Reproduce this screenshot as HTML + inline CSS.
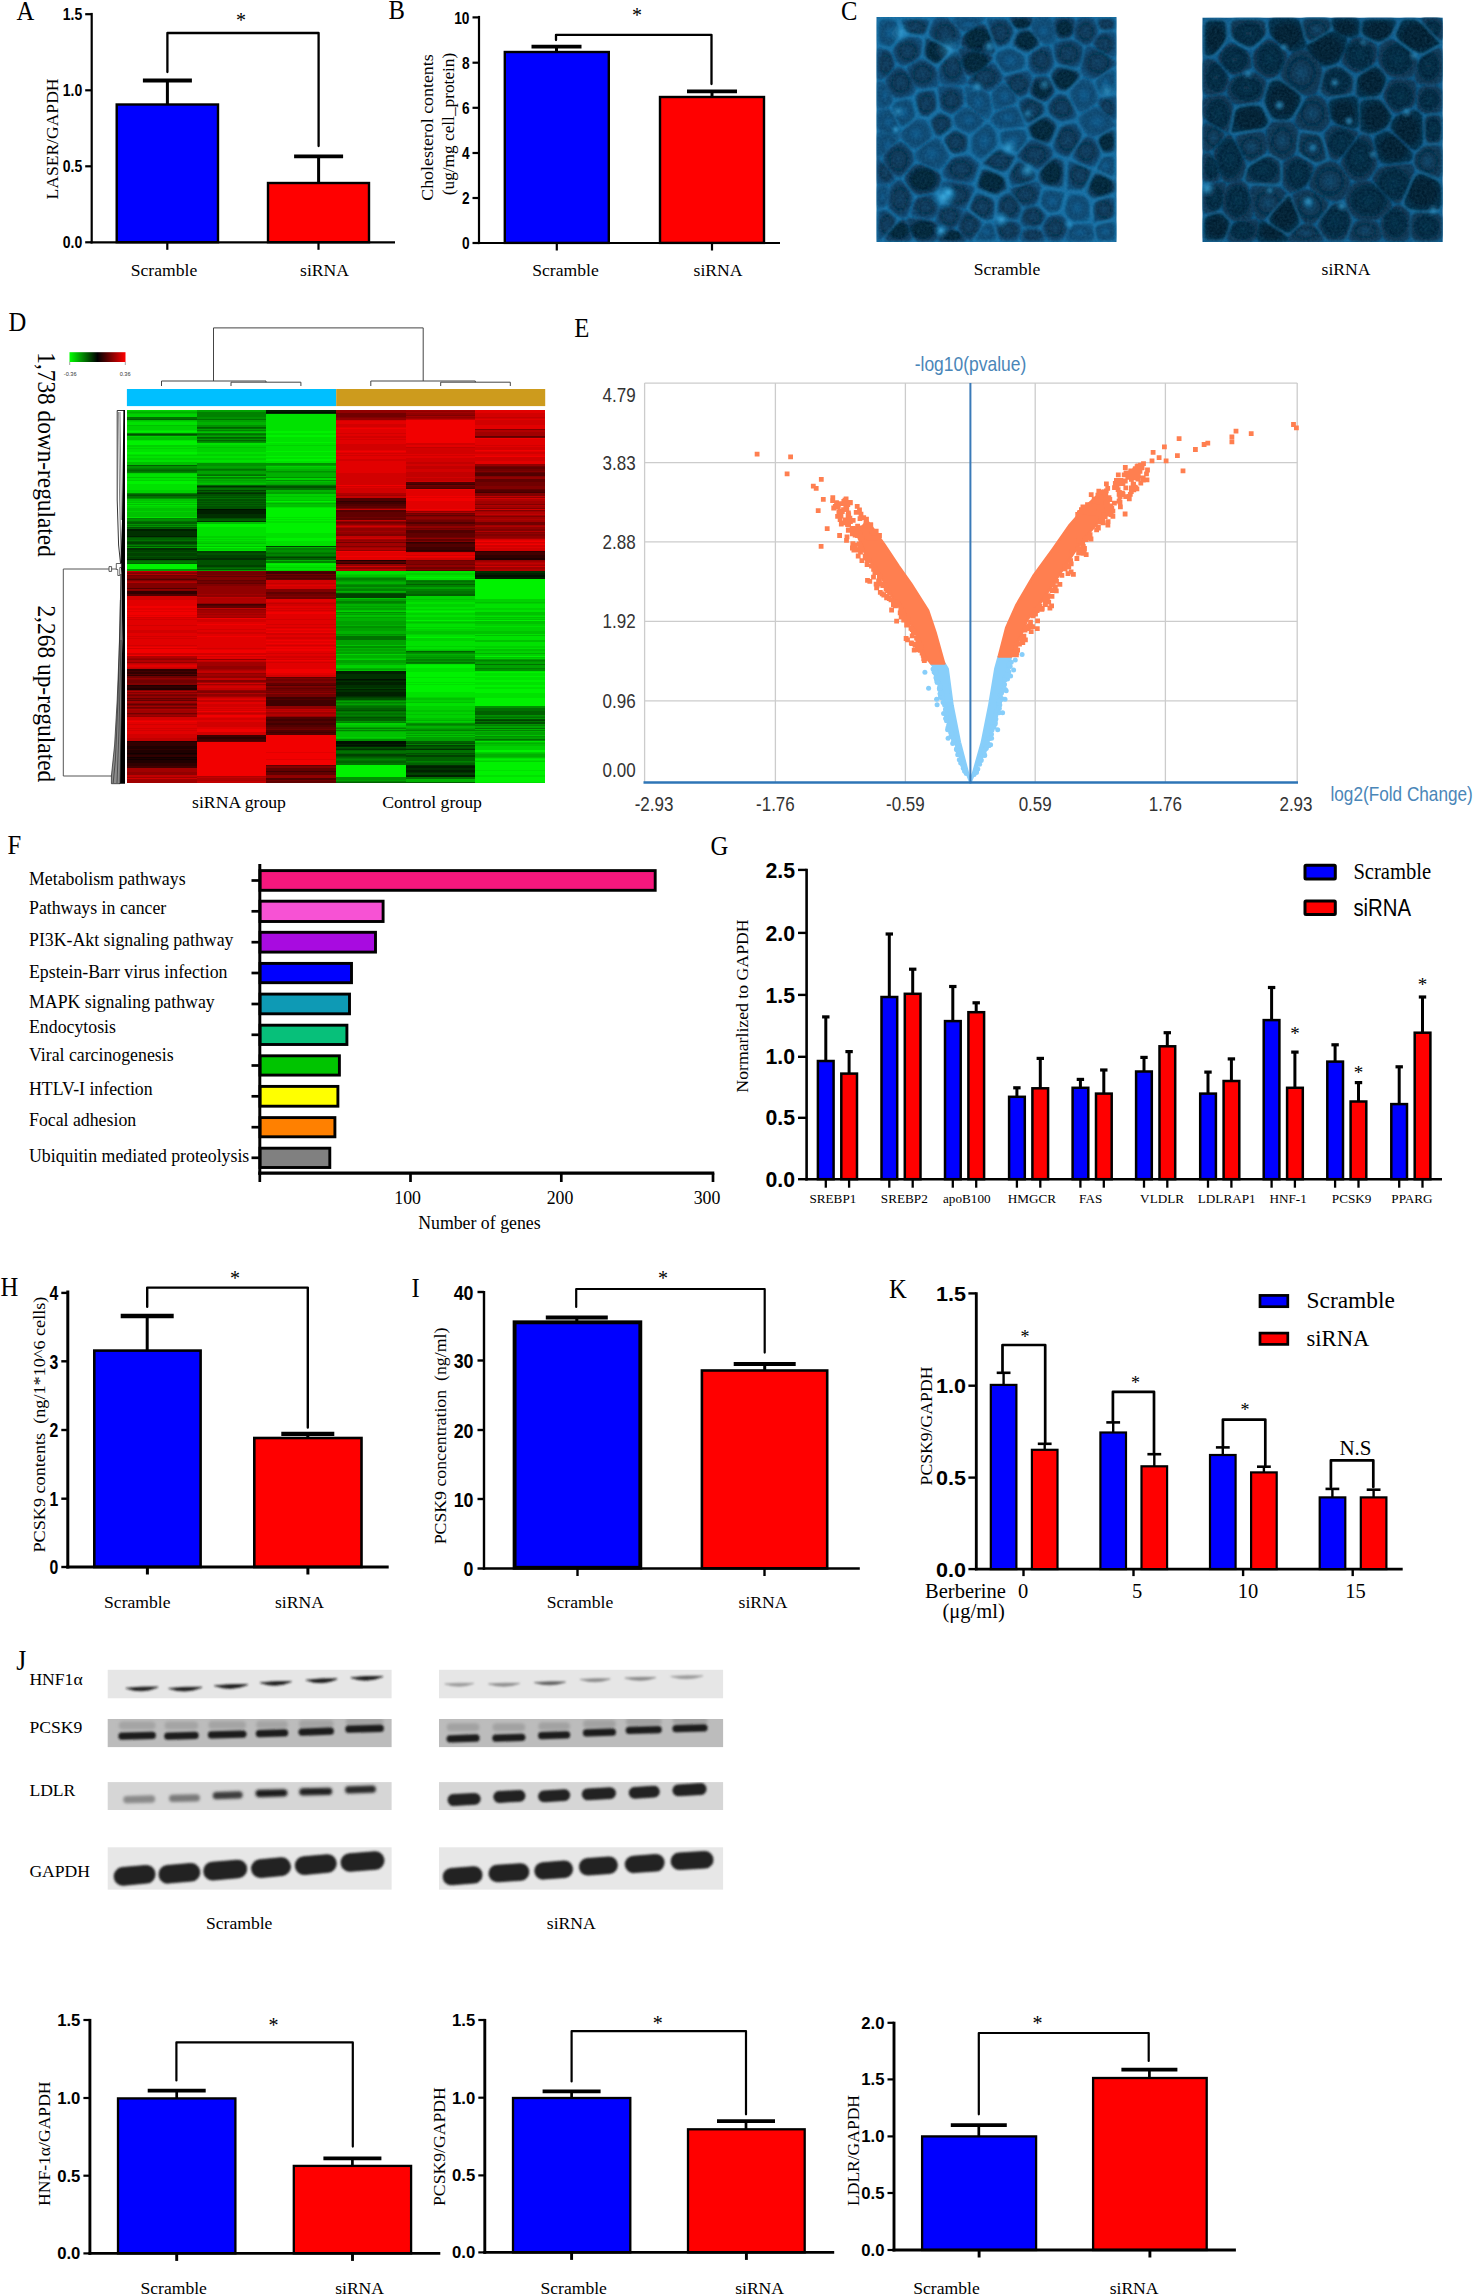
<!DOCTYPE html>
<html><head><meta charset="utf-8"><title>Figure</title>
<style>
html,body{margin:0;padding:0;background:#fff}
svg{display:block}
text{font-family:"Liberation Serif",serif}
text.a{font-family:"Liberation Sans",sans-serif}
</style></head><body>
<svg width="1474" height="2294" viewBox="0 0 1474 2294">
<rect width="1474" height="2294" fill="#fff"/>

<text x="16.6" y="19.7" font-size="28" textLength="17.8" lengthAdjust="spacingAndGlyphs">A</text>
<text x="388.5" y="19.3" font-size="28" textLength="16.4" lengthAdjust="spacingAndGlyphs">B</text>
<text x="841" y="20" font-size="28" textLength="16.4" lengthAdjust="spacingAndGlyphs">C</text>
<text x="8.5" y="331" font-size="28" textLength="17.8" lengthAdjust="spacingAndGlyphs">D</text>
<text x="574.2" y="337" font-size="28" textLength="15.1" lengthAdjust="spacingAndGlyphs">E</text>
<text x="7.5" y="854" font-size="28" textLength="13.7" lengthAdjust="spacingAndGlyphs">F</text>
<text x="710.5" y="855.2" font-size="28" textLength="17.8" lengthAdjust="spacingAndGlyphs">G</text>
<text x="0.6" y="1296.3" font-size="28" textLength="17.8" lengthAdjust="spacingAndGlyphs">H</text>
<text x="411.4" y="1297.2" font-size="28" textLength="8.2" lengthAdjust="spacingAndGlyphs">I</text>
<text x="888.9" y="1298" font-size="28" textLength="17.8" lengthAdjust="spacingAndGlyphs">K</text>
<text x="16.3" y="1670" font-size="29.3" textLength="10" lengthAdjust="spacingAndGlyphs">J</text>
<rect x="116.7" y="104.5" width="101.3" height="137.7" fill="#0000ff" stroke="#000" stroke-width="2.4"/>
<rect x="268" y="183" width="101" height="59.2" fill="#ff0000" stroke="#000" stroke-width="2.4"/>
<line x1="167.4" y1="104.5" x2="167.4" y2="80.5" stroke="#000" stroke-width="3.0"/>
<line x1="142.9" y1="80.5" x2="191.9" y2="80.5" stroke="#000" stroke-width="3.8"/>
<line x1="318.6" y1="183" x2="318.6" y2="156.3" stroke="#000" stroke-width="3.0"/>
<line x1="294.1" y1="156.3" x2="343.1" y2="156.3" stroke="#000" stroke-width="3.8"/>
<line x1="91.7" y1="12.9" x2="91.7" y2="243.4" stroke="#000" stroke-width="2.2"/>
<line x1="90.6" y1="242.3" x2="395" y2="242.3" stroke="#000" stroke-width="2.2"/>
<line x1="85.2" y1="14.2" x2="91.7" y2="14.2" stroke="#000" stroke-width="2.2"/>
<text x="82.2" y="20.2" font-size="16.7" class="a" font-weight="bold" text-anchor="end" textLength="19.5" lengthAdjust="spacingAndGlyphs">1.5</text>
<line x1="85.2" y1="90.3" x2="91.7" y2="90.3" stroke="#000" stroke-width="2.2"/>
<text x="82.2" y="96.3" font-size="16.7" class="a" font-weight="bold" text-anchor="end" textLength="19.5" lengthAdjust="spacingAndGlyphs">1.0</text>
<line x1="85.2" y1="166.3" x2="91.7" y2="166.3" stroke="#000" stroke-width="2.2"/>
<text x="82.2" y="172.3" font-size="16.7" class="a" font-weight="bold" text-anchor="end" textLength="19.5" lengthAdjust="spacingAndGlyphs">0.5</text>
<line x1="85.2" y1="242.3" x2="91.7" y2="242.3" stroke="#000" stroke-width="2.2"/>
<text x="82.2" y="248.3" font-size="16.7" class="a" font-weight="bold" text-anchor="end" textLength="19.5" lengthAdjust="spacingAndGlyphs">0.0</text>
<line x1="167.3" y1="242.3" x2="167.3" y2="249.8" stroke="#000" stroke-width="2.2"/>
<line x1="318.5" y1="242.3" x2="318.5" y2="249.8" stroke="#000" stroke-width="2.2"/>
<path d="M167.4 72V33H318.6V146" fill="none" stroke="#000" stroke-width="2.3" stroke-linejoin="round" stroke-linecap="round"/>
<text x="241" y="26.9" font-size="20" text-anchor="middle">*</text>
<text x="164" y="276.3" font-size="17.6" text-anchor="middle">Scramble</text>
<text x="324.5" y="276.3" font-size="17.6" text-anchor="middle">siRNA</text>
<text x="51.5" y="139" font-size="17.6" text-anchor="middle" transform="rotate(-90 51.5 139)" textLength="121" lengthAdjust="spacingAndGlyphs" dominant-baseline="central">LASER/GAPDH</text>
<rect x="504.8" y="52" width="104" height="190.9" fill="#0000ff" stroke="#000" stroke-width="2.4"/>
<rect x="660" y="97" width="104" height="145.9" fill="#ff0000" stroke="#000" stroke-width="2.4"/>
<line x1="556.5" y1="52" x2="556.5" y2="46.6" stroke="#000" stroke-width="3.0"/>
<line x1="531.5" y1="46.6" x2="581.5" y2="46.6" stroke="#000" stroke-width="3.8"/>
<line x1="712" y1="97" x2="712" y2="91.3" stroke="#000" stroke-width="3.0"/>
<line x1="687" y1="91.3" x2="737" y2="91.3" stroke="#000" stroke-width="3.8"/>
<line x1="479" y1="15.9" x2="479" y2="244.1" stroke="#000" stroke-width="2.2"/>
<line x1="477.9" y1="243" x2="780" y2="243" stroke="#000" stroke-width="2.2"/>
<line x1="472.5" y1="17.4" x2="479" y2="17.4" stroke="#000" stroke-width="2.2"/>
<text x="469.5" y="23.6" font-size="17.4" class="a" font-weight="bold" text-anchor="end" textLength="15.3" lengthAdjust="spacingAndGlyphs">10</text>
<line x1="472.5" y1="62.7" x2="479" y2="62.7" stroke="#000" stroke-width="2.2"/>
<text x="469.5" y="68.9" font-size="17.4" class="a" font-weight="bold" text-anchor="end" textLength="7.6" lengthAdjust="spacingAndGlyphs">8</text>
<line x1="472.5" y1="107.8" x2="479" y2="107.8" stroke="#000" stroke-width="2.2"/>
<text x="469.5" y="114" font-size="17.4" class="a" font-weight="bold" text-anchor="end" textLength="7.6" lengthAdjust="spacingAndGlyphs">6</text>
<line x1="472.5" y1="153" x2="479" y2="153" stroke="#000" stroke-width="2.2"/>
<text x="469.5" y="159.2" font-size="17.4" class="a" font-weight="bold" text-anchor="end" textLength="7.6" lengthAdjust="spacingAndGlyphs">4</text>
<line x1="472.5" y1="198" x2="479" y2="198" stroke="#000" stroke-width="2.2"/>
<text x="469.5" y="204.2" font-size="17.4" class="a" font-weight="bold" text-anchor="end" textLength="7.6" lengthAdjust="spacingAndGlyphs">2</text>
<line x1="472.5" y1="243" x2="479" y2="243" stroke="#000" stroke-width="2.2"/>
<text x="469.5" y="249.2" font-size="17.4" class="a" font-weight="bold" text-anchor="end" textLength="7.6" lengthAdjust="spacingAndGlyphs">0</text>
<line x1="556.8" y1="243" x2="556.8" y2="250.5" stroke="#000" stroke-width="2.2"/>
<line x1="712" y1="243" x2="712" y2="250.5" stroke="#000" stroke-width="2.2"/>
<path d="M556 40V34.8H711.5V84" fill="none" stroke="#000" stroke-width="2.3" stroke-linejoin="round" stroke-linecap="round"/>
<text x="637" y="22.4" font-size="20" text-anchor="middle">*</text>
<text x="565.5" y="276.3" font-size="17.6" text-anchor="middle">Scramble</text>
<text x="718" y="276.3" font-size="17.6" text-anchor="middle">siRNA</text>
<text x="426.5" y="127.5" font-size="17.6" text-anchor="middle" transform="rotate(-90 426.5 127.5)" textLength="146.5" lengthAdjust="spacingAndGlyphs" dominant-baseline="central">Cholesterol contents</text>
<text x="447.5" y="124" font-size="17.6" text-anchor="middle" transform="rotate(-90 447.5 124)" textLength="142.5" lengthAdjust="spacingAndGlyphs" dominant-baseline="central">(ug/mg cell_protein)</text>
<defs><radialGradient id="cg1a"><stop offset="0" stop-color="#0a3c60"/><stop offset="0.6" stop-color="#062e4a"/><stop offset="1" stop-color="#0b4772"/></radialGradient><radialGradient id="cg1b"><stop offset="0" stop-color="#10598c"/><stop offset="0.6" stop-color="#0a436b"/><stop offset="1" stop-color="#0d4f7c"/></radialGradient><radialGradient id="cg1c"><stop offset="0" stop-color="#052438"/><stop offset="0.6" stop-color="#041f32"/><stop offset="1" stop-color="#093b5e"/></radialGradient><radialGradient id="cg2a"><stop offset="0" stop-color="#072c45"/><stop offset="0.6" stop-color="#052338"/><stop offset="1" stop-color="#083553"/></radialGradient><radialGradient id="cg2b"><stop offset="0" stop-color="#0c4469"/><stop offset="0.6" stop-color="#062b44"/><stop offset="1" stop-color="#083654"/></radialGradient><radialGradient id="cg2c"><stop offset="0" stop-color="#041c2e"/><stop offset="0.6" stop-color="#041d2f"/><stop offset="1" stop-color="#062b44"/></radialGradient><radialGradient id="sg"><stop offset="0" stop-color="#46bdf2" stop-opacity="0.95"/><stop offset="0.5" stop-color="#2a9bd6" stop-opacity="0.5"/><stop offset="1" stop-color="#1b7fb9" stop-opacity="0"/></radialGradient>
<filter id="bl1" x="-5%" y="-5%" width="110%" height="110%"><feGaussianBlur stdDeviation="1.1"/></filter>
<filter id="bl2" x="-5%" y="-5%" width="110%" height="110%"><feGaussianBlur stdDeviation="0.9"/></filter>
<filter id="grain" x="0" y="0" width="100%" height="100%"><feTurbulence type="fractalNoise" baseFrequency="0.4" numOctaves="2" seed="4"/><feColorMatrix type="matrix" values="0 0 0 0 0.1  0 0 0 0 0.5  0 0 0 0 0.8  0.9 0.9 0 0 -0.55"/></filter>
</defs>
<clipPath id="cp1"><rect x="876.5" y="17" width="240" height="225"/></clipPath>
<g clip-path="url(#cp1)">
<rect x="874.5" y="15" width="244" height="229" fill="#176ca1"/>
<g filter="url(#bl1)" stroke-linejoin="round">
<path d="M983.3 126.2Q987.8 122.6 987.8 122.6L987.9 122.6Q988 122.5 990.3 124.9L993.9 128.6Q996.2 130.9 996.7 134.9L997.6 141.3Q998.1 145.3 993.3 149.6L985.6 156.4Q980.8 160.6 977.9 158.2L973.4 154.4Q970.6 151.9 970.9 147.3L971.5 140Q971.9 135.4 976.4 131.8Z" fill="url(#cg1b)" stroke="url(#cg1b)" stroke-width="1.2"/>
<path d="M983.3 126.2Q987.8 122.6 987.8 122.6L987.9 122.6Q988 122.5 990.3 124.9L993.9 128.6Q996.2 130.9 996.7 134.9L997.6 141.3Q998.1 145.3 993.3 149.6L985.6 156.4Q980.8 160.6 977.9 158.2L973.4 154.4Q970.6 151.9 970.9 147.3L971.5 140Q971.9 135.4 976.4 131.8Z" fill="none" stroke="#2a96d2" stroke-width="1.1" opacity="0.4"/>
<path d="M1102.1 110.7Q1097 105.5 1092.3 108.5L1084.8 113.1Q1080.1 116.1 1079.6 117.2L1079 118.9Q1078.5 120 1080.7 123.9L1084.1 130.1Q1086.3 134 1088.6 134.7L1092.3 135.9Q1094.6 136.7 1100.3 133.6L1109.3 128.8Q1115 125.7 1115 125.2L1115 124.5Q1115 124.1 1110 118.9Z" fill="url(#cg1b)" stroke="url(#cg1b)" stroke-width="1.2"/>
<path d="M930.9 132.4Q932.8 136.8 927.5 140.5L919.2 146.3Q913.8 150 910.3 146.4L904.7 140.8Q901.1 137.1 901.1 136.9L901 136.4Q900.9 136.1 901.3 134.8L901.9 132.7Q902.3 131.4 906.6 128L913.3 122.6Q917.6 119.2 920 119.7L923.7 120.6Q926.1 121.1 928 125.5Z" fill="url(#cg1b)" stroke="url(#cg1b)" stroke-width="1.2"/>
<path d="M1010.4 189.1Q1010.5 188.8 1017.8 186.7L1029.2 183.3Q1036.5 181.2 1037.8 182.8L1039.8 185.4Q1041.1 187.1 1039.9 191.7L1038 199.1Q1036.8 203.7 1033.2 204.7L1027.5 206.3Q1023.8 207.3 1020 202.4L1013.9 194.7Q1010.1 189.8 1010.2 189.6Z" fill="url(#cg1a)" stroke="url(#cg1a)" stroke-width="1.2"/>
<path d="M899 67.2Q897 66.6 893.4 70.5L887.7 76.6Q884 80.5 887 85.6L891.8 93.6Q894.8 98.8 899.5 97.8L906.9 96.3Q911.7 95.3 912.9 93.6L914.9 90.9Q916.2 89.1 912.8 83.5L907.4 74.5Q904 68.9 902.1 68.2Z" fill="url(#cg1a)" stroke="url(#cg1a)" stroke-width="1.2"/>
<path d="M910 192.3Q913.4 196.9 911.7 202.2L908.9 210.5Q907.2 215.8 906.7 216.2L905.9 216.8Q905.4 217.2 904.2 217.3L902.2 217.4Q900.9 217.5 897 214.5L891 209.9Q887.1 206.9 888.1 201.1L889.7 192Q890.7 186.2 892.5 184.7L895.3 182.3Q897.1 180.9 898.3 180.7L900.2 180.5Q901.4 180.4 904.7 185Z" fill="url(#cg1a)" stroke="url(#cg1a)" stroke-width="1.2"/>
<path d="M1031.7 24.9Q1030.5 27.6 1034.1 32.1L1039.9 39.2Q1043.5 43.6 1045.7 43.8L1049.1 44Q1051.3 44.1 1052.7 42.9L1054.9 40.9Q1056.4 39.7 1055.1 33.5L1053.1 23.9Q1051.8 17.7 1047 17.7L1039.5 17.7Q1034.7 17.7 1033.6 20.5Z" fill="url(#cg1b)" stroke="url(#cg1b)" stroke-width="1.2"/>
<path d="M1094.4 229.5Q1093.6 224.7 1099.9 223.4L1109.8 221.2Q1116 219.8 1116 225.9L1116 235.5Q1116 241.6 1110.5 241.6L1101.9 241.6Q1096.5 241.6 1095.7 236.9Z" fill="url(#cg1b)" stroke="url(#cg1b)" stroke-width="1.2"/>
<path d="M1094.4 229.5Q1093.6 224.7 1099.9 223.4L1109.8 221.2Q1116 219.8 1116 225.9L1116 235.5Q1116 241.6 1110.5 241.6L1101.9 241.6Q1096.5 241.6 1095.7 236.9Z" fill="none" stroke="#2a96d2" stroke-width="1.1" opacity="0.7"/>
<path d="M1031.9 167Q1037.4 170.8 1041.9 166.2L1049.1 159.1Q1053.6 154.5 1052.6 152.4L1051 149.2Q1050 147.1 1044.5 144.9L1035.8 141.4Q1030.3 139.2 1026.7 143.8L1021 150.9Q1017.4 155.4 1017.5 155.9L1017.6 156.8Q1017.7 157.3 1023.2 161.1Z" fill="url(#cg1a)" stroke="url(#cg1a)" stroke-width="1.2"/>
<path d="M903.3 29.2Q904.9 33.5 910.1 34.2L918.2 35.3Q923.4 36 924 35.6L924.9 35Q925.5 34.7 927.3 30.1L930.1 22.9Q931.9 18.3 922.8 18.3L908.5 18.3Q899.4 18.3 900.9 22.6Z" fill="url(#cg1a)" stroke="url(#cg1a)" stroke-width="1.2"/>
<path d="M903.3 29.2Q904.9 33.5 910.1 34.2L918.2 35.3Q923.4 36 924 35.6L924.9 35Q925.5 34.7 927.3 30.1L930.1 22.9Q931.9 18.3 922.8 18.3L908.5 18.3Q899.4 18.3 900.9 22.6Z" fill="none" stroke="#2a96d2" stroke-width="1.1" opacity="0.7"/>
<path d="M1012.9 26.8Q1015.3 30.1 1013.6 34L1010.9 40.3Q1009.3 44.2 1005.7 45.4L1000.2 47.3Q996.7 48.5 993.8 40.9L989.2 29Q986.2 21.4 986.5 20.5L986.9 19.2Q987.2 18.3 992.7 18.3L1001.3 18.3Q1006.7 18.3 1009.1 21.6Z" fill="url(#cg1a)" stroke="url(#cg1a)" stroke-width="1.2"/>
<path d="M1012.9 26.8Q1015.3 30.1 1013.6 34L1010.9 40.3Q1009.3 44.2 1005.7 45.4L1000.2 47.3Q996.7 48.5 993.8 40.9L989.2 29Q986.2 21.4 986.5 20.5L986.9 19.2Q987.2 18.3 992.7 18.3L1001.3 18.3Q1006.7 18.3 1009.1 21.6Z" fill="none" stroke="#2a96d2" stroke-width="1.1" opacity="0.5"/>
<path d="M937.5 85.3Q937.9 84.9 937.5 80.3L936.8 73.1Q936.4 68.5 932.5 65.7L926.3 61.3Q922.4 58.5 917.6 61.2L910.1 65.4Q905.4 68.1 908.8 74L914.3 83.1Q917.8 88.9 923 88.2L931.3 87Q936.5 86.2 936.9 85.9Z" fill="url(#cg1a)" stroke="url(#cg1a)" stroke-width="1.2"/>
<path d="M899.1 134.2Q898.7 135.5 892.7 134.1L883.3 131.9Q877.4 130.4 877.4 125L877.4 116.5Q877.4 111.1 880.9 110.4L886.3 109.4Q889.8 108.7 892.7 114.8L897.2 124.5Q900.1 130.7 899.7 132Z" fill="url(#cg1b)" stroke="url(#cg1b)" stroke-width="1.2"/>
<path d="M990.2 220.5Q992.3 220.2 993 219.6L993.9 218.6Q994.6 218 995 212.7L995.6 204.4Q996.1 199.1 990.5 196.9L981.6 193.4Q976 191.2 973.6 196.2L969.7 204.2Q967.2 209.3 972.1 212.7L979.8 218Q984.7 221.3 986.9 221Z" fill="url(#cg1a)" stroke="url(#cg1a)" stroke-width="1.2"/>
<path d="M990.2 220.5Q992.3 220.2 993 219.6L993.9 218.6Q994.6 218 995 212.7L995.6 204.4Q996.1 199.1 990.5 196.9L981.6 193.4Q976 191.2 973.6 196.2L969.7 204.2Q967.2 209.3 972.1 212.7L979.8 218Q984.7 221.3 986.9 221Z" fill="none" stroke="#2a96d2" stroke-width="1.1" opacity="0.7"/>
<path d="M988.4 166.9Q981.6 164 981.6 163.7L981.5 163.4Q981.4 163.1 986.5 158.6L994.6 151.5Q999.7 146.9 1004.3 149.4L1011.3 153.3Q1015.8 155.7 1015.9 156.3L1016.1 157.1Q1016.2 157.6 1013.3 162.3L1008.7 169.8Q1005.8 174.5 999.1 171.6Z" fill="url(#cg1a)" stroke="url(#cg1a)" stroke-width="1.2"/>
<path d="M988.4 166.9Q981.6 164 981.6 163.7L981.5 163.4Q981.4 163.1 986.5 158.6L994.6 151.5Q999.7 146.9 1004.3 149.4L1011.3 153.3Q1015.8 155.7 1015.9 156.3L1016.1 157.1Q1016.2 157.6 1013.3 162.3L1008.7 169.8Q1005.8 174.5 999.1 171.6Z" fill="none" stroke="#2a96d2" stroke-width="1.1" opacity="0.6"/>
<path d="M1002.5 77.3Q1002.6 76.4 999.9 72.1L995.7 65.4Q993 61.2 986.1 66.5L975.3 74.9Q968.4 80.2 968 81.2L967.5 82.8Q967.2 83.8 973.6 86L983.6 89.5Q990 91.7 993.4 88.3L998.8 83.1Q1002.2 79.8 1002.3 78.8Z" fill="url(#cg1a)" stroke="url(#cg1a)" stroke-width="1.2"/>
<path d="M1067.4 189.8Q1067.8 190.2 1072.3 190.3L1079.3 190.5Q1083.8 190.6 1086.3 184.9L1090.4 176Q1092.9 170.3 1092.9 170.2L1092.9 170.1Q1092.8 170.1 1086.4 167.3L1076.4 163Q1070 160.3 1069.3 160.5L1068.2 160.8Q1067.5 161 1067.2 168.7L1066.8 180.9Q1066.5 188.7 1066.9 189.1Z" fill="url(#cg1a)" stroke="url(#cg1a)" stroke-width="1.2"/>
<path d="M1067.4 189.8Q1067.8 190.2 1072.3 190.3L1079.3 190.5Q1083.8 190.6 1086.3 184.9L1090.4 176Q1092.9 170.3 1092.9 170.2L1092.9 170.1Q1092.8 170.1 1086.4 167.3L1076.4 163Q1070 160.3 1069.3 160.5L1068.2 160.8Q1067.5 161 1067.2 168.7L1066.8 180.9Q1066.5 188.7 1066.9 189.1Z" fill="none" stroke="#2a96d2" stroke-width="1.1" opacity="0.6"/>
<path d="M946.4 84.4Q940 84.2 939.6 79.8L938.9 72.8Q938.5 68.4 942.8 63.7L949.7 56.4Q954 51.8 954.9 51.6L956.2 51.4Q957.1 51.2 959.6 59.2L963.6 71.6Q966.2 79.5 965.9 80.5L965.4 82Q965.1 83 964.5 83.5L963.6 84.3Q963 84.8 956.5 84.6Z" fill="url(#cg1a)" stroke="url(#cg1a)" stroke-width="1.2"/>
<path d="M935.1 39.3Q927.9 35.5 929.8 30.7L932.8 23Q934.7 18.1 938.4 18.1L944.2 18.1Q947.9 18.1 951.7 22.7L957.7 29.9Q961.5 34.6 960.6 38L959.4 43.4Q958.5 46.9 958 47.3L957.3 48Q956.8 48.5 955.9 48.7L954.5 48.9Q953.6 49.1 946.4 45.3Z" fill="url(#cg1a)" stroke="url(#cg1a)" stroke-width="1.2"/>
<path d="M1076.9 116Q1077.3 114.9 1074.2 109.2L1069.3 100.1Q1066.1 94.4 1063.6 94.1L1059.8 93.7Q1057.3 93.5 1054.4 96.6L1049.9 101.4Q1047.1 104.5 1047.3 106.9L1047.6 110.7Q1047.8 113.1 1051.3 115.7L1056.7 119.8Q1060.2 122.4 1064.6 121.4L1071.4 119.8Q1075.8 118.7 1076.2 117.7Z" fill="url(#cg1a)" stroke="url(#cg1a)" stroke-width="1.2"/>
<path d="M1076.9 116Q1077.3 114.9 1074.2 109.2L1069.3 100.1Q1066.1 94.4 1063.6 94.1L1059.8 93.7Q1057.3 93.5 1054.4 96.6L1049.9 101.4Q1047.1 104.5 1047.3 106.9L1047.6 110.7Q1047.8 113.1 1051.3 115.7L1056.7 119.8Q1060.2 122.4 1064.6 121.4L1071.4 119.8Q1075.8 118.7 1076.2 117.7Z" fill="none" stroke="#2a96d2" stroke-width="1.1" opacity="0.4"/>
<path d="M1093.1 222.9Q1092.9 222.7 1092.8 216.6L1092.7 207.1Q1092.6 201.1 1099 199.4L1109 196.7Q1115.4 195 1115.4 201.6L1115.4 212.1Q1115.4 218.7 1109.3 220.1L1099.8 222.1Q1093.8 223.5 1093.5 223.3Z" fill="url(#cg1a)" stroke="url(#cg1a)" stroke-width="1.2"/>
<path d="M1093.1 222.9Q1092.9 222.7 1092.8 216.6L1092.7 207.1Q1092.6 201.1 1099 199.4L1109 196.7Q1115.4 195 1115.4 201.6L1115.4 212.1Q1115.4 218.7 1109.3 220.1L1099.8 222.1Q1093.8 223.5 1093.5 223.3Z" fill="none" stroke="#2a96d2" stroke-width="1.1" opacity="0.7"/>
<path d="M886.3 50.4Q889.9 51.3 891.5 55.2L894 61.3Q895.6 65.2 892 69L886.4 75Q882.9 78.8 881.3 78.9L878.8 79.1Q877.3 79.2 877.3 70.4L877.3 56.6Q877.3 47.8 880.8 48.8Z" fill="url(#cg1a)" stroke="url(#cg1a)" stroke-width="1.2"/>
<path d="M910.4 165.6Q914 161.3 913.6 158.9L913 155.2Q912.6 152.8 909.1 149.2L903.4 143.5Q899.8 139.9 894.5 145.1L886 153.3Q880.6 158.6 885.2 163.8L892.5 171.9Q897.1 177.1 898.3 177L900.2 176.8Q901.4 176.7 904.9 172.4Z" fill="url(#cg1a)" stroke="url(#cg1a)" stroke-width="1.2"/>
<path d="M1060 91.1Q1057.4 90.9 1055.2 86.6L1051.6 80Q1049.3 75.7 1051.4 72.9L1054.5 68.4Q1056.5 65.5 1062.7 67L1072.5 69.3Q1078.8 70.7 1079.5 72.3L1080.5 74.7Q1081.2 76.3 1077.1 80.6L1070.6 87.4Q1066.5 91.8 1063.9 91.5Z" fill="url(#cg1c)" stroke="url(#cg1c)" stroke-width="1.2"/>
<path d="M1060 91.1Q1057.4 90.9 1055.2 86.6L1051.6 80Q1049.3 75.7 1051.4 72.9L1054.5 68.4Q1056.5 65.5 1062.7 67L1072.5 69.3Q1078.8 70.7 1079.5 72.3L1080.5 74.7Q1081.2 76.3 1077.1 80.6L1070.6 87.4Q1066.5 91.8 1063.9 91.5Z" fill="none" stroke="#2a96d2" stroke-width="1.1" opacity="0.6"/>
<path d="M991.8 118.5Q990.7 120.6 993 122.9L996.5 126.5Q998.8 128.8 1005.9 128.1L1017 126.9Q1024.1 126.1 1024.1 126L1024.1 126Q1024.1 125.9 1021.9 120.1L1018.3 111.1Q1016 105.3 1010.1 107.5L1000.7 111Q994.8 113.2 993.6 115.3Z" fill="url(#cg1b)" stroke="url(#cg1b)" stroke-width="1.2"/>
<path d="M939.6 174.8Q939.1 172.8 932.7 170.1L922.6 165.8Q916.2 163 912.7 167.4L907.2 174.2Q903.6 178.5 907 183.2L912.3 190.4Q915.7 195.1 921.6 194.2L930.8 192.7Q936.7 191.8 937.9 188.5L939.8 183.2Q941 179.9 940.5 177.9Z" fill="url(#cg1c)" stroke="url(#cg1c)" stroke-width="1.2"/>
<path d="M907 98.5Q911.6 97.6 913.1 103L915.3 111.5Q916.7 116.9 912.4 120.4L905.5 125.8Q901.2 129.3 898.4 123.3L893.9 113.9Q891.1 107.8 892.2 105.9L894 102.9Q895.1 101 899.7 100Z" fill="url(#cg1b)" stroke="url(#cg1b)" stroke-width="1.2"/>
<path d="M907 98.5Q911.6 97.6 913.1 103L915.3 111.5Q916.7 116.9 912.4 120.4L905.5 125.8Q901.2 129.3 898.4 123.3L893.9 113.9Q891.1 107.8 892.2 105.9L894 102.9Q895.1 101 899.7 100Z" fill="none" stroke="#2a96d2" stroke-width="1.1" opacity="0.5"/>
<path d="M939.4 227.4Q940.9 229.9 944.8 229.4L951.1 228.5Q955.1 228 957.7 222.8L961.9 214.8Q964.5 209.6 958.2 207.5L948.2 204.1Q941.9 202 940.1 207.2L937.4 215.5Q935.6 220.7 937.1 223.3Z" fill="url(#cg1a)" stroke="url(#cg1a)" stroke-width="1.2"/>
<path d="M930.4 115.5Q927.3 117.9 924.9 117.4L921.3 116.5Q918.9 116 917.5 110.7L915.3 102.4Q913.9 97.1 915.2 95.4L917.1 92.8Q918.3 91.2 923.2 90.5L930.9 89.3Q935.8 88.6 936.5 94.4L937.6 103.5Q938.3 109.3 935.2 111.7Z" fill="url(#cg1a)" stroke="url(#cg1a)" stroke-width="1.2"/>
<path d="M930.4 115.5Q927.3 117.9 924.9 117.4L921.3 116.5Q918.9 116 917.5 110.7L915.3 102.4Q913.9 97.1 915.2 95.4L917.1 92.8Q918.3 91.2 923.2 90.5L930.9 89.3Q935.8 88.6 936.5 94.4L937.6 103.5Q938.3 109.3 935.2 111.7Z" fill="none" stroke="#2a96d2" stroke-width="1.1" opacity="0.7"/>
<path d="M902.2 220.2Q900.9 220.3 895.7 226.1L887.5 235.2Q882.3 241 891 241L904.7 241Q913.5 241 911.2 235.1L907.7 225.9Q905.5 220 904.2 220.1Z" fill="url(#cg1c)" stroke="url(#cg1c)" stroke-width="1.2"/>
<path d="M933.3 167.7Q939.8 170.4 942.5 166.6L946.8 160.6Q949.6 156.8 946.7 152L942.2 144.4Q939.3 139.5 938 139.3L936 138.8Q934.8 138.6 929.4 142.3L920.9 148.3Q915.5 152 915.8 154.4L916.4 158.2Q916.8 160.6 923.2 163.4Z" fill="url(#cg1b)" stroke="url(#cg1b)" stroke-width="1.2"/>
<path d="M954.3 119.3Q953.8 116.6 957.1 113.7L962.3 109.1Q965.6 106.2 971.3 110.2L980.3 116.6Q986 120.7 981.5 124.3L974.5 130Q970 133.6 965.9 131.5L959.6 128.2Q955.6 126.1 955.1 123.5Z" fill="url(#cg1b)" stroke="url(#cg1b)" stroke-width="1.2"/>
<path d="M1067.3 228.9Q1069.4 224.4 1067 221.6L1063.2 217.4Q1060.8 214.6 1057.4 215.2L1052 216Q1048.5 216.5 1046.6 219.7L1043.7 224.8Q1041.8 228 1043.7 231.6L1046.6 237.2Q1048.5 240.7 1052.2 240.7L1058.1 240.7Q1061.8 240.7 1063.9 236.1Z" fill="url(#cg1a)" stroke="url(#cg1a)" stroke-width="1.2"/>
<path d="M938.1 227.8Q939.6 230.3 938.4 233.4L936.6 238.2Q935.5 241.2 929.8 241.2L920.9 241.2Q915.2 241.2 912.9 235.2L909.3 225.6Q907 219.6 907.5 219.2L908.3 218.5Q908.8 218.1 916 219L927.3 220.4Q934.4 221.3 935.9 223.8Z" fill="url(#cg1c)" stroke="url(#cg1c)" stroke-width="1.2"/>
<path d="M1088.2 136.9Q1085.9 136.2 1081.7 142.3L1075.1 151.8Q1070.9 157.9 1077.4 160.6L1087.6 165Q1094.1 167.8 1096 164.1L1099 158.3Q1100.9 154.5 1099 150.1L1096 143.2Q1094.1 138.9 1091.8 138.1Z" fill="url(#cg1a)" stroke="url(#cg1a)" stroke-width="1.2"/>
<path d="M969.3 31.3Q963.5 35 962.6 38.4L961.4 43.7Q960.6 47.1 969.5 49.2L983.5 52.3Q992.4 54.4 993.2 53.1L994.4 51.1Q995.1 49.8 992.1 42L987.3 29.8Q984.3 22 978.5 25.6Z" fill="url(#cg1c)" stroke="url(#cg1c)" stroke-width="1.2"/>
<path d="M1004.6 77.7Q1004.7 76.8 1010.9 75.1L1020.6 72.5Q1026.8 70.8 1028.4 72.4L1030.9 74.8Q1032.4 76.4 1030.9 81.4L1028.6 89.2Q1027.1 94.2 1024.8 95.2L1021.2 96.8Q1018.9 97.9 1014.9 92.9L1008.5 85.1Q1004.4 80.1 1004.5 79.2Z" fill="url(#cg1a)" stroke="url(#cg1a)" stroke-width="1.2"/>
<path d="M1006.2 193Q1009.4 190.9 1013.1 195.6L1019 203.1Q1022.8 207.8 1021.5 211.4L1019.6 217.2Q1018.4 220.8 1012.2 220L1002.6 218.9Q996.5 218.1 996.9 212.6L997.6 204Q998 198.5 1001.2 196.4Z" fill="url(#cg1a)" stroke="url(#cg1a)" stroke-width="1.2"/>
<path d="M1006.2 193Q1009.4 190.9 1013.1 195.6L1019 203.1Q1022.8 207.8 1021.5 211.4L1019.6 217.2Q1018.4 220.8 1012.2 220L1002.6 218.9Q996.5 218.1 996.9 212.6L997.6 204Q998 198.5 1001.2 196.4Z" fill="none" stroke="#2a96d2" stroke-width="1.1" opacity="0.4"/>
<path d="M1090.2 78.5Q1092.8 79.7 1099.1 75.6L1109 69.1Q1115.3 64.9 1115.3 64L1115.3 62.4Q1115.3 61.5 1108.3 57.2L1097.2 50.4Q1090.2 46.1 1089.1 46.4L1087.4 46.9Q1086.3 47.2 1084.8 53.5L1082.3 63.4Q1080.8 69.7 1081.5 71.3L1082.6 73.8Q1083.3 75.4 1086 76.6Z" fill="url(#cg1a)" stroke="url(#cg1a)" stroke-width="1.2"/>
<path d="M1109.9 176.6Q1115.4 179.4 1115.4 172.5L1115.4 161.6Q1115.4 154.7 1111.7 155L1106 155.5Q1102.3 155.9 1100.4 159.6L1097.5 165.4Q1095.6 169.1 1095.6 169.1L1095.6 169.2Q1095.6 169.3 1101.2 172.1Z" fill="url(#cg1b)" stroke="url(#cg1b)" stroke-width="1.2"/>
<path d="M1109.9 176.6Q1115.4 179.4 1115.4 172.5L1115.4 161.6Q1115.4 154.7 1111.7 155L1106 155.5Q1102.3 155.9 1100.4 159.6L1097.5 165.4Q1095.6 169.1 1095.6 169.1L1095.6 169.2Q1095.6 169.3 1101.2 172.1Z" fill="none" stroke="#2a96d2" stroke-width="1.1" opacity="0.7"/>
<path d="M889.4 212.3Q885.6 209.3 883.3 209.7L879.6 210.2Q877.3 210.6 877.3 218.8L877.3 231.8Q877.3 240.1 878.3 240.1L879.9 240.1Q880.9 240.1 886 234.4L894 225.5Q899.1 219.8 895.3 216.9Z" fill="url(#cg1a)" stroke="url(#cg1a)" stroke-width="1.2"/>
<path d="M889.4 212.3Q885.6 209.3 883.3 209.7L879.6 210.2Q877.3 210.6 877.3 218.8L877.3 231.8Q877.3 240.1 878.3 240.1L879.9 240.1Q880.9 240.1 886 234.4L894 225.5Q899.1 219.8 895.3 216.9Z" fill="none" stroke="#2a96d2" stroke-width="1.1" opacity="0.4"/>
<path d="M976.9 187.6Q977.2 188.5 982.7 190.7L991.3 194.1Q996.8 196.3 999.8 194.3L1004.5 191.1Q1007.5 189.1 1007.6 188.8L1007.7 188.4Q1007.8 188.1 1006.9 184.8L1005.5 179.7Q1004.6 176.4 998.3 173.7L988.4 169.4Q982 166.6 980.3 171.8L977.7 180Q976 185.2 976.3 186.1Z" fill="url(#cg1c)" stroke="url(#cg1c)" stroke-width="1.2"/>
<path d="M976.9 187.6Q977.2 188.5 982.7 190.7L991.3 194.1Q996.8 196.3 999.8 194.3L1004.5 191.1Q1007.5 189.1 1007.6 188.8L1007.7 188.4Q1007.8 188.1 1006.9 184.8L1005.5 179.7Q1004.6 176.4 998.3 173.7L988.4 169.4Q982 166.6 980.3 171.8L977.7 180Q976 185.2 976.3 186.1Z" fill="none" stroke="#2a96d2" stroke-width="1.1" opacity="0.7"/>
<path d="M959.2 241.6Q967.7 241.6 964.2 238L958.6 232.4Q955 228.9 951.2 229.4L945.1 230.3Q941.2 230.8 940.1 233.8L938.3 238.6Q937.1 241.6 945.7 241.6Z" fill="url(#cg1c)" stroke="url(#cg1c)" stroke-width="1.2"/>
<path d="M1039.7 181.4Q1038.6 179.9 1038.7 177.6L1038.9 174Q1039.1 171.7 1043.2 167.5L1049.7 161Q1053.8 156.9 1056.8 158L1061.4 159.9Q1064.4 161 1064.1 168.6L1063.7 180.6Q1063.4 188.1 1057.6 187.3L1048.5 186.1Q1042.7 185.2 1041.6 183.7Z" fill="url(#cg1c)" stroke="url(#cg1c)" stroke-width="1.2"/>
<path d="M1039.7 181.4Q1038.6 179.9 1038.7 177.6L1038.9 174Q1039.1 171.7 1043.2 167.5L1049.7 161Q1053.8 156.9 1056.8 158L1061.4 159.9Q1064.4 161 1064.1 168.6L1063.7 180.6Q1063.4 188.1 1057.6 187.3L1048.5 186.1Q1042.7 185.2 1041.6 183.7Z" fill="none" stroke="#2a96d2" stroke-width="1.1" opacity="0.4"/>
<path d="M974.1 178.1Q972.4 183.4 964.7 182L952.5 179.9Q944.7 178.5 944.2 176.6L943.4 173.5Q942.8 171.6 945.5 167.9L949.7 162.1Q952.4 158.3 956.8 157.4L963.8 156Q968.2 155.1 971 157.5L975.5 161.4Q978.4 163.8 978.4 164L978.5 164.4Q978.6 164.6 976.8 169.8Z" fill="url(#cg1a)" stroke="url(#cg1a)" stroke-width="1.2"/>
<path d="M1027.5 127Q1027.5 126.9 1032.6 123.6L1040.7 118.3Q1045.8 115 1049.3 117.6L1054.8 121.7Q1058.3 124.3 1055.8 130.2L1052 139.5Q1049.6 145.4 1044.4 143.3L1036.2 140Q1031 137.9 1030 134.9L1028.4 130.2Q1027.4 127.1 1027.4 127.1Z" fill="url(#cg1c)" stroke="url(#cg1c)" stroke-width="1.2"/>
<path d="M1027.5 127Q1027.5 126.9 1032.6 123.6L1040.7 118.3Q1045.8 115 1049.3 117.6L1054.8 121.7Q1058.3 124.3 1055.8 130.2L1052 139.5Q1049.6 145.4 1044.4 143.3L1036.2 140Q1031 137.9 1030 134.9L1028.4 130.2Q1027.4 127.1 1027.4 127.1Z" fill="none" stroke="#2a96d2" stroke-width="1.1" opacity="0.5"/>
<path d="M1085.2 221.9Q1090.5 221.7 1090.4 215.9L1090.3 206.8Q1090.3 201 1088.4 199L1085.6 196Q1083.8 194 1079.4 193.9L1072.4 193.7Q1068 193.6 1066.7 199L1064.6 207.4Q1063.3 212.7 1065.6 215.4L1069.2 219.5Q1071.6 222.2 1076.9 222.1Z" fill="url(#cg1b)" stroke="url(#cg1b)" stroke-width="1.2"/>
<path d="M1085.2 221.9Q1090.5 221.7 1090.4 215.9L1090.3 206.8Q1090.3 201 1088.4 199L1085.6 196Q1083.8 194 1079.4 193.9L1072.4 193.7Q1068 193.6 1066.7 199L1064.6 207.4Q1063.3 212.7 1065.6 215.4L1069.2 219.5Q1071.6 222.2 1076.9 222.1Z" fill="none" stroke="#2a96d2" stroke-width="1.1" opacity="0.6"/>
<path d="M1076.8 39.9Q1073.3 37.9 1074.4 32.3L1076.1 23.6Q1077.3 18 1081.9 18L1089.2 18Q1093.9 18 1095.2 21.9L1097.2 28.1Q1098.5 32 1096 35.5L1092.2 40.8Q1089.7 44.2 1088.6 44.5L1086.9 45Q1085.9 45.3 1082.3 43.2Z" fill="url(#cg1a)" stroke="url(#cg1a)" stroke-width="1.2"/>
<path d="M1051.4 51.5Q1050.4 46.6 1048.3 46.5L1045.2 46.3Q1043.1 46.2 1039.2 48.9L1032.9 53.1Q1028.9 55.8 1028.9 59.4L1029 65.1Q1029.1 68.8 1030.6 70.3L1033 72.6Q1034.5 74.2 1038 74.1L1043.7 74Q1047.2 73.9 1049.2 71.1L1052.2 66.8Q1054.1 64.1 1053.1 59.2Z" fill="url(#cg1a)" stroke="url(#cg1a)" stroke-width="1.2"/>
<path d="M1042 192.7Q1043.1 188.4 1048.9 189.3L1058 190.5Q1063.8 191.4 1064.2 191.8L1064.8 192.4Q1065.1 192.9 1063.8 198.2L1061.8 206.5Q1060.4 211.8 1057.1 212.4L1051.9 213.2Q1048.5 213.7 1045.9 210.9L1041.8 206.5Q1039.1 203.7 1040.2 199.4Z" fill="url(#cg1b)" stroke="url(#cg1b)" stroke-width="1.2"/>
<path d="M1042 192.7Q1043.1 188.4 1048.9 189.3L1058 190.5Q1063.8 191.4 1064.2 191.8L1064.8 192.4Q1065.1 192.9 1063.8 198.2L1061.8 206.5Q1060.4 211.8 1057.1 212.4L1051.9 213.2Q1048.5 213.7 1045.9 210.9L1041.8 206.5Q1039.1 203.7 1040.2 199.4Z" fill="none" stroke="#2a96d2" stroke-width="1.1" opacity="0.6"/>
<path d="M1096.6 101.5Q1096 103.2 1091.4 106L1084.3 110.5Q1079.7 113.3 1076.6 107.6L1071.8 98.7Q1068.7 93 1072.7 88.8L1079 82.3Q1083 78.1 1085.5 79.2L1089.5 81Q1092 82.2 1093.7 86.4L1096.3 93Q1097.9 97.2 1097.4 98.8Z" fill="url(#cg1b)" stroke="url(#cg1b)" stroke-width="1.2"/>
<path d="M1053.8 43.8Q1052.3 45 1053.5 50.3L1055.2 58.5Q1056.4 63.8 1062.8 65.3L1072.9 67.6Q1079.3 69.2 1080.9 62.8L1083.3 52.8Q1084.9 46.4 1081.3 44.3L1075.7 41Q1072.1 38.8 1068 39.3L1061.5 40.1Q1057.4 40.6 1056 41.8Z" fill="url(#cg1a)" stroke="url(#cg1a)" stroke-width="1.2"/>
<path d="M1053.8 43.8Q1052.3 45 1053.5 50.3L1055.2 58.5Q1056.4 63.8 1062.8 65.3L1072.9 67.6Q1079.3 69.2 1080.9 62.8L1083.3 52.8Q1084.9 46.4 1081.3 44.3L1075.7 41Q1072.1 38.8 1068 39.3L1061.5 40.1Q1057.4 40.6 1056 41.8Z" fill="none" stroke="#2a96d2" stroke-width="1.1" opacity="0.4"/>
<path d="M973.7 188.4Q974 189.5 971.5 194.8L967.4 203.2Q964.8 208.5 964.8 208.5L964.8 208.5Q964.8 208.5 958.6 206.4L948.8 203.1Q942.5 200.9 941.5 198.7L939.9 195.3Q938.9 193.1 940.1 189.6L942.1 184.2Q943.4 180.7 951.6 182.2L964.5 184.4Q972.7 185.8 973.1 186.9Z" fill="url(#cg1a)" stroke="url(#cg1a)" stroke-width="1.2"/>
<path d="M895.6 46.4Q892.5 50.2 894 54L896.4 59.9Q898 63.7 899.8 64.3L902.7 65.2Q904.6 65.8 909 63.3L915.9 59.3Q920.3 56.8 920.8 51.8L921.6 43.9Q922.1 38.9 916.9 38.2L908.9 37.1Q903.7 36.4 900.6 40.3Z" fill="url(#cg1a)" stroke="url(#cg1a)" stroke-width="1.2"/>
<path d="M955.5 111.6Q952.2 114.6 949 113L944 110.5Q940.8 108.9 940.1 103L938.9 93.7Q938.2 87.8 938.6 87.5L939.2 86.9Q939.6 86.6 946 86.7L956 87Q962.4 87.1 962.9 91.9L963.6 99.3Q964.1 104 960.7 107Z" fill="url(#cg1a)" stroke="url(#cg1a)" stroke-width="1.2"/>
<path d="M930.9 195.3Q936.6 194.4 937.5 196.5L939 199.7Q940 201.8 938.4 206.6L935.8 214.3Q934.2 219.1 927.5 218.3L916.9 216.9Q910.2 216.1 911.9 210.9L914.5 202.8Q916.2 197.6 921.9 196.8Z" fill="url(#cg1a)" stroke="url(#cg1a)" stroke-width="1.2"/>
<path d="M1001.2 70.7Q1003.8 74.8 1010 73.1L1019.7 70.5Q1025.8 68.8 1025.8 65.1L1025.7 59.2Q1025.6 55.4 1021.3 53L1014.4 49.3Q1010 46.9 1006.4 48.1L1000.8 50Q997.3 51.2 996.5 52.4L995.3 54.4Q994.6 55.6 994.6 56.9L994.6 58.8Q994.5 60 997.1 64.1Z" fill="url(#cg1b)" stroke="url(#cg1b)" stroke-width="1.2"/>
<path d="M1001.2 70.7Q1003.8 74.8 1010 73.1L1019.7 70.5Q1025.8 68.8 1025.8 65.1L1025.7 59.2Q1025.6 55.4 1021.3 53L1014.4 49.3Q1010 46.9 1006.4 48.1L1000.8 50Q997.3 51.2 996.5 52.4L995.3 54.4Q994.6 55.6 994.6 56.9L994.6 58.8Q994.5 60 997.1 64.1Z" fill="none" stroke="#2a96d2" stroke-width="1.1" opacity="0.6"/>
<path d="M951.9 119.7Q951.4 117.1 948.2 115.5L943.2 113Q940 111.4 936.9 113.9L932 117.8Q928.9 120.3 930.8 124.7L933.8 131.6Q935.6 136 936.9 136.3L938.8 136.7Q940 137 943.7 134L949.5 129.5Q953.2 126.5 952.7 123.9Z" fill="url(#cg1a)" stroke="url(#cg1a)" stroke-width="1.2"/>
<path d="M951.9 119.7Q951.4 117.1 948.2 115.5L943.2 113Q940 111.4 936.9 113.9L932 117.8Q928.9 120.3 930.8 124.7L933.8 131.6Q935.6 136 936.9 136.3L938.8 136.7Q940 137 943.7 134L949.5 129.5Q953.2 126.5 952.7 123.9Z" fill="none" stroke="#2a96d2" stroke-width="1.1" opacity="0.5"/>
<path d="M1048.1 99.4Q1045.2 102.4 1040.8 100.2L1033.8 96.7Q1029.4 94.5 1030.8 89.7L1033.1 82Q1034.5 77.1 1038.1 77L1043.8 76.9Q1047.5 76.8 1049.7 81L1053.1 87.4Q1055.3 91.5 1052.5 94.6Z" fill="url(#cg1c)" stroke="url(#cg1c)" stroke-width="1.2"/>
<path d="M1104.3 32.8Q1100.1 33.2 1097.7 36.4L1094 41.5Q1091.7 44.7 1098.3 48.8L1108.7 55.1Q1115.3 59.2 1115.3 51.5L1115.3 39.4Q1115.3 31.7 1111 32.1Z" fill="url(#cg1a)" stroke="url(#cg1a)" stroke-width="1.2"/>
<path d="M1091.5 224.5Q1091.3 224.2 1085.8 224.4L1077.3 224.6Q1071.9 224.7 1069.7 229.3L1066.4 236.5Q1064.3 241 1072.8 241L1086.3 241Q1094.8 241 1094.1 236.5L1092.9 229.5Q1092.2 225 1091.9 224.8Z" fill="url(#cg1b)" stroke="url(#cg1b)" stroke-width="1.2"/>
<path d="M885.7 86.7Q882.8 81.7 881.2 81.8L878.8 82Q877.2 82.1 877.2 89.6L877.2 101.3Q877.2 108.8 880.6 108.1L885.9 107.1Q889.3 106.4 890.4 104.5L892.2 101.5Q893.3 99.6 890.3 94.6Z" fill="url(#cg1b)" stroke="url(#cg1b)" stroke-width="1.2"/>
<path d="M881.4 45.4Q878 44.5 878 37.3L878 26.1Q878 19 883.1 19L891 19Q896 19 897.5 23.2L900 29.8Q901.5 34 898.3 37.9L893.4 44Q890.2 47.9 886.8 46.9Z" fill="url(#cg1b)" stroke="url(#cg1b)" stroke-width="1.2"/>
<path d="M881.4 45.4Q878 44.5 878 37.3L878 26.1Q878 19 883.1 19L891 19Q896 19 897.5 23.2L900 29.8Q901.5 34 898.3 37.9L893.4 44Q890.2 47.9 886.8 46.9Z" fill="none" stroke="#2a96d2" stroke-width="1.1" opacity="0.5"/>
<path d="M1021.1 30.6Q1017.8 31.2 1016.2 35.1L1013.6 41.3Q1011.9 45.2 1016.2 47.5L1022.9 51.2Q1027.1 53.5 1031.1 50.8L1037.4 46.5Q1041.4 43.8 1038.1 39.6L1032.7 33.1Q1029.3 28.9 1026.1 29.5Z" fill="url(#cg1c)" stroke="url(#cg1c)" stroke-width="1.2"/>
<path d="M1021.1 30.6Q1017.8 31.2 1016.2 35.1L1013.6 41.3Q1011.9 45.2 1016.2 47.5L1022.9 51.2Q1027.1 53.5 1031.1 50.8L1037.4 46.5Q1041.4 43.8 1038.1 39.6L1032.7 33.1Q1029.3 28.9 1026.1 29.5Z" fill="none" stroke="#2a96d2" stroke-width="1.1" opacity="0.4"/>
<path d="M1044.4 237.8Q1046.3 241.3 1039 241.3L1027.6 241.3Q1020.4 241.3 1021.3 237.8L1022.9 232.2Q1023.9 228.7 1028.3 228.8L1035.2 228.8Q1039.6 228.8 1041.5 232.3Z" fill="url(#cg1a)" stroke="url(#cg1a)" stroke-width="1.2"/>
<path d="M958.7 130.4Q954.7 128.3 951 131.2L945.2 135.8Q941.6 138.7 944.4 143.4L948.9 150.9Q951.8 155.7 956.2 154.7L963.2 153.3Q967.7 152.4 968.1 147.7L968.7 140.4Q969 135.7 965 133.6Z" fill="url(#cg1a)" stroke="url(#cg1a)" stroke-width="1.2"/>
<path d="M958.7 130.4Q954.7 128.3 951 131.2L945.2 135.8Q941.6 138.7 944.4 143.4L948.9 150.9Q951.8 155.7 956.2 154.7L963.2 153.3Q967.7 152.4 968.1 147.7L968.7 140.4Q969 135.7 965 133.6Z" fill="none" stroke="#2a96d2" stroke-width="1.1" opacity="0.7"/>
<path d="M981.5 114.8Q987.2 118.8 987.2 118.8L987.4 118.8Q987.4 118.8 988.6 116.7L990.4 113.4Q991.6 111.4 990.8 106.4L989.7 98.5Q989 93.5 983 91.4L973.5 88.1Q967.4 86 966.9 86.5L966 87.3Q965.4 87.8 965.8 92.5L966.5 99.8Q967 104.5 972.6 108.5Z" fill="url(#cg1b)" stroke="url(#cg1b)" stroke-width="1.2"/>
<path d="M1078.4 125.6Q1076.3 121.8 1071.9 122.8L1065 124.5Q1060.6 125.5 1058.2 131.4L1054.4 140.6Q1051.9 146.5 1052.9 148.4L1054.4 151.5Q1055.3 153.4 1058.4 154.6L1063.3 156.5Q1066.4 157.7 1067.1 157.6L1068.2 157.3Q1068.9 157.1 1073.1 151L1079.7 141.5Q1083.8 135.5 1081.7 131.7Z" fill="url(#cg1a)" stroke="url(#cg1a)" stroke-width="1.2"/>
<path d="M1078.4 125.6Q1076.3 121.8 1071.9 122.8L1065 124.5Q1060.6 125.5 1058.2 131.4L1054.4 140.6Q1051.9 146.5 1052.9 148.4L1054.4 151.5Q1055.3 153.4 1058.4 154.6L1063.3 156.5Q1066.4 157.7 1067.1 157.6L1068.2 157.3Q1068.9 157.1 1073.1 151L1079.7 141.5Q1083.8 135.5 1081.7 131.7Z" fill="none" stroke="#2a96d2" stroke-width="1.1" opacity="0.5"/>
<path d="M1012.9 240.7Q1017.8 240.7 1018.8 237.2L1020.4 231.6Q1021.4 228.1 1020.4 226.5L1018.9 224Q1017.9 222.5 1012 221.7L1002.8 220.6Q996.9 219.9 996.2 220.5L995.3 221.5Q994.6 222.1 996.2 227.3L998.7 235.5Q1000.2 240.7 1005.2 240.7Z" fill="url(#cg1a)" stroke="url(#cg1a)" stroke-width="1.2"/>
<path d="M970.4 240.6Q971 240.6 974.4 235.6L979.9 227.8Q983.3 222.8 978.3 219.4L970.5 214.1Q965.5 210.6 965.5 210.6L965.5 210.6Q965.5 210.6 963 215.6L959 223.3Q956.5 228.2 960 231.7L965.4 237.1Q968.9 240.6 969.5 240.6Z" fill="url(#cg1a)" stroke="url(#cg1a)" stroke-width="1.2"/>
<path d="M1006.3 130Q999 130.8 999.5 134.9L1000.4 141.4Q1000.9 145.6 1005.3 148L1012.2 151.7Q1016.6 154.1 1020 149.8L1025.4 143.1Q1028.8 138.8 1027.8 135.8L1026.2 131Q1025.2 128 1017.8 128.8Z" fill="url(#cg1b)" stroke="url(#cg1b)" stroke-width="1.2"/>
<path d="M1006.3 130Q999 130.8 999.5 134.9L1000.4 141.4Q1000.9 145.6 1005.3 148L1012.2 151.7Q1016.6 154.1 1020 149.8L1025.4 143.1Q1028.8 138.8 1027.8 135.8L1026.2 131Q1025.2 128 1017.8 128.8Z" fill="none" stroke="#2a96d2" stroke-width="1.1" opacity="0.6"/>
<path d="M1104.4 95.3Q1100 96.1 1098.4 91.9L1095.8 85.3Q1094.1 81.1 1100.1 77.1L1109.5 70.9Q1115.4 67 1115.4 74.4L1115.4 85.9Q1115.4 93.3 1111.1 94.1Z" fill="url(#cg1b)" stroke="url(#cg1b)" stroke-width="1.2"/>
<path d="M1104.4 95.3Q1100 96.1 1098.4 91.9L1095.8 85.3Q1094.1 81.1 1100.1 77.1L1109.5 70.9Q1115.4 67 1115.4 74.4L1115.4 85.9Q1115.4 93.3 1111.1 94.1Z" fill="none" stroke="#2a96d2" stroke-width="1.1" opacity="0.4"/>
<path d="M1110 17.6Q1115.6 17.6 1115.6 21.1L1115.6 26.4Q1115.6 29.9 1111.3 30.3L1104.4 30.9Q1100 31.3 1098.7 27.5L1096.8 21.5Q1095.5 17.6 1101.1 17.6Z" fill="url(#cg1a)" stroke="url(#cg1a)" stroke-width="1.2"/>
<path d="M1110 17.6Q1115.6 17.6 1115.6 21.1L1115.6 26.4Q1115.6 29.9 1111.3 30.3L1104.4 30.9Q1100 31.3 1098.7 27.5L1096.8 21.5Q1095.5 17.6 1101.1 17.6Z" fill="none" stroke="#2a96d2" stroke-width="1.1" opacity="0.5"/>
<path d="M1009.8 184.2Q1010.7 187.6 1017.7 185.6L1028.8 182.3Q1035.8 180.3 1035.9 177.9L1036.2 174.1Q1036.3 171.6 1031 168L1022.7 162.3Q1017.4 158.7 1014.6 163.4L1010.2 170.7Q1007.3 175.3 1008.3 178.8Z" fill="url(#cg1a)" stroke="url(#cg1a)" stroke-width="1.2"/>
<path d="M1009.8 184.2Q1010.7 187.6 1017.7 185.6L1028.8 182.3Q1035.8 180.3 1035.9 177.9L1036.2 174.1Q1036.3 171.6 1031 168L1022.7 162.3Q1017.4 158.7 1014.6 163.4L1010.2 170.7Q1007.3 175.3 1008.3 178.8Z" fill="none" stroke="#2a96d2" stroke-width="1.1" opacity="0.6"/>
<path d="M1110.8 117.6Q1115.9 122.8 1115.9 115L1115.9 102.8Q1115.9 95 1111.4 95.9L1104.4 97.2Q1099.9 98 1099.3 99.8L1098.5 102.5Q1097.9 104.2 1102.9 109.4Z" fill="url(#cg1a)" stroke="url(#cg1a)" stroke-width="1.2"/>
<path d="M1033.4 205.6Q1037 204.6 1039.9 207.7L1044.4 212.5Q1047.3 215.5 1045.3 218.9L1042.2 224.3Q1040.2 227.7 1035.4 227.7L1027.9 227.6Q1023.2 227.6 1022.2 225.9L1020.5 223.3Q1019.5 221.6 1020.8 217.8L1022.8 211.9Q1024 208.2 1027.7 207.2Z" fill="url(#cg1a)" stroke="url(#cg1a)" stroke-width="1.2"/>
<path d="M1033.4 205.6Q1037 204.6 1039.9 207.7L1044.4 212.5Q1047.3 215.5 1045.3 218.9L1042.2 224.3Q1040.2 227.7 1035.4 227.7L1027.9 227.6Q1023.2 227.6 1022.2 225.9L1020.5 223.3Q1019.5 221.6 1020.8 217.8L1022.8 211.9Q1024 208.2 1027.7 207.2Z" fill="none" stroke="#2a96d2" stroke-width="1.1" opacity="0.4"/>
<path d="M1109.7 178.4Q1115.3 181.3 1115.3 184.6L1115.3 189.8Q1115.3 193.1 1108.9 194.8L1098.9 197.5Q1092.5 199.2 1090.6 197.1L1087.7 193.9Q1085.8 191.9 1088.4 186L1092.5 176.8Q1095.1 171 1100.8 173.9Z" fill="url(#cg1c)" stroke="url(#cg1c)" stroke-width="1.2"/>
<path d="M1109.7 178.4Q1115.3 181.3 1115.3 184.6L1115.3 189.8Q1115.3 193.1 1108.9 194.8L1098.9 197.5Q1092.5 199.2 1090.6 197.1L1087.7 193.9Q1085.8 191.9 1088.4 186L1092.5 176.8Q1095.1 171 1100.8 173.9Z" fill="none" stroke="#2a96d2" stroke-width="1.1" opacity="0.5"/>
<path d="M1000.3 108.5Q994.3 110.7 993.5 105.7L992.4 97.9Q991.7 93 995 89.8L1000 84.9Q1003.3 81.8 1007.2 86.6L1013.4 94.2Q1017.3 99 1016.9 100.1L1016.1 101.7Q1015.7 102.7 1009.7 105Z" fill="url(#cg1b)" stroke="url(#cg1b)" stroke-width="1.2"/>
<path d="M1111.9 152.8Q1115.5 152.5 1115.5 145.5L1115.5 134.6Q1115.5 127.7 1110 130.6L1101.4 135.3Q1095.9 138.3 1097.8 142.6L1100.7 149.3Q1102.6 153.6 1106.2 153.3Z" fill="url(#cg1c)" stroke="url(#cg1c)" stroke-width="1.2"/>
<path d="M1111.9 152.8Q1115.5 152.5 1115.5 145.5L1115.5 134.6Q1115.5 127.7 1110 130.6L1101.4 135.3Q1095.9 138.3 1097.8 142.6L1100.7 149.3Q1102.6 153.6 1106.2 153.3Z" fill="none" stroke="#2a96d2" stroke-width="1.1" opacity="0.6"/>
<path d="M953.8 21.9Q950.2 17.6 959.7 17.6L974.6 17.6Q984.1 17.6 983.8 18.4L983.4 19.8Q983.1 20.6 977.5 24.1L968.7 29.6Q963.1 33.2 959.5 28.8Z" fill="url(#cg1b)" stroke="url(#cg1b)" stroke-width="1.2"/>
<path d="M880.4 185.8Q877.1 185.8 877.1 191.9L877.1 201.6Q877.1 207.7 879.4 207.4L883.1 206.8Q885.4 206.5 886.4 200.7L888 191.7Q889 185.9 885.6 185.9Z" fill="url(#cg1b)" stroke="url(#cg1b)" stroke-width="1.2"/>
<path d="M1020 109.8Q1017.6 103.5 1018.1 102.4L1018.9 100.6Q1019.4 99.5 1021.8 98.4L1025.5 96.7Q1028 95.7 1032.7 98L1040.2 101.8Q1045 104.1 1045.2 106.7L1045.5 110.7Q1045.7 113.3 1040.3 116.8L1031.8 122.4Q1026.4 125.9 1023.9 119.6Z" fill="url(#cg1a)" stroke="url(#cg1a)" stroke-width="1.2"/>
<path d="M1020 109.8Q1017.6 103.5 1018.1 102.4L1018.9 100.6Q1019.4 99.5 1021.8 98.4L1025.5 96.7Q1028 95.7 1032.7 98L1040.2 101.8Q1045 104.1 1045.2 106.7L1045.5 110.7Q1045.7 113.3 1040.3 116.8L1031.8 122.4Q1026.4 125.9 1023.9 119.6Z" fill="none" stroke="#2a96d2" stroke-width="1.1" opacity="0.6"/>
<path d="M899.2 137.5Q899.3 137.8 893.5 143.4L884.5 152.2Q878.7 157.9 878.2 157.8L877.4 157.8Q876.8 157.8 876.8 150.4L876.8 138.8Q876.8 131.4 883 132.9L892.8 135.3Q899 136.8 899.1 137.1Z" fill="url(#cg1b)" stroke="url(#cg1b)" stroke-width="1.2"/>
<path d="M1061.6 38.5Q1057.6 39 1056.4 33.1L1054.5 23.9Q1053.3 18 1059.5 18L1069.3 18Q1075.5 18 1074.4 23.4L1072.7 31.9Q1071.6 37.3 1067.7 37.7Z" fill="url(#cg1c)" stroke="url(#cg1c)" stroke-width="1.2"/>
<path d="M994.1 227.6Q992.5 222.4 990.4 222.7L987 223.2Q984.9 223.5 981.5 228.4L976.2 236.1Q972.8 241 979.9 241L991 241Q998.1 241 996.6 235.8Z" fill="url(#cg1b)" stroke="url(#cg1b)" stroke-width="1.2"/>
<path d="M994.1 227.6Q992.5 222.4 990.4 222.7L987 223.2Q984.9 223.5 981.5 228.4L976.2 236.1Q972.8 241 979.9 241L991 241Q998.1 241 996.6 235.8Z" fill="none" stroke="#2a96d2" stroke-width="1.1" opacity="0.4"/>
<path d="M985.3 65.3Q992.1 60 992.1 58.8L992.1 56.8Q992.2 55.5 983.2 53.5L969.1 50.3Q960.1 48.3 959.6 48.7L958.8 49.4Q958.4 49.9 961 58L965.1 70.7Q967.7 78.9 974.5 73.6Z" fill="url(#cg1c)" stroke="url(#cg1c)" stroke-width="1.2"/>
<path d="M883.6 164.6Q878.8 159.2 878.2 159.1L877.4 159.1Q876.9 159.1 876.9 166L876.9 177Q876.9 184 880.4 184L885.9 184Q889.4 184.1 891.2 182.5L894.1 180.1Q896 178.5 891.2 173.1Z" fill="url(#cg1a)" stroke="url(#cg1a)" stroke-width="1.2"/>
<path d="M925.6 37.8Q925 38.2 924.5 43.4L923.7 51.6Q923.2 56.8 926.9 59.5L932.8 63.7Q936.6 66.4 940.9 61.7L947.7 54.5Q952 49.9 945 46.2L934.1 40.5Q927.1 36.8 926.5 37.2Z" fill="url(#cg1c)" stroke="url(#cg1c)" stroke-width="1.2"/>
<path d="M925.6 37.8Q925 38.2 924.5 43.4L923.7 51.6Q923.2 56.8 926.9 59.5L932.8 63.7Q936.6 66.4 940.9 61.7L947.7 54.5Q952 49.9 945 46.2L934.1 40.5Q927.1 36.8 926.5 37.2Z" fill="none" stroke="#2a96d2" stroke-width="1.1" opacity="0.7"/>
<path d="M1010.8 20.8Q1008.3 17.3 1015.3 17.3L1026.5 17.3Q1033.6 17.3 1032.4 20.1L1030.5 24.4Q1029.4 27.2 1026 27.9L1020.6 29Q1017.2 29.7 1014.7 26.2Z" fill="url(#cg1c)" stroke="url(#cg1c)" stroke-width="1.2"/>
<circle cx="943.7" cy="197" r="13" fill="url(#sg)" opacity="1"/>
<circle cx="948.5" cy="192.5" r="8" fill="url(#sg)" opacity="1"/>
<circle cx="1008.5" cy="147.5" r="10" fill="url(#sg)" opacity="0.8"/>
<circle cx="1027.7" cy="170" r="9" fill="url(#sg)" opacity="0.8"/>
<circle cx="977.3" cy="86.8" r="7" fill="url(#sg)" opacity="0.7"/>
<circle cx="1001.3" cy="219.5" r="9" fill="url(#sg)" opacity="0.8"/>
<circle cx="941.3" cy="230.8" r="8" fill="url(#sg)" opacity="0.8"/>
<circle cx="900.5" cy="32.8" r="12" fill="url(#sg)" opacity="0.6"/>
<circle cx="948.5" cy="48.5" r="14" fill="url(#sg)" opacity="0.5"/>
<circle cx="989.3" cy="46.2" r="7" fill="url(#sg)" opacity="0.7"/>
<circle cx="898.1" cy="111.5" r="7" fill="url(#sg)" opacity="0.6"/>
<circle cx="1044.5" cy="84.5" r="7" fill="url(#sg)" opacity="0.6"/>
<circle cx="1106.9" cy="91.2" r="10" fill="url(#sg)" opacity="0.6"/>
<circle cx="1027.7" cy="113.8" r="6" fill="url(#sg)" opacity="0.6"/>
<circle cx="895.7" cy="129.5" r="5" fill="url(#sg)" opacity="0.8"/>
<circle cx="1068.5" cy="224" r="6" fill="url(#sg)" opacity="0.6"/>
</g>
<rect x="876.5" y="17" width="240" height="225" filter="url(#grain)" opacity="0.16"/>
</g>
<clipPath id="cp2"><rect x="1202.5" y="17.7" width="240.2" height="224.3"/></clipPath>
<g clip-path="url(#cp2)">
<rect x="1200.5" y="15.7" width="244.2" height="228.3" fill="#105a8b"/>
<g filter="url(#bl2)" stroke-linejoin="round">
<path d="M1433.5 241.8Q1442.4 241.8 1442.4 233.4L1442.4 220.3Q1442.4 212 1433.5 211.9L1419.4 211.8Q1410.5 211.8 1410.5 220.2L1410.5 233.4Q1410.5 241.8 1419.5 241.8Z" fill="url(#cg2a)" stroke="url(#cg2a)" stroke-width="1.0"/>
<path d="M1433.5 241.8Q1442.4 241.8 1442.4 233.4L1442.4 220.3Q1442.4 212 1433.5 211.9L1419.4 211.8Q1410.5 211.8 1410.5 220.2L1410.5 233.4Q1410.5 241.8 1419.5 241.8Z" fill="none" stroke="#2a96d2" stroke-width="1.1" opacity="0.4"/>
<path d="M1441.4 44Q1441.4 44.1 1435.2 47.6L1425.5 52.9Q1419.3 56.4 1412 51L1400.6 42.6Q1393.3 37.3 1395.5 32.1L1399 24Q1401.2 18.8 1406 18.8L1413.4 18.8Q1418.1 18.8 1424.6 25.7L1434.9 36.6Q1441.4 43.6 1441.4 43.7Z" fill="url(#cg2c)" stroke="url(#cg2c)" stroke-width="1.0"/>
<path d="M1441.4 44Q1441.4 44.1 1435.2 47.6L1425.5 52.9Q1419.3 56.4 1412 51L1400.6 42.6Q1393.3 37.3 1395.5 32.1L1399 24Q1401.2 18.8 1406 18.8L1413.4 18.8Q1418.1 18.8 1424.6 25.7L1434.9 36.6Q1441.4 43.6 1441.4 43.7Z" fill="none" stroke="#2a96d2" stroke-width="1.1" opacity="0.7"/>
<path d="M1357 98.4Q1358 99.3 1358.2 107.9L1358.4 121.3Q1358.6 129.9 1351.3 127.9L1339.7 124.7Q1332.4 122.7 1331.1 116.4L1329.2 106.4Q1327.9 100 1335.3 98.9L1347 97.2Q1354.4 96.1 1355.4 97Z" fill="url(#cg2c)" stroke="url(#cg2c)" stroke-width="1.0"/>
<path d="M1341.4 56.1Q1338.5 62.8 1334.3 64.1L1327.6 66.1Q1323.3 67.3 1318.5 62.1L1310.8 53.8Q1305.9 48.6 1306.3 47.4L1307.1 45.6Q1307.5 44.5 1314.4 40.5L1325.3 34.2Q1332.2 30.2 1336.8 32.6L1344.2 36.4Q1348.8 38.9 1345.9 45.6Z" fill="url(#cg2c)" stroke="url(#cg2c)" stroke-width="1.0"/>
<path d="M1231.4 125.3Q1229.9 132.7 1230.7 133L1231.9 133.6Q1232.6 134 1241.6 132.6L1255.8 130.4Q1264.9 129 1266.4 127L1268.7 123.9Q1270.3 121.9 1267.6 116.7L1263.5 108.6Q1260.9 103.4 1253.7 104.2L1242.3 105.6Q1235 106.5 1233.6 113.8Z" fill="url(#cg2c)" stroke="url(#cg2c)" stroke-width="1.0"/>
<path d="M1231.4 125.3Q1229.9 132.7 1230.7 133L1231.9 133.6Q1232.6 134 1241.6 132.6L1255.8 130.4Q1264.9 129 1266.4 127L1268.7 123.9Q1270.3 121.9 1267.6 116.7L1263.5 108.6Q1260.9 103.4 1253.7 104.2L1242.3 105.6Q1235 106.5 1233.6 113.8Z" fill="none" stroke="#2a96d2" stroke-width="1.1" opacity="0.7"/>
<path d="M1203.8 30.1Q1203.8 19.8 1210.1 19.8L1220.1 19.8Q1226.4 19.8 1226.7 25.3L1227.2 34Q1227.5 39.5 1223.8 44.1L1217.9 51.3Q1214.2 55.9 1211.2 56.2L1206.7 56.5Q1203.8 56.8 1203.8 46.4Z" fill="url(#cg2c)" stroke="url(#cg2c)" stroke-width="1.0"/>
<path d="M1203.8 30.1Q1203.8 19.8 1210.1 19.8L1220.1 19.8Q1226.4 19.8 1226.7 25.3L1227.2 34Q1227.5 39.5 1223.8 44.1L1217.9 51.3Q1214.2 55.9 1211.2 56.2L1206.7 56.5Q1203.8 56.8 1203.8 46.4Z" fill="none" stroke="#2a96d2" stroke-width="1.1" opacity="0.6"/>
<path d="M1365.2 99.3Q1359.2 99.7 1359.4 108.3L1359.7 121.8Q1359.8 130.5 1360.2 131L1360.9 131.8Q1361.3 132.3 1364.1 133.1L1368.6 134.4Q1371.5 135.2 1375.9 133.1L1383 129.8Q1387.4 127.8 1389 124.4L1391.4 119.2Q1393 115.8 1389.5 110.9L1383.9 103.2Q1380.4 98.3 1374.5 98.7Z" fill="url(#cg2c)" stroke="url(#cg2c)" stroke-width="1.0"/>
<path d="M1365.2 99.3Q1359.2 99.7 1359.4 108.3L1359.7 121.8Q1359.8 130.5 1360.2 131L1360.9 131.8Q1361.3 132.3 1364.1 133.1L1368.6 134.4Q1371.5 135.2 1375.9 133.1L1383 129.8Q1387.4 127.8 1389 124.4L1391.4 119.2Q1393 115.8 1389.5 110.9L1383.9 103.2Q1380.4 98.3 1374.5 98.7Z" fill="none" stroke="#2a96d2" stroke-width="1.1" opacity="0.4"/>
<path d="M1310.4 181.2Q1307.8 187.2 1314.5 191.2L1325.1 197.6Q1331.8 201.6 1335 201L1340 200.1Q1343.1 199.5 1345.5 194.7L1349.2 187.3Q1351.5 182.5 1347.6 177.1L1341.5 168.7Q1337.6 163.3 1335.2 162.7L1331.6 161.7Q1329.2 161.1 1325.8 162.4L1320.5 164.5Q1317.1 165.8 1314.5 171.8Z" fill="url(#cg2b)" stroke="url(#cg2b)" stroke-width="1.0"/>
<path d="M1304.3 36.9Q1306.2 44 1305.8 45.1L1305.1 46.9Q1304.6 48 1300.7 49.2L1294.5 51.2Q1290.6 52.4 1284.9 47.6L1275.9 40.2Q1270.1 35.4 1269.6 30.7L1268.9 23.3Q1268.4 18.6 1277.1 18.6L1290.8 18.6Q1299.5 18.6 1301.4 25.7Z" fill="url(#cg2c)" stroke="url(#cg2c)" stroke-width="1.0"/>
<path d="M1384.3 132Q1388.5 130.1 1395.3 136.5L1406 146.6Q1412.8 153 1412.4 155.3L1411.6 158.9Q1411.1 161.2 1402.4 162L1388.6 163.4Q1379.9 164.3 1378.1 156.7L1375.2 144.7Q1373.4 137.1 1377.7 135.1Z" fill="url(#cg2c)" stroke="url(#cg2c)" stroke-width="1.0"/>
<path d="M1363.6 134.9Q1360.8 134.1 1354.7 142L1345.1 154.5Q1338.9 162.4 1342.9 167.8L1349 176.2Q1352.9 181.6 1357.4 180.8L1364.5 179.5Q1369 178.7 1371.4 175L1375.3 169.3Q1377.8 165.6 1375.9 157.6L1372.9 145Q1371 136.9 1368.1 136.1Z" fill="url(#cg2a)" stroke="url(#cg2a)" stroke-width="1.0"/>
<path d="M1436.5 112.7Q1441.4 112.4 1441.4 105.1L1441.4 93.7Q1441.4 86.4 1435.1 86.4L1425.1 86.3Q1418.8 86.3 1418.1 92.1L1417.1 101.4Q1416.4 107.2 1418.5 109L1421.7 111.7Q1423.8 113.5 1428.7 113.2Z" fill="url(#cg2a)" stroke="url(#cg2a)" stroke-width="1.0"/>
<path d="M1376.5 57.8Q1376.1 62.7 1370.6 65.9L1361.9 70.8Q1356.4 74 1351.9 70.8L1344.8 65.7Q1340.4 62.5 1343.1 56.1L1347.4 46.1Q1350.2 39.7 1352.8 38.9L1357 37.7Q1359.6 37 1364.6 39.2L1372.4 42.8Q1377.4 45.1 1377 50Z" fill="url(#cg2a)" stroke="url(#cg2a)" stroke-width="1.0"/>
<path d="M1228.8 96.7Q1226.6 93.5 1228 89.2L1230.1 82.4Q1231.5 78 1237.5 76.2L1247 73.2Q1253 71.4 1257 73.9L1263.2 78Q1267.1 80.6 1265.4 86.4L1262.8 95.7Q1261.2 101.5 1253.7 102.4L1241.9 103.8Q1234.5 104.7 1232.2 101.6Z" fill="url(#cg2a)" stroke="url(#cg2a)" stroke-width="1.0"/>
<path d="M1378.6 58.2Q1378.2 63.3 1381.3 67.1L1386.2 73.2Q1389.3 77.1 1396 77.3L1406.5 77.7Q1413.2 77.9 1414.6 72.2L1416.8 63.3Q1418.2 57.6 1410.9 52.3L1399.3 43.8Q1391.9 38.4 1388.4 40.3L1383 43.2Q1379.5 45.1 1379.1 50.2Z" fill="url(#cg2a)" stroke="url(#cg2a)" stroke-width="1.0"/>
<path d="M1206.3 59.8Q1203.3 60 1203.3 69.9L1203.3 85.5Q1203.3 95.5 1209.4 94.7L1219 93.5Q1225.1 92.7 1226.4 88.4L1228.6 81.8Q1229.9 77.6 1225.5 72.4L1218.5 64.3Q1214.1 59.1 1211.1 59.4Z" fill="url(#cg2a)" stroke="url(#cg2a)" stroke-width="1.0"/>
<path d="M1297.1 91.6Q1304.3 96.8 1300.7 103.5L1295.1 113.9Q1291.6 120.6 1286.2 120.7L1277.7 120.7Q1272.3 120.8 1269.6 115.5L1265.4 107.2Q1262.8 102 1264.4 96.2L1267 87.1Q1268.6 81.3 1271.4 80.4L1275.8 79.1Q1278.6 78.2 1285.8 83.4Z" fill="url(#cg2c)" stroke="url(#cg2c)" stroke-width="1.0"/>
<path d="M1297.1 91.6Q1304.3 96.8 1300.7 103.5L1295.1 113.9Q1291.6 120.6 1286.2 120.7L1277.7 120.7Q1272.3 120.8 1269.6 115.5L1265.4 107.2Q1262.8 102 1264.4 96.2L1267 87.1Q1268.6 81.3 1271.4 80.4L1275.8 79.1Q1278.6 78.2 1285.8 83.4Z" fill="none" stroke="#2a96d2" stroke-width="1.1" opacity="0.6"/>
<path d="M1318.9 229.4Q1315.9 224.9 1320.4 218.9L1327.5 209.6Q1332.1 203.6 1335.2 203L1340.2 202.1Q1343.3 201.5 1346.2 206.5L1350.6 214.4Q1353.5 219.5 1351.3 225.5L1347.9 235Q1345.7 241 1340.3 241L1332 241Q1326.6 241 1323.6 236.5Z" fill="url(#cg2a)" stroke="url(#cg2a)" stroke-width="1.0"/>
<path d="M1318.9 229.4Q1315.9 224.9 1320.4 218.9L1327.5 209.6Q1332.1 203.6 1335.2 203L1340.2 202.1Q1343.3 201.5 1346.2 206.5L1350.6 214.4Q1353.5 219.5 1351.3 225.5L1347.9 235Q1345.7 241 1340.3 241L1332 241Q1326.6 241 1323.6 236.5Z" fill="none" stroke="#2a96d2" stroke-width="1.1" opacity="0.4"/>
<path d="M1238.9 221.4Q1232.9 222.4 1230.9 227.8L1227.8 236.3Q1225.8 241.7 1234.1 241.7L1247.1 241.7Q1255.4 241.7 1256.4 236.1L1257.9 227.3Q1258.9 221.6 1257.7 220.9L1255.7 219.7Q1254.4 218.9 1248.4 219.9Z" fill="url(#cg2a)" stroke="url(#cg2a)" stroke-width="1.0"/>
<path d="M1228.1 132.6Q1228.1 132.6 1221.2 128.8L1210.3 122.8Q1203.3 119 1203.3 113L1203.3 103.6Q1203.3 97.5 1209.5 96.7L1219.3 95.5Q1225.5 94.7 1227.7 97.8L1231.2 102.7Q1233.4 105.8 1231.9 113.3L1229.6 125.1Q1228.1 132.6 1228.1 132.6Z" fill="url(#cg2a)" stroke="url(#cg2a)" stroke-width="1.0"/>
<path d="M1208.6 184.5Q1203.2 185.4 1203.2 193.5L1203.2 206.3Q1203.2 214.4 1208.1 213.1L1216 210.9Q1220.9 209.5 1222.4 202.5L1224.8 191.3Q1226.3 184.2 1225.2 183.7L1223.5 182.8Q1222.5 182.3 1217.1 183.2Z" fill="url(#cg2a)" stroke="url(#cg2a)" stroke-width="1.0"/>
<path d="M1361.6 220.4Q1355.1 220.1 1353 226.1L1349.6 235.4Q1347.5 241.3 1357.2 241.3L1372.5 241.3Q1382.3 241.3 1381.1 235.6L1379.4 226.8Q1378.3 221.1 1371.8 220.9Z" fill="url(#cg2b)" stroke="url(#cg2b)" stroke-width="1.0"/>
<path d="M1396.5 205.5Q1394.7 205.5 1390.6 209.7L1384.1 216.3Q1379.9 220.5 1381 226.2L1382.8 235.3Q1384 241.1 1391.2 241.1L1402.5 241.1Q1409.7 241.1 1409.7 232.9L1409.7 220.1Q1409.6 211.9 1407.2 210L1403.4 207.1Q1401 205.3 1399.2 205.3Z" fill="url(#cg2a)" stroke="url(#cg2a)" stroke-width="1.0"/>
<path d="M1236.2 42.2Q1230.5 39 1230.1 33.4L1229.7 24.5Q1229.3 18.8 1239.6 18.8L1255.6 18.8Q1265.9 18.8 1266.3 23.4L1267.1 30.6Q1267.5 35.1 1262.9 39.4L1255.7 46Q1251.1 50.2 1245.3 47.1Z" fill="url(#cg2a)" stroke="url(#cg2a)" stroke-width="1.0"/>
<path d="M1236.2 42.2Q1230.5 39 1230.1 33.4L1229.7 24.5Q1229.3 18.8 1239.6 18.8L1255.6 18.8Q1265.9 18.8 1266.3 23.4L1267.1 30.6Q1267.5 35.1 1262.9 39.4L1255.7 46Q1251.1 50.2 1245.3 47.1Z" fill="none" stroke="#2a96d2" stroke-width="1.1" opacity="0.7"/>
<path d="M1292 231.9Q1288.1 235.4 1281.7 231.2L1271.5 224.7Q1265.1 220.5 1271.7 213.2L1282.1 201.7Q1288.6 194.4 1289 194.5L1289.5 194.6Q1289.8 194.7 1293.2 202.6L1298.5 215Q1301.9 222.9 1298 226.4Z" fill="url(#cg2c)" stroke="url(#cg2c)" stroke-width="1.0"/>
<path d="M1292 231.9Q1288.1 235.4 1281.7 231.2L1271.5 224.7Q1265.1 220.5 1271.7 213.2L1282.1 201.7Q1288.6 194.4 1289 194.5L1289.5 194.6Q1289.8 194.7 1293.2 202.6L1298.5 215Q1301.9 222.9 1298 226.4Z" fill="none" stroke="#2a96d2" stroke-width="1.1" opacity="0.5"/>
<path d="M1387.3 197.8Q1394.2 204.8 1390 209.1L1383.3 215.9Q1379 220.2 1372.1 219.9L1361.4 219.4Q1354.5 219.1 1351.6 213.9L1346.9 205.6Q1344 200.4 1346.4 195.5L1350.2 187.8Q1352.7 182.9 1357.3 182L1364.6 180.7Q1369.3 179.9 1376.3 186.9Z" fill="url(#cg2a)" stroke="url(#cg2a)" stroke-width="1.0"/>
<path d="M1214.9 160.3Q1211.8 152.3 1216.5 147.3L1223.8 139.5Q1228.5 134.5 1228.5 134.5L1228.6 134.5Q1228.6 134.5 1229.4 134.9L1230.6 135.4Q1231.3 135.8 1235.6 144L1242.4 156.8Q1246.7 165 1245.5 169.1L1243.7 175.5Q1242.5 179.6 1238.2 180.5L1231.3 181.8Q1227 182.7 1225.9 182.1L1224.2 181.2Q1223.1 180.7 1219.9 172.8Z" fill="url(#cg2a)" stroke="url(#cg2a)" stroke-width="1.0"/>
<path d="M1268.1 146.6Q1268.8 153.2 1272.5 155.3L1278.3 158.8Q1282 160.9 1285.9 158.7L1292 155.3Q1295.8 153.1 1296.5 146.7L1297.6 136.6Q1298.3 130.2 1296.6 127.9L1293.9 124.3Q1292.2 121.9 1286.5 122L1277.6 122.1Q1271.9 122.1 1270.3 124.2L1267.8 127.5Q1266.2 129.6 1266.9 136.2Z" fill="url(#cg2b)" stroke="url(#cg2b)" stroke-width="1.0"/>
<path d="M1358.4 133.1Q1358.8 133.6 1353 141.1L1343.9 153Q1338.1 160.5 1335.9 159.9L1332.4 158.9Q1330.2 158.3 1328.4 151.6L1325.5 141.1Q1323.7 134.3 1326.2 131.7L1330 127.6Q1332.5 125 1339.5 126.9L1350.5 129.9Q1357.4 131.8 1357.8 132.3Z" fill="url(#cg2a)" stroke="url(#cg2a)" stroke-width="1.0"/>
<path d="M1314.1 95.8Q1317.1 94.9 1319.5 96.5L1323.4 99.1Q1325.8 100.7 1327.1 106.9L1329 116.5Q1330.2 122.7 1327.7 125.3L1323.8 129.5Q1321.3 132.1 1315.2 131.2L1305.7 129.8Q1299.7 128.9 1298.1 126.7L1295.6 123.3Q1294 121.2 1297.4 114.7L1302.9 104.5Q1306.3 98 1309.3 97.2Z" fill="url(#cg2b)" stroke="url(#cg2b)" stroke-width="1.0"/>
<path d="M1373.8 41.1Q1378.7 43.4 1382.1 41.6L1387.4 38.7Q1390.7 36.8 1392.9 31.8L1396.3 23.8Q1398.5 18.7 1388.1 18.7L1371.8 18.7Q1361.4 18.7 1361.3 23.3L1361.1 30.6Q1361 35.3 1365.9 37.5Z" fill="url(#cg2c)" stroke="url(#cg2c)" stroke-width="1.0"/>
<path d="M1373.8 41.1Q1378.7 43.4 1382.1 41.6L1387.4 38.7Q1390.7 36.8 1392.9 31.8L1396.3 23.8Q1398.5 18.7 1388.1 18.7L1371.8 18.7Q1361.4 18.7 1361.3 23.3L1361.1 30.6Q1361 35.3 1365.9 37.5Z" fill="none" stroke="#2a96d2" stroke-width="1.1" opacity="0.5"/>
<path d="M1420.3 113.8Q1422.4 115.6 1422.6 123.4L1422.9 135.7Q1423.1 143.5 1420.7 145.7L1416.9 149.3Q1414.5 151.5 1407.6 144.9L1396.6 134.6Q1389.6 128.1 1391.1 124.8L1393.5 119.7Q1395 116.5 1400.6 114.5L1409.3 111.3Q1414.9 109.2 1417 111Z" fill="url(#cg2c)" stroke="url(#cg2c)" stroke-width="1.0"/>
<path d="M1417.7 151.1Q1415.1 153.5 1414.6 156L1413.8 159.9Q1413.3 162.3 1414.2 164.4L1415.5 167.6Q1416.4 169.7 1423.7 172.7L1435.1 177.4Q1442.3 180.4 1442.3 170.3L1442.3 154.5Q1442.3 144.5 1437.2 144.6L1429.3 144.9Q1424.2 145 1421.7 147.4Z" fill="url(#cg2b)" stroke="url(#cg2b)" stroke-width="1.0"/>
<path d="M1417.7 151.1Q1415.1 153.5 1414.6 156L1413.8 159.9Q1413.3 162.3 1414.2 164.4L1415.5 167.6Q1416.4 169.7 1423.7 172.7L1435.1 177.4Q1442.3 180.4 1442.3 170.3L1442.3 154.5Q1442.3 144.5 1437.2 144.6L1429.3 144.9Q1424.2 145 1421.7 147.4Z" fill="none" stroke="#2a96d2" stroke-width="1.1" opacity="0.4"/>
<path d="M1229.6 218.4Q1232.6 221.6 1238.7 220.7L1248.2 219.1Q1254.2 218.2 1252.2 208.7L1249 193.8Q1247 184.3 1245.8 183.4L1244 181.9Q1242.9 180.9 1238.5 181.8L1231.5 183.2Q1227.1 184.1 1225.6 191.3L1223.2 202.8Q1221.7 210.1 1224.7 213.3Z" fill="url(#cg2a)" stroke="url(#cg2a)" stroke-width="1.0"/>
<path d="M1290 192.5Q1290.3 192.6 1294.7 191L1301.5 188.5Q1305.9 186.9 1308.5 181L1312.5 171.8Q1315.1 165.9 1309.7 162.8L1301.2 157.9Q1295.9 154.7 1292.2 156.8L1286.4 160.1Q1282.8 162.1 1282.8 168.6L1282.8 178.9Q1282.9 185.4 1284.6 187.3L1287.4 190.4Q1289.1 192.3 1289.4 192.4Z" fill="url(#cg2a)" stroke="url(#cg2a)" stroke-width="1.0"/>
<path d="M1314 93.9Q1317.2 93 1318.9 85.9L1321.5 74.9Q1323.1 67.8 1318.1 62.5L1310.3 54.1Q1305.4 48.8 1301.3 50.1L1294.8 52.1Q1290.8 53.4 1287.4 60L1282.1 70.4Q1278.8 76.9 1286.3 82.4L1298.1 91Q1305.7 96.4 1308.9 95.4Z" fill="url(#cg2b)" stroke="url(#cg2b)" stroke-width="1.0"/>
<path d="M1280.9 69.6Q1277.7 75.8 1275 76.6L1270.7 77.9Q1268 78.8 1264.2 76.3L1258.3 72.4Q1254.5 70 1254 65.1L1253.1 57.4Q1252.6 52.5 1257.2 48.3L1264.5 41.6Q1269.1 37.4 1274.6 42L1283.4 49.2Q1288.9 53.9 1285.8 60Z" fill="url(#cg2a)" stroke="url(#cg2a)" stroke-width="1.0"/>
<path d="M1412.6 165.7Q1411.8 163.7 1402.8 164.6L1388.7 166Q1379.7 166.9 1377.3 170.5L1373.5 176.1Q1371.1 179.7 1377.7 186.3L1388.1 196.6Q1394.7 203.2 1396.4 203.1L1399.1 203Q1400.8 202.9 1404.7 193.9L1410.8 179.7Q1414.8 170.7 1413.9 168.7Z" fill="url(#cg2a)" stroke="url(#cg2a)" stroke-width="1.0"/>
<path d="M1442.4 36.3Q1442.4 43.4 1435.8 36.3L1425.3 25.1Q1418.6 18 1425.3 18L1435.8 18Q1442.4 18 1442.4 25.1Z" fill="url(#cg2a)" stroke="url(#cg2a)" stroke-width="1.0"/>
<path d="M1412.2 180Q1416.3 170.5 1423.6 173.5L1435 178.2Q1442.3 181.2 1442.3 189.7L1442.3 203Q1442.3 211.4 1433.4 211.4L1419.4 211.3Q1410.5 211.2 1408 209.3L1404.1 206.3Q1401.6 204.4 1405.7 194.9Z" fill="url(#cg2c)" stroke="url(#cg2c)" stroke-width="1.0"/>
<path d="M1412.2 180Q1416.3 170.5 1423.6 173.5L1435 178.2Q1442.3 181.2 1442.3 189.7L1442.3 203Q1442.3 211.4 1433.4 211.4L1419.4 211.3Q1410.5 211.2 1408 209.3L1404.1 206.3Q1401.6 204.4 1405.7 194.9Z" fill="none" stroke="#2a96d2" stroke-width="1.1" opacity="0.7"/>
<path d="M1288.6 240.3Q1288.5 241.8 1298.9 241.8L1315.2 241.8Q1325.5 241.8 1322.4 237.2L1317.6 229.9Q1314.5 225.3 1311.2 224.9L1306.1 224.2Q1302.8 223.8 1298.8 227.3L1292.6 232.9Q1288.6 236.5 1288.6 238Z" fill="url(#cg2b)" stroke="url(#cg2b)" stroke-width="1.0"/>
<path d="M1414.9 100.8Q1414.3 106.8 1408.7 108.8L1400 112Q1394.5 114 1391.1 109.3L1385.7 101.8Q1382.3 97.1 1384.5 92L1387.9 84.1Q1390 79.1 1396.5 79.3L1406.7 79.7Q1413.2 79.9 1414.1 81.5L1415.6 83.9Q1416.6 85.5 1416 91.4Z" fill="url(#cg2a)" stroke="url(#cg2a)" stroke-width="1.0"/>
<path d="M1244.7 181.1Q1243.5 180.2 1244.7 176.1L1246.6 169.6Q1247.8 165.5 1253.6 162.2L1262.7 157.1Q1268.5 153.8 1272.1 155.9L1277.8 159.3Q1281.4 161.4 1281.5 168.2L1281.5 178.8Q1281.5 185.6 1272 185L1257.1 184.1Q1247.6 183.5 1246.5 182.6Z" fill="url(#cg2a)" stroke="url(#cg2a)" stroke-width="1.0"/>
<path d="M1244.7 181.1Q1243.5 180.2 1244.7 176.1L1246.6 169.6Q1247.8 165.5 1253.6 162.2L1262.7 157.1Q1268.5 153.8 1272.1 155.9L1277.8 159.3Q1281.4 161.4 1281.5 168.2L1281.5 178.8Q1281.5 185.6 1272 185L1257.1 184.1Q1247.6 183.5 1246.5 182.6Z" fill="none" stroke="#2a96d2" stroke-width="1.1" opacity="0.7"/>
<path d="M1203.5 234Q1203.5 240.9 1209.4 240.9L1218.8 240.9Q1224.7 240.9 1226.6 235.8L1229.5 227.7Q1231.4 222.5 1228.5 219.4L1223.9 214.5Q1220.9 211.5 1216 212.8L1208.4 214.9Q1203.5 216.2 1203.5 223.1Z" fill="url(#cg2c)" stroke="url(#cg2c)" stroke-width="1.0"/>
<path d="M1203.5 234Q1203.5 240.9 1209.4 240.9L1218.8 240.9Q1224.7 240.9 1226.6 235.8L1229.5 227.7Q1231.4 222.5 1228.5 219.4L1223.9 214.5Q1220.9 211.5 1216 212.8L1208.4 214.9Q1203.5 216.2 1203.5 223.1Z" fill="none" stroke="#2a96d2" stroke-width="1.1" opacity="0.5"/>
<path d="M1425.9 54.5Q1419.6 58 1418.2 63.7L1416 72.7Q1414.5 78.5 1415.6 80.1L1417.1 82.7Q1418.2 84.3 1424.9 84.3L1435.4 84.4Q1442.1 84.5 1442.1 73.6L1442.1 56.4Q1442.1 45.5 1435.8 49Z" fill="url(#cg2a)" stroke="url(#cg2a)" stroke-width="1.0"/>
<path d="M1330.6 21.1Q1329.9 17.8 1321.6 17.8L1308.5 17.8Q1300.1 17.8 1302.1 25.2L1305.2 36.8Q1307.1 44.2 1314.2 40.2L1325.2 33.8Q1332.2 29.7 1331.6 26.4Z" fill="url(#cg2b)" stroke="url(#cg2b)" stroke-width="1.0"/>
<path d="M1330.6 21.1Q1329.9 17.8 1321.6 17.8L1308.5 17.8Q1300.1 17.8 1302.1 25.2L1305.2 36.8Q1307.1 44.2 1314.2 40.2L1325.2 33.8Q1332.2 29.7 1331.6 26.4Z" fill="none" stroke="#2a96d2" stroke-width="1.1" opacity="0.6"/>
<path d="M1266.6 146.6Q1267.2 152.6 1261.8 155.6L1253.3 160.4Q1247.9 163.5 1243.9 155.8L1237.5 143.6Q1233.5 135.9 1242.3 134.6L1256.1 132.4Q1264.9 131.1 1265.5 137.1Z" fill="url(#cg2b)" stroke="url(#cg2b)" stroke-width="1.0"/>
<path d="M1220 53.5Q1216.2 58.1 1220.5 63L1227.2 70.8Q1231.4 75.8 1237.1 74.1L1245.9 71.3Q1251.6 69.6 1251.1 64.8L1250.2 57.3Q1249.7 52.5 1244.1 49.5L1235.2 44.6Q1229.6 41.6 1225.8 46.2Z" fill="url(#cg2a)" stroke="url(#cg2a)" stroke-width="1.0"/>
<path d="M1208.9 151Q1211 150.9 1215.5 146.2L1222.4 138.8Q1226.9 134.1 1220.3 130.5L1209.9 124.8Q1203.3 121.2 1203.3 129.5L1203.3 142.7Q1203.3 151 1205.5 151Z" fill="url(#cg2b)" stroke="url(#cg2b)" stroke-width="1.0"/>
<path d="M1351.9 37.2Q1349.2 38 1344.7 35.7L1337.6 32Q1333.1 29.6 1332.5 26.4L1331.5 21.4Q1330.9 18.3 1338.9 18.3L1351.3 18.3Q1359.3 18.3 1359.2 23L1359 30.5Q1358.9 35.2 1356.2 36Z" fill="url(#cg2c)" stroke="url(#cg2c)" stroke-width="1.0"/>
<path d="M1306.3 223Q1303.1 222.6 1299.7 214.7L1294.4 202.2Q1291 194.3 1295.5 192.7L1302.4 190.2Q1306.8 188.5 1313.5 192.5L1324 198.8Q1330.7 202.8 1326.1 208.8L1319 218.1Q1314.5 224 1311.3 223.6Z" fill="url(#cg2b)" stroke="url(#cg2b)" stroke-width="1.0"/>
<path d="M1428.9 114.8Q1423.6 115.1 1423.8 123.3L1424.2 136.1Q1424.4 144.3 1429.5 144.1L1437.4 143.9Q1442.4 143.7 1442.4 135.4L1442.4 122.2Q1442.4 113.9 1437.2 114.2Z" fill="url(#cg2a)" stroke="url(#cg2a)" stroke-width="1.0"/>
<path d="M1428.9 114.8Q1423.6 115.1 1423.8 123.3L1424.2 136.1Q1424.4 144.3 1429.5 144.1L1437.4 143.9Q1442.4 143.7 1442.4 135.4L1442.4 122.2Q1442.4 113.9 1437.2 114.2Z" fill="none" stroke="#2a96d2" stroke-width="1.1" opacity="0.6"/>
<path d="M1349.9 73.1Q1354.3 76.2 1354 81.3L1353.5 89.2Q1353.2 94.2 1346 95.3L1334.9 96.9Q1327.8 98 1325.3 96.4L1321.5 93.8Q1319.1 92.2 1320.6 85.7L1322.9 75.6Q1324.5 69.1 1328.4 67.9L1334.6 66.1Q1338.6 64.9 1343 68.1Z" fill="url(#cg2a)" stroke="url(#cg2a)" stroke-width="1.0"/>
<path d="M1349.9 73.1Q1354.3 76.2 1354 81.3L1353.5 89.2Q1353.2 94.2 1346 95.3L1334.9 96.9Q1327.8 98 1325.3 96.4L1321.5 93.8Q1319.1 92.2 1320.6 85.7L1322.9 75.6Q1324.5 69.1 1328.4 67.9L1334.6 66.1Q1338.6 64.9 1343 68.1Z" fill="none" stroke="#2a96d2" stroke-width="1.1" opacity="0.5"/>
<path d="M1205.3 153.6Q1203.1 153.6 1203.1 161.9L1203.1 175Q1203.1 183.3 1208.3 182.5L1216.5 181.2Q1221.7 180.4 1218.7 172.8L1213.9 161Q1210.9 153.5 1208.7 153.5Z" fill="url(#cg2a)" stroke="url(#cg2a)" stroke-width="1.0"/>
<path d="M1260.9 221.6Q1259.6 221.7 1258.6 227.3L1257 236.2Q1256 241.8 1264.9 241.8L1278.8 241.8Q1287.7 241.8 1287.7 240.3L1287.7 238Q1287.8 236.5 1281.1 232.2L1270.7 225.5Q1264.1 221.2 1262.8 221.3Z" fill="url(#cg2c)" stroke="url(#cg2c)" stroke-width="1.0"/>
<path d="M1371.3 67.7Q1377 64.5 1380.1 68.3L1385 74.4Q1388.1 78.2 1385.9 83.4L1382.4 91.5Q1380.2 96.7 1374.3 97.1L1365 97.7Q1359.1 98.1 1358.1 97.2L1356.6 95.8Q1355.6 94.9 1355.9 89.6L1356.4 81.3Q1356.7 76.1 1362.4 72.8Z" fill="url(#cg2c)" stroke="url(#cg2c)" stroke-width="1.0"/>
<path d="M1371.3 67.7Q1377 64.5 1380.1 68.3L1385 74.4Q1388.1 78.2 1385.9 83.4L1382.4 91.5Q1380.2 96.7 1374.3 97.1L1365 97.7Q1359.1 98.1 1358.1 97.2L1356.6 95.8Q1355.6 94.9 1355.9 89.6L1356.4 81.3Q1356.7 76.1 1362.4 72.8Z" fill="none" stroke="#2a96d2" stroke-width="1.1" opacity="0.4"/>
<path d="M1250.6 194.4Q1248.7 185.5 1257.7 186L1271.8 186.9Q1280.8 187.4 1282.5 189.3L1285.2 192.3Q1286.9 194.2 1280.5 201.3L1270.5 212.4Q1264 219.6 1262.9 219.7L1261 219.9Q1259.8 220.1 1258.6 219.3L1256.8 218.2Q1255.6 217.5 1253.6 208.5Z" fill="url(#cg2b)" stroke="url(#cg2b)" stroke-width="1.0"/>
<path d="M1310.8 161.1Q1316.2 164.3 1319.6 163L1324.9 160.9Q1328.3 159.5 1326.4 152.5L1323.4 141.5Q1321.5 134.5 1315.2 133.5L1305.4 132.1Q1299.2 131.1 1298.5 137.2L1297.5 146.9Q1296.8 153 1302.3 156.2Z" fill="url(#cg2b)" stroke="url(#cg2b)" stroke-width="1.0"/>
<path d="M1310.8 161.1Q1316.2 164.3 1319.6 163L1324.9 160.9Q1328.3 159.5 1326.4 152.5L1323.4 141.5Q1321.5 134.5 1315.2 133.5L1305.4 132.1Q1299.2 131.1 1298.5 137.2L1297.5 146.9Q1296.8 153 1302.3 156.2Z" fill="none" stroke="#2a96d2" stroke-width="1.1" opacity="0.7"/>
<circle cx="1207.3" cy="188.2" r="9" fill="url(#sg)" opacity="0.8"/>
<circle cx="1308.2" cy="201.6" r="7" fill="url(#sg)" opacity="0.8"/>
<circle cx="1341.8" cy="206.1" r="6" fill="url(#sg)" opacity="0.7"/>
<circle cx="1279.4" cy="105.2" r="6" fill="url(#sg)" opacity="0.8"/>
<circle cx="1349" cy="120.9" r="5" fill="url(#sg)" opacity="0.8"/>
<circle cx="1334.6" cy="82.7" r="5" fill="url(#sg)" opacity="0.7"/>
<circle cx="1373" cy="154.5" r="5" fill="url(#sg)" opacity="0.6"/>
<circle cx="1406.7" cy="111.9" r="6" fill="url(#sg)" opacity="0.6"/>
<circle cx="1248.1" cy="73.8" r="6" fill="url(#sg)" opacity="0.6"/>
<circle cx="1284.2" cy="46.9" r="5" fill="url(#sg)" opacity="0.6"/>
<circle cx="1363.4" cy="42.4" r="5" fill="url(#sg)" opacity="0.5"/>
<circle cx="1413.9" cy="55.8" r="6" fill="url(#sg)" opacity="0.5"/>
<circle cx="1433.1" cy="210.6" r="6" fill="url(#sg)" opacity="0.6"/>
<circle cx="1313" cy="147.8" r="5" fill="url(#sg)" opacity="0.6"/>
<circle cx="1269.8" cy="190.4" r="5" fill="url(#sg)" opacity="0.6"/>
</g>
<rect x="1202.5" y="17.7" width="240.2" height="224.3" filter="url(#grain)" opacity="0.16"/>
</g>
<text x="1007" y="275" font-size="17.6" text-anchor="middle">Scramble</text>
<text x="1346" y="275" font-size="17.6" text-anchor="middle">siRNA</text>
<g>
<defs><linearGradient id="lg"><stop offset="0" stop-color="#00ff00"/><stop offset="0.5" stop-color="#000"/><stop offset="1" stop-color="#ff0000"/></linearGradient></defs>
<rect x="69.5" y="352.2" width="56" height="9.8" fill="url(#lg)"/>
<line x1="69.7" y1="362" x2="69.7" y2="365" stroke="#666" stroke-width="0.6"/>
<line x1="125.3" y1="362" x2="125.3" y2="365" stroke="#666" stroke-width="0.6"/>
<text x="70.2" y="376" font-size="5.6" class="a" text-anchor="middle" fill="#333">-0.36</text>
<text x="125.1" y="376" font-size="5.6" class="a" text-anchor="middle" fill="#333">0.36</text>
<path d="M213.5 381V327.9H423.2V381" fill="none" stroke="#444" stroke-width="1"/>
<path d="M161.5 386V381H266V382.2M231 386V382.2H300.9V386" fill="none" stroke="#444" stroke-width="1"/>
<path d="M370.8 386V381H475.3V382.2M440.7 386V382.2H510.3V386" fill="none" stroke="#444" stroke-width="1"/>
<rect x="126.9" y="389" width="209.3" height="17.1" fill="#00bfff"/>
<rect x="336.2" y="389" width="209" height="17.1" fill="#cd9b1d"/>
<g shape-rendering="crispEdges" stroke-width="1" fill="none">
<path stroke="#001000" d="M196.5 509.5h69.5M266 412.5h70M336 679.5h69.5M336 741.5h69.5M336 742.5h69.5M336 743.5h69.5M336 745.5h69.5M475 575.5h70M475 576.5h70"/>
<path stroke="#002000" d="M127 529.5h69.5M127 530.5h69.5M127 536.5h69.5M127 559.5h69.5M196.5 510.5h69.5M196.5 511.5h69.5M196.5 512.5h69.5M196.5 513.5h69.5M266 410.5h70M266 411.5h70M336 671.5h69.5M336 672.5h69.5M336 673.5h69.5M336 680.5h69.5M336 682.5h69.5M336 683.5h69.5M336 684.5h69.5M336 689.5h69.5M336 692.5h69.5M336 693.5h69.5M336 694.5h69.5M336 695.5h69.5M336 744.5h69.5M336 746.5h69.5M405.5 766.5h69.5M405.5 767.5h69.5M405.5 770.5h69.5M405.5 771.5h69.5M405.5 775.5h69.5M405.5 776.5h69.5M475 573.5h70M475 574.5h70M475 577.5h70M475 578.5h70"/>
<path stroke="#003000" d="M127 531.5h69.5M127 532.5h69.5M127 533.5h69.5M127 534.5h69.5M127 535.5h69.5M127 548.5h69.5M127 549.5h69.5M196.5 486.5h69.5M196.5 493.5h69.5M196.5 514.5h69.5M196.5 515.5h69.5M196.5 516.5h69.5M196.5 517.5h69.5M196.5 521.5h69.5M196.5 558.5h69.5M196.5 559.5h69.5M266 413.5h70M336 674.5h69.5M336 675.5h69.5M336 676.5h69.5M336 677.5h69.5M336 678.5h69.5M336 681.5h69.5M336 685.5h69.5M336 686.5h69.5M336 687.5h69.5M336 690.5h69.5M336 691.5h69.5M336 696.5h69.5M336 749.5h69.5M405.5 749.5h69.5M405.5 765.5h69.5M405.5 768.5h69.5M405.5 769.5h69.5M405.5 772.5h69.5M475 571.5h70M475 572.5h70"/>
<path stroke="#004100" d="M127 542.5h69.5M127 543.5h69.5M127 550.5h69.5M127 551.5h69.5M127 553.5h69.5M127 554.5h69.5M127 555.5h69.5M127 557.5h69.5M127 558.5h69.5M196.5 490.5h69.5M196.5 492.5h69.5M196.5 551.5h69.5M196.5 552.5h69.5M196.5 555.5h69.5M196.5 556.5h69.5M196.5 557.5h69.5M196.5 565.5h69.5M196.5 566.5h69.5M266 546.5h70M266 557.5h70M336 594.5h69.5M336 595.5h69.5M336 596.5h69.5M336 597.5h69.5M336 688.5h69.5M336 697.5h69.5M336 748.5h69.5M336 754.5h69.5M336 755.5h69.5M405.5 745.5h69.5M405.5 755.5h69.5M405.5 756.5h69.5M405.5 773.5h69.5M405.5 774.5h69.5M475 720.5h70"/>
<path stroke="#005100" d="M127 434.5h69.5M127 495.5h69.5M127 527.5h69.5M127 537.5h69.5M127 541.5h69.5M127 546.5h69.5M127 552.5h69.5M127 556.5h69.5M196.5 487.5h69.5M196.5 494.5h69.5M196.5 495.5h69.5M196.5 497.5h69.5M196.5 499.5h69.5M196.5 500.5h69.5M196.5 502.5h69.5M196.5 504.5h69.5M196.5 506.5h69.5M196.5 507.5h69.5M196.5 508.5h69.5M196.5 518.5h69.5M196.5 553.5h69.5M196.5 554.5h69.5M196.5 560.5h69.5M196.5 561.5h69.5M196.5 562.5h69.5M196.5 563.5h69.5M196.5 564.5h69.5M196.5 569.5h69.5M266 486.5h70M266 487.5h70M336 593.5h69.5M336 698.5h69.5M336 699.5h69.5M336 710.5h69.5M336 717.5h69.5M336 747.5h69.5M336 756.5h69.5M405.5 743.5h69.5M405.5 746.5h69.5M405.5 748.5h69.5M405.5 753.5h69.5M475 719.5h70M475 722.5h70M475 723.5h70"/>
<path stroke="#006100" d="M127 419.5h69.5M127 465.5h69.5M127 470.5h69.5M127 494.5h69.5M127 522.5h69.5M127 523.5h69.5M127 528.5h69.5M127 538.5h69.5M127 539.5h69.5M127 544.5h69.5M127 560.5h69.5M127 563.5h69.5M196.5 427.5h69.5M196.5 437.5h69.5M196.5 440.5h69.5M196.5 485.5h69.5M196.5 491.5h69.5M196.5 496.5h69.5M196.5 501.5h69.5M196.5 503.5h69.5M196.5 505.5h69.5M196.5 519.5h69.5M196.5 520.5h69.5M196.5 567.5h69.5M266 556.5h70M266 558.5h70M266 559.5h70M336 708.5h69.5M336 709.5h69.5M336 718.5h69.5M336 719.5h69.5M336 720.5h69.5M336 750.5h69.5M336 753.5h69.5M336 757.5h69.5M336 761.5h69.5M336 762.5h69.5M336 782.5h69.5M405.5 584.5h69.5M405.5 594.5h69.5M405.5 595.5h69.5M405.5 651.5h69.5M405.5 741.5h69.5M405.5 742.5h69.5M405.5 747.5h69.5M405.5 754.5h69.5M405.5 757.5h69.5M405.5 758.5h69.5M405.5 759.5h69.5M405.5 760.5h69.5M405.5 763.5h69.5M405.5 764.5h69.5M405.5 782.5h69.5M475 711.5h70M475 712.5h70M475 713.5h70M475 714.5h70"/>
<path stroke="#007100" d="M127 417.5h69.5M127 418.5h69.5M127 435.5h69.5M127 469.5h69.5M127 471.5h69.5M127 496.5h69.5M127 497.5h69.5M127 521.5h69.5M127 525.5h69.5M127 540.5h69.5M127 561.5h69.5M127 562.5h69.5M196.5 419.5h69.5M196.5 428.5h69.5M196.5 434.5h69.5M196.5 438.5h69.5M196.5 469.5h69.5M196.5 475.5h69.5M196.5 488.5h69.5M196.5 489.5h69.5M196.5 498.5h69.5M196.5 568.5h69.5M266 485.5h70M266 488.5h70M266 489.5h70M266 553.5h70M336 636.5h69.5M336 637.5h69.5M336 638.5h69.5M336 639.5h69.5M336 706.5h69.5M336 707.5h69.5M336 711.5h69.5M336 713.5h69.5M336 714.5h69.5M336 716.5h69.5M336 751.5h69.5M336 752.5h69.5M336 758.5h69.5M336 760.5h69.5M336 763.5h69.5M336 764.5h69.5M405.5 581.5h69.5M405.5 591.5h69.5M405.5 592.5h69.5M405.5 593.5h69.5M405.5 662.5h69.5M405.5 750.5h69.5M405.5 751.5h69.5M405.5 752.5h69.5M405.5 762.5h69.5M405.5 777.5h69.5M405.5 778.5h69.5M475 664.5h70M475 708.5h70M475 709.5h70M475 710.5h70M475 717.5h70M475 721.5h70M475 728.5h70M475 739.5h70"/>
<path stroke="#008100" d="M127 433.5h69.5M127 468.5h69.5M127 472.5h69.5M127 493.5h69.5M127 518.5h69.5M127 545.5h69.5M196.5 412.5h69.5M196.5 413.5h69.5M196.5 414.5h69.5M196.5 415.5h69.5M196.5 416.5h69.5M196.5 430.5h69.5M196.5 433.5h69.5M196.5 441.5h69.5M196.5 470.5h69.5M196.5 474.5h69.5M196.5 477.5h69.5M266 548.5h70M266 549.5h70M266 552.5h70M266 554.5h70M266 555.5h70M266 561.5h70M266 562.5h70M336 578.5h69.5M336 579.5h69.5M336 585.5h69.5M336 586.5h69.5M336 589.5h69.5M336 590.5h69.5M336 601.5h69.5M336 602.5h69.5M336 700.5h69.5M336 702.5h69.5M336 705.5h69.5M336 712.5h69.5M336 715.5h69.5M336 722.5h69.5M336 728.5h69.5M336 730.5h69.5M336 759.5h69.5M336 781.5h69.5M405.5 580.5h69.5M405.5 582.5h69.5M405.5 583.5h69.5M405.5 585.5h69.5M405.5 586.5h69.5M405.5 589.5h69.5M405.5 590.5h69.5M405.5 652.5h69.5M405.5 659.5h69.5M405.5 660.5h69.5M405.5 663.5h69.5M405.5 724.5h69.5M405.5 730.5h69.5M405.5 744.5h69.5M405.5 761.5h69.5M475 660.5h70M475 668.5h70M475 716.5h70M475 725.5h70M475 730.5h70"/>
<path stroke="#009100" d="M127 466.5h69.5M127 467.5h69.5M127 498.5h69.5M127 519.5h69.5M127 520.5h69.5M127 524.5h69.5M127 526.5h69.5M127 547.5h69.5M127 569.5h69.5M196.5 417.5h69.5M196.5 418.5h69.5M196.5 425.5h69.5M196.5 426.5h69.5M196.5 435.5h69.5M196.5 439.5h69.5M196.5 442.5h69.5M196.5 463.5h69.5M196.5 464.5h69.5M196.5 465.5h69.5M196.5 468.5h69.5M196.5 478.5h69.5M266 463.5h70M266 464.5h70M266 471.5h70M266 477.5h70M266 480.5h70M266 550.5h70M266 551.5h70M336 580.5h69.5M336 584.5h69.5M336 588.5h69.5M336 603.5h69.5M336 612.5h69.5M336 626.5h69.5M336 627.5h69.5M336 634.5h69.5M336 646.5h69.5M336 647.5h69.5M336 703.5h69.5M336 721.5h69.5M336 739.5h69.5M336 740.5h69.5M336 777.5h69.5M336 778.5h69.5M336 779.5h69.5M405.5 653.5h69.5M405.5 657.5h69.5M405.5 661.5h69.5M405.5 723.5h69.5M405.5 725.5h69.5M405.5 729.5h69.5M475 661.5h70M475 669.5h70M475 670.5h70M475 706.5h70M475 707.5h70M475 715.5h70M475 718.5h70M475 724.5h70M475 736.5h70M475 740.5h70"/>
<path stroke="#00a100" d="M127 570.5h69.5M196.5 410.5h69.5M196.5 411.5h69.5M196.5 420.5h69.5M196.5 421.5h69.5M196.5 429.5h69.5M196.5 436.5h69.5M196.5 466.5h69.5M196.5 467.5h69.5M196.5 471.5h69.5M196.5 472.5h69.5M196.5 473.5h69.5M196.5 480.5h69.5M196.5 570.5h69.5M266 465.5h70M266 472.5h70M266 484.5h70M266 492.5h70M266 493.5h70M336 577.5h69.5M336 581.5h69.5M336 587.5h69.5M336 592.5h69.5M336 599.5h69.5M336 600.5h69.5M336 606.5h69.5M336 608.5h69.5M336 609.5h69.5M336 614.5h69.5M336 617.5h69.5M336 621.5h69.5M336 622.5h69.5M336 623.5h69.5M336 624.5h69.5M336 628.5h69.5M336 629.5h69.5M336 630.5h69.5M336 635.5h69.5M336 640.5h69.5M336 641.5h69.5M336 642.5h69.5M336 643.5h69.5M336 644.5h69.5M336 649.5h69.5M336 650.5h69.5M336 652.5h69.5M336 653.5h69.5M336 660.5h69.5M336 661.5h69.5M336 662.5h69.5M336 669.5h69.5M336 701.5h69.5M336 704.5h69.5M336 727.5h69.5M336 780.5h69.5M405.5 587.5h69.5M405.5 588.5h69.5M405.5 655.5h69.5M405.5 656.5h69.5M405.5 658.5h69.5M405.5 728.5h69.5M405.5 733.5h69.5M405.5 735.5h69.5M405.5 737.5h69.5M405.5 738.5h69.5M405.5 739.5h69.5M405.5 740.5h69.5M475 659.5h70M475 662.5h70M475 663.5h70M475 665.5h70M475 666.5h70M475 667.5h70M475 726.5h70M475 727.5h70M475 732.5h70M475 733.5h70M475 734.5h70M475 737.5h70M475 738.5h70"/>
<path stroke="#00b100" d="M127 412.5h69.5M196.5 422.5h69.5M196.5 423.5h69.5M196.5 424.5h69.5M196.5 431.5h69.5M196.5 479.5h69.5M196.5 481.5h69.5M196.5 482.5h69.5M196.5 484.5h69.5M266 469.5h70M266 470.5h70M266 473.5h70M266 474.5h70M266 475.5h70M266 476.5h70M266 482.5h70M266 483.5h70M266 490.5h70M266 491.5h70M266 503.5h70M266 547.5h70M266 560.5h70M336 582.5h69.5M336 583.5h69.5M336 591.5h69.5M336 604.5h69.5M336 605.5h69.5M336 607.5h69.5M336 613.5h69.5M336 618.5h69.5M336 619.5h69.5M336 620.5h69.5M336 625.5h69.5M336 631.5h69.5M336 632.5h69.5M336 633.5h69.5M336 648.5h69.5M336 651.5h69.5M336 655.5h69.5M336 656.5h69.5M336 657.5h69.5M336 663.5h69.5M336 664.5h69.5M336 668.5h69.5M336 729.5h69.5M336 731.5h69.5M405.5 654.5h69.5M405.5 720.5h69.5M405.5 726.5h69.5M405.5 727.5h69.5M405.5 731.5h69.5M405.5 732.5h69.5M405.5 779.5h69.5M405.5 780.5h69.5M405.5 781.5h69.5M475 653.5h70M475 729.5h70M475 731.5h70M475 743.5h70M475 754.5h70M475 755.5h70M475 756.5h70"/>
<path stroke="#00c200" d="M127 411.5h69.5M127 413.5h69.5M127 420.5h69.5M127 425.5h69.5M127 437.5h69.5M127 438.5h69.5M127 439.5h69.5M127 462.5h69.5M127 463.5h69.5M127 464.5h69.5M127 477.5h69.5M127 499.5h69.5M127 500.5h69.5M127 502.5h69.5M127 504.5h69.5M127 508.5h69.5M127 509.5h69.5M127 510.5h69.5M127 512.5h69.5M127 513.5h69.5M127 514.5h69.5M127 515.5h69.5M127 516.5h69.5M196.5 432.5h69.5M196.5 447.5h69.5M196.5 476.5h69.5M196.5 483.5h69.5M196.5 522.5h69.5M196.5 523.5h69.5M196.5 543.5h69.5M196.5 546.5h69.5M266 467.5h70M266 468.5h70M266 481.5h70M266 496.5h70M266 500.5h70M266 504.5h70M266 505.5h70M266 506.5h70M336 575.5h69.5M336 576.5h69.5M336 598.5h69.5M336 610.5h69.5M336 615.5h69.5M336 616.5h69.5M336 645.5h69.5M336 658.5h69.5M336 670.5h69.5M336 725.5h69.5M336 726.5h69.5M336 732.5h69.5M336 733.5h69.5M336 734.5h69.5M336 735.5h69.5M336 736.5h69.5M336 738.5h69.5M405.5 599.5h69.5M405.5 622.5h69.5M405.5 631.5h69.5M405.5 632.5h69.5M405.5 633.5h69.5M405.5 650.5h69.5M405.5 698.5h69.5M405.5 699.5h69.5M405.5 702.5h69.5M405.5 710.5h69.5M405.5 711.5h69.5M405.5 714.5h69.5M405.5 718.5h69.5M405.5 719.5h69.5M405.5 722.5h69.5M405.5 734.5h69.5M405.5 736.5h69.5M475 602.5h70M475 612.5h70M475 613.5h70M475 614.5h70M475 617.5h70M475 619.5h70M475 621.5h70M475 622.5h70M475 623.5h70M475 631.5h70M475 632.5h70M475 633.5h70M475 635.5h70M475 640.5h70M475 641.5h70M475 649.5h70M475 650.5h70M475 657.5h70M475 735.5h70M475 742.5h70M475 744.5h70M475 745.5h70M475 753.5h70M475 757.5h70"/>
<path stroke="#00d200" d="M127 410.5h69.5M127 414.5h69.5M127 415.5h69.5M127 416.5h69.5M127 421.5h69.5M127 426.5h69.5M127 427.5h69.5M127 428.5h69.5M127 429.5h69.5M127 436.5h69.5M127 445.5h69.5M127 446.5h69.5M127 448.5h69.5M127 455.5h69.5M127 458.5h69.5M127 459.5h69.5M127 473.5h69.5M127 480.5h69.5M127 490.5h69.5M127 491.5h69.5M127 492.5h69.5M127 501.5h69.5M127 506.5h69.5M127 507.5h69.5M127 511.5h69.5M196.5 445.5h69.5M196.5 446.5h69.5M196.5 448.5h69.5M196.5 449.5h69.5M196.5 450.5h69.5M196.5 451.5h69.5M196.5 454.5h69.5M196.5 455.5h69.5M196.5 458.5h69.5M196.5 459.5h69.5M196.5 462.5h69.5M196.5 536.5h69.5M196.5 537.5h69.5M196.5 539.5h69.5M196.5 541.5h69.5M196.5 542.5h69.5M196.5 548.5h69.5M196.5 549.5h69.5M266 445.5h70M266 466.5h70M266 478.5h70M266 479.5h70M266 494.5h70M266 495.5h70M266 497.5h70M266 498.5h70M266 499.5h70M266 502.5h70M266 567.5h70M266 570.5h70M336 574.5h69.5M336 611.5h69.5M336 654.5h69.5M336 659.5h69.5M336 665.5h69.5M336 666.5h69.5M336 667.5h69.5M336 723.5h69.5M336 724.5h69.5M336 737.5h69.5M405.5 573.5h69.5M405.5 574.5h69.5M405.5 596.5h69.5M405.5 597.5h69.5M405.5 598.5h69.5M405.5 600.5h69.5M405.5 601.5h69.5M405.5 604.5h69.5M405.5 605.5h69.5M405.5 606.5h69.5M405.5 609.5h69.5M405.5 613.5h69.5M405.5 614.5h69.5M405.5 617.5h69.5M405.5 618.5h69.5M405.5 619.5h69.5M405.5 621.5h69.5M405.5 623.5h69.5M405.5 627.5h69.5M405.5 629.5h69.5M405.5 630.5h69.5M405.5 634.5h69.5M405.5 638.5h69.5M405.5 639.5h69.5M405.5 640.5h69.5M405.5 646.5h69.5M405.5 649.5h69.5M405.5 697.5h69.5M405.5 700.5h69.5M405.5 701.5h69.5M405.5 706.5h69.5M405.5 707.5h69.5M405.5 708.5h69.5M405.5 709.5h69.5M405.5 712.5h69.5M405.5 713.5h69.5M405.5 715.5h69.5M405.5 716.5h69.5M405.5 717.5h69.5M405.5 721.5h69.5M475 599.5h70M475 600.5h70M475 601.5h70M475 603.5h70M475 608.5h70M475 609.5h70M475 615.5h70M475 618.5h70M475 624.5h70M475 625.5h70M475 627.5h70M475 628.5h70M475 629.5h70M475 630.5h70M475 646.5h70M475 647.5h70M475 651.5h70M475 652.5h70M475 654.5h70M475 655.5h70M475 658.5h70M475 746.5h70M475 747.5h70M475 748.5h70M475 749.5h70M475 752.5h70M475 761.5h70"/>
<path stroke="#00e200" d="M127 422.5h69.5M127 423.5h69.5M127 424.5h69.5M127 430.5h69.5M127 432.5h69.5M127 440.5h69.5M127 447.5h69.5M127 449.5h69.5M127 450.5h69.5M127 451.5h69.5M127 454.5h69.5M127 456.5h69.5M127 457.5h69.5M127 460.5h69.5M127 461.5h69.5M127 474.5h69.5M127 475.5h69.5M127 476.5h69.5M127 478.5h69.5M127 479.5h69.5M127 484.5h69.5M127 485.5h69.5M127 486.5h69.5M127 487.5h69.5M127 488.5h69.5M127 489.5h69.5M127 503.5h69.5M127 505.5h69.5M127 517.5h69.5M196.5 443.5h69.5M196.5 444.5h69.5M196.5 452.5h69.5M196.5 453.5h69.5M196.5 456.5h69.5M196.5 457.5h69.5M196.5 460.5h69.5M196.5 461.5h69.5M196.5 527.5h69.5M196.5 528.5h69.5M196.5 529.5h69.5M196.5 530.5h69.5M196.5 531.5h69.5M196.5 532.5h69.5M196.5 533.5h69.5M196.5 534.5h69.5M196.5 535.5h69.5M196.5 538.5h69.5M196.5 540.5h69.5M196.5 544.5h69.5M196.5 545.5h69.5M196.5 550.5h69.5M266 414.5h70M266 415.5h70M266 416.5h70M266 417.5h70M266 418.5h70M266 419.5h70M266 420.5h70M266 421.5h70M266 422.5h70M266 423.5h70M266 424.5h70M266 425.5h70M266 426.5h70M266 427.5h70M266 428.5h70M266 429.5h70M266 430.5h70M266 433.5h70M266 434.5h70M266 437.5h70M266 438.5h70M266 439.5h70M266 440.5h70M266 441.5h70M266 443.5h70M266 444.5h70M266 446.5h70M266 447.5h70M266 448.5h70M266 449.5h70M266 450.5h70M266 452.5h70M266 453.5h70M266 454.5h70M266 455.5h70M266 457.5h70M266 458.5h70M266 461.5h70M266 462.5h70M266 507.5h70M266 517.5h70M266 519.5h70M266 521.5h70M266 522.5h70M266 533.5h70M266 534.5h70M266 535.5h70M266 536.5h70M266 537.5h70M266 541.5h70M266 542.5h70M266 543.5h70M266 544.5h70M266 545.5h70M266 563.5h70M266 565.5h70M266 566.5h70M266 568.5h70M266 569.5h70M336 571.5h69.5M336 572.5h69.5M336 573.5h69.5M405.5 571.5h69.5M405.5 572.5h69.5M405.5 575.5h69.5M405.5 576.5h69.5M405.5 578.5h69.5M405.5 579.5h69.5M405.5 602.5h69.5M405.5 603.5h69.5M405.5 607.5h69.5M405.5 608.5h69.5M405.5 610.5h69.5M405.5 612.5h69.5M405.5 615.5h69.5M405.5 616.5h69.5M405.5 624.5h69.5M405.5 625.5h69.5M405.5 626.5h69.5M405.5 628.5h69.5M405.5 635.5h69.5M405.5 636.5h69.5M405.5 641.5h69.5M405.5 642.5h69.5M405.5 643.5h69.5M405.5 644.5h69.5M405.5 645.5h69.5M405.5 647.5h69.5M405.5 648.5h69.5M405.5 664.5h69.5M405.5 668.5h69.5M405.5 669.5h69.5M405.5 670.5h69.5M405.5 671.5h69.5M405.5 677.5h69.5M405.5 682.5h69.5M405.5 684.5h69.5M405.5 692.5h69.5M405.5 693.5h69.5M405.5 694.5h69.5M405.5 695.5h69.5M405.5 696.5h69.5M405.5 703.5h69.5M405.5 704.5h69.5M405.5 705.5h69.5M475 604.5h70M475 605.5h70M475 606.5h70M475 607.5h70M475 610.5h70M475 611.5h70M475 616.5h70M475 626.5h70M475 634.5h70M475 636.5h70M475 637.5h70M475 638.5h70M475 639.5h70M475 642.5h70M475 643.5h70M475 644.5h70M475 645.5h70M475 648.5h70M475 671.5h70M475 673.5h70M475 674.5h70M475 675.5h70M475 677.5h70M475 678.5h70M475 679.5h70M475 682.5h70M475 683.5h70M475 684.5h70M475 687.5h70M475 688.5h70M475 693.5h70M475 694.5h70M475 695.5h70M475 696.5h70M475 697.5h70M475 741.5h70M475 758.5h70M475 760.5h70M475 770.5h70M475 775.5h70M475 776.5h70M475 782.5h70"/>
<path stroke="#00f200" d="M127 431.5h69.5M127 441.5h69.5M127 442.5h69.5M127 443.5h69.5M127 444.5h69.5M127 452.5h69.5M127 453.5h69.5M127 481.5h69.5M127 482.5h69.5M127 483.5h69.5M127 564.5h69.5M127 565.5h69.5M127 566.5h69.5M127 567.5h69.5M127 568.5h69.5M196.5 524.5h69.5M196.5 525.5h69.5M196.5 526.5h69.5M196.5 547.5h69.5M266 431.5h70M266 432.5h70M266 435.5h70M266 436.5h70M266 442.5h70M266 451.5h70M266 456.5h70M266 459.5h70M266 460.5h70M266 501.5h70M266 508.5h70M266 509.5h70M266 510.5h70M266 511.5h70M266 512.5h70M266 513.5h70M266 514.5h70M266 515.5h70M266 516.5h70M266 518.5h70M266 520.5h70M266 523.5h70M266 524.5h70M266 525.5h70M266 526.5h70M266 527.5h70M266 528.5h70M266 529.5h70M266 530.5h70M266 531.5h70M266 532.5h70M266 538.5h70M266 539.5h70M266 540.5h70M266 564.5h70M336 765.5h69.5M336 766.5h69.5M336 767.5h69.5M336 768.5h69.5M336 769.5h69.5M336 770.5h69.5M336 771.5h69.5M336 772.5h69.5M336 773.5h69.5M336 774.5h69.5M336 775.5h69.5M336 776.5h69.5M405.5 577.5h69.5M405.5 611.5h69.5M405.5 620.5h69.5M405.5 637.5h69.5M405.5 665.5h69.5M405.5 666.5h69.5M405.5 667.5h69.5M405.5 672.5h69.5M405.5 673.5h69.5M405.5 674.5h69.5M405.5 675.5h69.5M405.5 676.5h69.5M405.5 678.5h69.5M405.5 679.5h69.5M405.5 680.5h69.5M405.5 681.5h69.5M405.5 683.5h69.5M405.5 685.5h69.5M405.5 686.5h69.5M405.5 687.5h69.5M405.5 688.5h69.5M405.5 689.5h69.5M405.5 690.5h69.5M405.5 691.5h69.5M475 579.5h70M475 580.5h70M475 581.5h70M475 582.5h70M475 583.5h70M475 584.5h70M475 585.5h70M475 586.5h70M475 587.5h70M475 588.5h70M475 589.5h70M475 590.5h70M475 591.5h70M475 592.5h70M475 593.5h70M475 594.5h70M475 595.5h70M475 596.5h70M475 597.5h70M475 598.5h70M475 620.5h70M475 656.5h70M475 672.5h70M475 676.5h70M475 680.5h70M475 681.5h70M475 685.5h70M475 686.5h70M475 689.5h70M475 690.5h70M475 691.5h70M475 692.5h70M475 698.5h70M475 699.5h70M475 700.5h70M475 701.5h70M475 702.5h70M475 703.5h70M475 704.5h70M475 705.5h70M475 750.5h70M475 751.5h70M475 759.5h70M475 762.5h70M475 763.5h70M475 764.5h70M475 765.5h70M475 766.5h70M475 767.5h70M475 768.5h70M475 769.5h70M475 771.5h70M475 772.5h70M475 773.5h70M475 774.5h70M475 777.5h70M475 778.5h70M475 779.5h70M475 780.5h70M475 781.5h70"/>
<path stroke="#100000" d="M127 753.5h69.5M127 757.5h69.5M127 759.5h69.5"/>
<path stroke="#200000" d="M127 685.5h69.5M127 688.5h69.5M127 689.5h69.5M127 741.5h69.5M127 746.5h69.5M127 747.5h69.5M127 748.5h69.5M127 750.5h69.5M127 751.5h69.5M127 752.5h69.5M127 754.5h69.5M127 758.5h69.5M127 760.5h69.5M127 761.5h69.5M127 762.5h69.5M336 560.5h69.5M475 558.5h70M475 559.5h70"/>
<path stroke="#300000" d="M127 591.5h69.5M127 592.5h69.5M127 593.5h69.5M127 669.5h69.5M127 670.5h69.5M127 672.5h69.5M127 673.5h69.5M127 675.5h69.5M127 686.5h69.5M127 687.5h69.5M127 742.5h69.5M127 743.5h69.5M127 744.5h69.5M127 745.5h69.5M127 749.5h69.5M127 755.5h69.5M127 756.5h69.5M127 763.5h69.5M127 764.5h69.5M127 765.5h69.5M196.5 737.5h69.5M196.5 738.5h69.5M336 501.5h69.5M336 563.5h69.5M405.5 542.5h69.5M405.5 550.5h69.5M475 551.5h70M475 555.5h70M475 556.5h70M475 557.5h70"/>
<path stroke="#410000" d="M127 671.5h69.5M127 766.5h69.5M127 767.5h69.5M196.5 604.5h69.5M196.5 735.5h69.5M196.5 736.5h69.5M196.5 739.5h69.5M196.5 740.5h69.5M266 572.5h70M266 573.5h70M266 697.5h70M266 698.5h70M266 700.5h70M266 701.5h70M266 702.5h70M266 703.5h70M266 704.5h70M266 705.5h70M266 719.5h70M266 720.5h70M266 723.5h70M266 724.5h70M266 732.5h70M266 771.5h70M336 502.5h69.5M336 503.5h69.5M405.5 484.5h69.5M405.5 543.5h69.5M405.5 547.5h69.5M405.5 548.5h69.5M405.5 549.5h69.5M405.5 551.5h69.5M475 492.5h70M475 552.5h70M475 553.5h70M475 554.5h70"/>
<path stroke="#510000" d="M127 579.5h69.5M127 588.5h69.5M127 594.5h69.5M127 595.5h69.5M127 674.5h69.5M196.5 605.5h69.5M196.5 741.5h69.5M266 571.5h70M266 575.5h70M266 578.5h70M266 685.5h70M266 699.5h70M266 717.5h70M266 718.5h70M266 721.5h70M266 722.5h70M266 725.5h70M266 726.5h70M266 730.5h70M266 731.5h70M266 733.5h70M266 734.5h70M266 778.5h70M266 779.5h70M336 498.5h69.5M336 499.5h69.5M336 500.5h69.5M336 504.5h69.5M336 505.5h69.5M336 510.5h69.5M336 511.5h69.5M336 561.5h69.5M336 562.5h69.5M405.5 482.5h69.5M405.5 483.5h69.5M405.5 488.5h69.5M405.5 522.5h69.5M405.5 523.5h69.5M405.5 530.5h69.5M405.5 531.5h69.5M405.5 532.5h69.5M405.5 544.5h69.5M405.5 545.5h69.5M405.5 546.5h69.5M475 473.5h70M475 474.5h70M475 475.5h70M475 490.5h70M475 491.5h70"/>
<path stroke="#610000" d="M127 698.5h69.5M127 700.5h69.5M127 704.5h69.5M196.5 576.5h69.5M196.5 580.5h69.5M196.5 583.5h69.5M196.5 606.5h69.5M196.5 607.5h69.5M266 576.5h70M266 577.5h70M266 579.5h70M266 592.5h70M266 593.5h70M266 677.5h70M266 683.5h70M266 684.5h70M266 688.5h70M266 727.5h70M266 728.5h70M266 765.5h70M266 768.5h70M266 769.5h70M266 770.5h70M266 772.5h70M266 773.5h70M266 774.5h70M266 781.5h70M266 782.5h70M336 506.5h69.5M336 507.5h69.5M336 512.5h69.5M336 513.5h69.5M336 514.5h69.5M336 515.5h69.5M336 516.5h69.5M336 518.5h69.5M336 519.5h69.5M405.5 486.5h69.5M405.5 487.5h69.5M405.5 515.5h69.5M405.5 533.5h69.5M405.5 534.5h69.5M405.5 535.5h69.5M405.5 536.5h69.5M405.5 539.5h69.5M405.5 540.5h69.5M405.5 570.5h69.5M475 436.5h70M475 467.5h70M475 468.5h70M475 472.5h70M475 479.5h70M475 480.5h70M475 481.5h70M475 489.5h70"/>
<path stroke="#710000" d="M127 575.5h69.5M127 578.5h69.5M127 676.5h69.5M127 677.5h69.5M127 680.5h69.5M127 681.5h69.5M127 682.5h69.5M127 695.5h69.5M127 707.5h69.5M127 713.5h69.5M196.5 572.5h69.5M196.5 573.5h69.5M196.5 574.5h69.5M196.5 581.5h69.5M196.5 582.5h69.5M266 574.5h70M266 594.5h70M266 595.5h70M266 597.5h70M266 598.5h70M266 679.5h70M266 680.5h70M266 687.5h70M266 689.5h70M266 690.5h70M266 692.5h70M266 694.5h70M266 695.5h70M266 696.5h70M266 729.5h70M266 780.5h70M336 413.5h69.5M336 414.5h69.5M336 415.5h69.5M336 416.5h69.5M336 517.5h69.5M336 522.5h69.5M336 542.5h69.5M405.5 485.5h69.5M405.5 513.5h69.5M405.5 520.5h69.5M405.5 521.5h69.5M405.5 524.5h69.5M405.5 525.5h69.5M405.5 528.5h69.5M405.5 537.5h69.5M405.5 560.5h69.5M405.5 564.5h69.5M405.5 567.5h69.5M405.5 568.5h69.5M475 437.5h70M475 466.5h70M475 469.5h70M475 470.5h70M475 482.5h70M475 483.5h70M475 484.5h70M475 485.5h70M475 522.5h70M475 523.5h70M475 524.5h70"/>
<path stroke="#810000" d="M127 573.5h69.5M127 576.5h69.5M127 577.5h69.5M127 580.5h69.5M127 583.5h69.5M127 584.5h69.5M127 585.5h69.5M127 586.5h69.5M127 587.5h69.5M127 590.5h69.5M127 679.5h69.5M127 683.5h69.5M127 684.5h69.5M127 690.5h69.5M127 692.5h69.5M127 694.5h69.5M127 699.5h69.5M127 703.5h69.5M127 705.5h69.5M127 708.5h69.5M196.5 571.5h69.5M196.5 575.5h69.5M196.5 577.5h69.5M196.5 578.5h69.5M196.5 579.5h69.5M196.5 584.5h69.5M196.5 585.5h69.5M196.5 680.5h69.5M196.5 681.5h69.5M196.5 691.5h69.5M196.5 692.5h69.5M266 589.5h70M266 590.5h70M266 591.5h70M266 596.5h70M266 678.5h70M266 681.5h70M266 682.5h70M266 686.5h70M266 691.5h70M266 766.5h70M266 767.5h70M336 417.5h69.5M336 508.5h69.5M336 523.5h69.5M336 534.5h69.5M336 535.5h69.5M336 546.5h69.5M405.5 415.5h69.5M405.5 514.5h69.5M405.5 516.5h69.5M405.5 519.5h69.5M405.5 529.5h69.5M405.5 541.5h69.5M405.5 561.5h69.5M405.5 562.5h69.5M405.5 563.5h69.5M475 429.5h70M475 471.5h70M475 476.5h70M475 486.5h70M475 487.5h70M475 488.5h70M475 493.5h70M475 494.5h70M475 495.5h70M475 504.5h70M475 508.5h70M475 510.5h70M475 516.5h70M475 529.5h70M475 530.5h70M475 532.5h70M475 534.5h70M475 535.5h70"/>
<path stroke="#910000" d="M127 572.5h69.5M127 589.5h69.5M127 659.5h69.5M127 662.5h69.5M127 678.5h69.5M127 696.5h69.5M127 697.5h69.5M127 714.5h69.5M127 716.5h69.5M127 772.5h69.5M127 773.5h69.5M127 774.5h69.5M196.5 586.5h69.5M196.5 587.5h69.5M196.5 588.5h69.5M196.5 589.5h69.5M196.5 590.5h69.5M196.5 591.5h69.5M196.5 592.5h69.5M196.5 593.5h69.5M196.5 595.5h69.5M196.5 596.5h69.5M196.5 603.5h69.5M196.5 609.5h69.5M196.5 659.5h69.5M196.5 666.5h69.5M196.5 667.5h69.5M196.5 668.5h69.5M196.5 673.5h69.5M196.5 676.5h69.5M196.5 677.5h69.5M196.5 690.5h69.5M196.5 694.5h69.5M196.5 695.5h69.5M266 693.5h70M266 706.5h70M266 707.5h70M266 708.5h70M266 716.5h70M266 775.5h70M266 776.5h70M266 777.5h70M336 410.5h69.5M336 411.5h69.5M336 412.5h69.5M336 418.5h69.5M336 419.5h69.5M336 521.5h69.5M336 524.5h69.5M336 528.5h69.5M336 529.5h69.5M336 530.5h69.5M336 532.5h69.5M336 533.5h69.5M336 540.5h69.5M336 550.5h69.5M336 564.5h69.5M336 565.5h69.5M336 567.5h69.5M336 568.5h69.5M405.5 411.5h69.5M405.5 413.5h69.5M405.5 414.5h69.5M405.5 417.5h69.5M405.5 511.5h69.5M405.5 517.5h69.5M405.5 518.5h69.5M405.5 526.5h69.5M405.5 527.5h69.5M405.5 538.5h69.5M405.5 565.5h69.5M405.5 566.5h69.5M405.5 569.5h69.5M475 464.5h70M475 465.5h70M475 477.5h70M475 478.5h70M475 497.5h70M475 527.5h70M475 528.5h70M475 533.5h70M475 536.5h70M475 537.5h70M475 560.5h70"/>
<path stroke="#a10000" d="M127 581.5h69.5M127 658.5h69.5M127 693.5h69.5M127 701.5h69.5M127 702.5h69.5M127 706.5h69.5M127 710.5h69.5M127 711.5h69.5M127 712.5h69.5M127 715.5h69.5M127 768.5h69.5M127 769.5h69.5M127 770.5h69.5M127 771.5h69.5M127 777.5h69.5M127 779.5h69.5M127 780.5h69.5M127 781.5h69.5M127 782.5h69.5M196.5 594.5h69.5M196.5 610.5h69.5M196.5 611.5h69.5M196.5 612.5h69.5M196.5 614.5h69.5M196.5 617.5h69.5M196.5 662.5h69.5M196.5 663.5h69.5M196.5 664.5h69.5M196.5 665.5h69.5M196.5 669.5h69.5M196.5 674.5h69.5M196.5 675.5h69.5M196.5 682.5h69.5M196.5 684.5h69.5M196.5 696.5h69.5M266 712.5h70M266 713.5h70M336 495.5h69.5M336 531.5h69.5M336 539.5h69.5M336 541.5h69.5M336 543.5h69.5M336 544.5h69.5M336 545.5h69.5M336 547.5h69.5M405.5 410.5h69.5M405.5 412.5h69.5M405.5 416.5h69.5M405.5 418.5h69.5M475 432.5h70M475 433.5h70M475 434.5h70M475 435.5h70M475 501.5h70M475 502.5h70M475 503.5h70M475 506.5h70M475 507.5h70M475 511.5h70M475 515.5h70M475 517.5h70M475 518.5h70M475 520.5h70M475 521.5h70M475 525.5h70M475 538.5h70M475 561.5h70M475 565.5h70M475 567.5h70M475 568.5h70"/>
<path stroke="#b10000" d="M127 574.5h69.5M127 582.5h69.5M127 656.5h69.5M127 657.5h69.5M127 660.5h69.5M127 661.5h69.5M127 691.5h69.5M127 709.5h69.5M196.5 598.5h69.5M196.5 599.5h69.5M196.5 600.5h69.5M196.5 601.5h69.5M196.5 602.5h69.5M196.5 613.5h69.5M196.5 615.5h69.5M196.5 616.5h69.5M196.5 670.5h69.5M196.5 693.5h69.5M196.5 776.5h69.5M196.5 778.5h69.5M196.5 779.5h69.5M196.5 780.5h69.5M266 710.5h70M266 714.5h70M266 715.5h70M336 493.5h69.5M336 494.5h69.5M336 525.5h69.5M336 527.5h69.5M336 548.5h69.5M336 549.5h69.5M336 570.5h69.5M405.5 512.5h69.5M475 430.5h70M475 431.5h70M475 499.5h70M475 500.5h70M475 505.5h70M475 512.5h70M475 513.5h70M475 519.5h70M475 526.5h70M475 531.5h70M475 562.5h70M475 564.5h70M475 569.5h70M475 570.5h70"/>
<path stroke="#c20000" d="M127 571.5h69.5M127 663.5h69.5M127 668.5h69.5M127 738.5h69.5M127 739.5h69.5M127 740.5h69.5M127 775.5h69.5M127 776.5h69.5M196.5 597.5h69.5M196.5 608.5h69.5M196.5 661.5h69.5M196.5 671.5h69.5M196.5 672.5h69.5M196.5 678.5h69.5M196.5 679.5h69.5M196.5 685.5h69.5M196.5 688.5h69.5M196.5 689.5h69.5M196.5 697.5h69.5M196.5 700.5h69.5M196.5 701.5h69.5M196.5 713.5h69.5M196.5 777.5h69.5M196.5 781.5h69.5M196.5 782.5h69.5M266 583.5h70M266 603.5h70M266 709.5h70M266 711.5h70M336 496.5h69.5M336 497.5h69.5M336 509.5h69.5M336 520.5h69.5M336 536.5h69.5M336 537.5h69.5M336 569.5h69.5M405.5 419.5h69.5M405.5 447.5h69.5M405.5 462.5h69.5M405.5 463.5h69.5M405.5 466.5h69.5M405.5 467.5h69.5M405.5 468.5h69.5M405.5 472.5h69.5M405.5 473.5h69.5M405.5 474.5h69.5M405.5 475.5h69.5M405.5 476.5h69.5M405.5 478.5h69.5M405.5 479.5h69.5M405.5 480.5h69.5M475 417.5h70M475 496.5h70M475 514.5h70M475 563.5h70"/>
<path stroke="#d20000" d="M127 596.5h69.5M127 597.5h69.5M127 598.5h69.5M127 599.5h69.5M127 617.5h69.5M127 619.5h69.5M127 625.5h69.5M127 630.5h69.5M127 631.5h69.5M127 632.5h69.5M127 636.5h69.5M127 638.5h69.5M127 645.5h69.5M127 648.5h69.5M127 653.5h69.5M127 654.5h69.5M127 664.5h69.5M127 667.5h69.5M127 717.5h69.5M127 718.5h69.5M127 719.5h69.5M127 724.5h69.5M127 728.5h69.5M127 730.5h69.5M127 734.5h69.5M127 735.5h69.5M127 736.5h69.5M127 737.5h69.5M127 778.5h69.5M196.5 619.5h69.5M196.5 620.5h69.5M196.5 621.5h69.5M196.5 629.5h69.5M196.5 632.5h69.5M196.5 633.5h69.5M196.5 648.5h69.5M196.5 653.5h69.5M196.5 654.5h69.5M196.5 656.5h69.5M196.5 660.5h69.5M196.5 683.5h69.5M196.5 686.5h69.5M196.5 687.5h69.5M196.5 698.5h69.5M196.5 704.5h69.5M196.5 705.5h69.5M196.5 706.5h69.5M196.5 708.5h69.5M196.5 710.5h69.5M196.5 712.5h69.5M196.5 714.5h69.5M196.5 718.5h69.5M196.5 719.5h69.5M196.5 722.5h69.5M196.5 723.5h69.5M196.5 724.5h69.5M196.5 725.5h69.5M196.5 726.5h69.5M196.5 732.5h69.5M196.5 733.5h69.5M196.5 734.5h69.5M266 580.5h70M266 581.5h70M266 582.5h70M266 584.5h70M266 586.5h70M266 587.5h70M266 588.5h70M266 602.5h70M266 604.5h70M266 605.5h70M266 608.5h70M266 610.5h70M266 619.5h70M266 624.5h70M266 627.5h70M266 633.5h70M266 634.5h70M266 637.5h70M266 638.5h70M266 645.5h70M266 653.5h70M266 656.5h70M266 657.5h70M266 659.5h70M266 662.5h70M266 675.5h70M266 676.5h70M336 420.5h69.5M336 424.5h69.5M336 425.5h69.5M336 426.5h69.5M336 433.5h69.5M336 436.5h69.5M336 437.5h69.5M336 439.5h69.5M336 444.5h69.5M336 445.5h69.5M336 446.5h69.5M336 447.5h69.5M336 448.5h69.5M336 449.5h69.5M336 453.5h69.5M336 455.5h69.5M336 459.5h69.5M336 460.5h69.5M336 473.5h69.5M336 474.5h69.5M336 475.5h69.5M336 476.5h69.5M336 477.5h69.5M336 478.5h69.5M336 479.5h69.5M336 480.5h69.5M336 481.5h69.5M336 482.5h69.5M336 483.5h69.5M336 484.5h69.5M336 486.5h69.5M336 488.5h69.5M336 489.5h69.5M336 490.5h69.5M336 491.5h69.5M336 492.5h69.5M336 526.5h69.5M336 538.5h69.5M336 566.5h69.5M405.5 443.5h69.5M405.5 444.5h69.5M405.5 448.5h69.5M405.5 449.5h69.5M405.5 450.5h69.5M405.5 451.5h69.5M405.5 452.5h69.5M405.5 453.5h69.5M405.5 455.5h69.5M405.5 458.5h69.5M405.5 459.5h69.5M405.5 460.5h69.5M405.5 461.5h69.5M405.5 464.5h69.5M405.5 465.5h69.5M405.5 469.5h69.5M405.5 470.5h69.5M405.5 471.5h69.5M405.5 477.5h69.5M405.5 481.5h69.5M405.5 552.5h69.5M405.5 555.5h69.5M405.5 558.5h69.5M405.5 559.5h69.5M475 413.5h70M475 414.5h70M475 415.5h70M475 416.5h70M475 418.5h70M475 420.5h70M475 421.5h70M475 422.5h70M475 423.5h70M475 424.5h70M475 445.5h70M475 447.5h70M475 448.5h70M475 449.5h70M475 452.5h70M475 453.5h70M475 457.5h70M475 458.5h70M475 459.5h70M475 460.5h70M475 498.5h70M475 509.5h70M475 539.5h70M475 542.5h70M475 545.5h70M475 546.5h70M475 548.5h70M475 549.5h70M475 550.5h70M475 566.5h70"/>
<path stroke="#e20000" d="M127 600.5h69.5M127 601.5h69.5M127 602.5h69.5M127 603.5h69.5M127 604.5h69.5M127 605.5h69.5M127 608.5h69.5M127 609.5h69.5M127 611.5h69.5M127 615.5h69.5M127 618.5h69.5M127 620.5h69.5M127 621.5h69.5M127 622.5h69.5M127 623.5h69.5M127 624.5h69.5M127 626.5h69.5M127 627.5h69.5M127 628.5h69.5M127 629.5h69.5M127 633.5h69.5M127 634.5h69.5M127 635.5h69.5M127 637.5h69.5M127 639.5h69.5M127 640.5h69.5M127 641.5h69.5M127 642.5h69.5M127 643.5h69.5M127 644.5h69.5M127 646.5h69.5M127 665.5h69.5M127 666.5h69.5M127 720.5h69.5M127 722.5h69.5M127 723.5h69.5M127 725.5h69.5M127 726.5h69.5M127 727.5h69.5M127 729.5h69.5M127 731.5h69.5M127 732.5h69.5M127 733.5h69.5M196.5 622.5h69.5M196.5 623.5h69.5M196.5 625.5h69.5M196.5 626.5h69.5M196.5 627.5h69.5M196.5 628.5h69.5M196.5 630.5h69.5M196.5 631.5h69.5M196.5 634.5h69.5M196.5 635.5h69.5M196.5 637.5h69.5M196.5 638.5h69.5M196.5 639.5h69.5M196.5 640.5h69.5M196.5 641.5h69.5M196.5 642.5h69.5M196.5 643.5h69.5M196.5 644.5h69.5M196.5 645.5h69.5M196.5 646.5h69.5M196.5 647.5h69.5M196.5 649.5h69.5M196.5 657.5h69.5M196.5 658.5h69.5M196.5 699.5h69.5M196.5 702.5h69.5M196.5 703.5h69.5M196.5 707.5h69.5M196.5 709.5h69.5M196.5 717.5h69.5M196.5 720.5h69.5M196.5 721.5h69.5M196.5 727.5h69.5M196.5 728.5h69.5M266 585.5h70M266 599.5h70M266 600.5h70M266 601.5h70M266 606.5h70M266 607.5h70M266 609.5h70M266 611.5h70M266 614.5h70M266 615.5h70M266 616.5h70M266 617.5h70M266 618.5h70M266 620.5h70M266 621.5h70M266 622.5h70M266 623.5h70M266 625.5h70M266 626.5h70M266 628.5h70M266 630.5h70M266 631.5h70M266 635.5h70M266 636.5h70M266 639.5h70M266 641.5h70M266 642.5h70M266 644.5h70M266 646.5h70M266 648.5h70M266 651.5h70M266 652.5h70M266 654.5h70M266 655.5h70M266 658.5h70M266 661.5h70M266 663.5h70M266 664.5h70M266 665.5h70M266 666.5h70M266 667.5h70M266 668.5h70M266 673.5h70M266 674.5h70M266 752.5h70M266 759.5h70M336 421.5h69.5M336 422.5h69.5M336 423.5h69.5M336 427.5h69.5M336 429.5h69.5M336 430.5h69.5M336 431.5h69.5M336 432.5h69.5M336 434.5h69.5M336 435.5h69.5M336 438.5h69.5M336 440.5h69.5M336 441.5h69.5M336 442.5h69.5M336 443.5h69.5M336 450.5h69.5M336 452.5h69.5M336 454.5h69.5M336 456.5h69.5M336 457.5h69.5M336 458.5h69.5M336 461.5h69.5M336 462.5h69.5M336 463.5h69.5M336 464.5h69.5M336 465.5h69.5M336 466.5h69.5M336 467.5h69.5M336 468.5h69.5M336 469.5h69.5M336 470.5h69.5M336 471.5h69.5M336 472.5h69.5M336 487.5h69.5M336 552.5h69.5M336 553.5h69.5M336 554.5h69.5M336 555.5h69.5M336 557.5h69.5M336 558.5h69.5M336 559.5h69.5M405.5 445.5h69.5M405.5 446.5h69.5M405.5 454.5h69.5M405.5 456.5h69.5M405.5 457.5h69.5M405.5 490.5h69.5M405.5 491.5h69.5M405.5 492.5h69.5M405.5 493.5h69.5M405.5 494.5h69.5M405.5 495.5h69.5M405.5 497.5h69.5M405.5 501.5h69.5M405.5 502.5h69.5M405.5 503.5h69.5M405.5 504.5h69.5M405.5 505.5h69.5M405.5 506.5h69.5M405.5 507.5h69.5M405.5 508.5h69.5M405.5 510.5h69.5M405.5 553.5h69.5M405.5 554.5h69.5M405.5 557.5h69.5M475 410.5h70M475 411.5h70M475 412.5h70M475 419.5h70M475 425.5h70M475 426.5h70M475 427.5h70M475 428.5h70M475 439.5h70M475 440.5h70M475 441.5h70M475 442.5h70M475 443.5h70M475 444.5h70M475 446.5h70M475 451.5h70M475 454.5h70M475 455.5h70M475 461.5h70M475 462.5h70M475 463.5h70M475 540.5h70M475 543.5h70M475 547.5h70"/>
<path stroke="#f20000" d="M127 606.5h69.5M127 607.5h69.5M127 610.5h69.5M127 612.5h69.5M127 613.5h69.5M127 614.5h69.5M127 616.5h69.5M127 647.5h69.5M127 649.5h69.5M127 650.5h69.5M127 651.5h69.5M127 652.5h69.5M127 655.5h69.5M127 721.5h69.5M196.5 618.5h69.5M196.5 624.5h69.5M196.5 636.5h69.5M196.5 650.5h69.5M196.5 651.5h69.5M196.5 652.5h69.5M196.5 655.5h69.5M196.5 711.5h69.5M196.5 715.5h69.5M196.5 716.5h69.5M196.5 729.5h69.5M196.5 730.5h69.5M196.5 731.5h69.5M196.5 742.5h69.5M196.5 743.5h69.5M196.5 744.5h69.5M196.5 745.5h69.5M196.5 746.5h69.5M196.5 747.5h69.5M196.5 748.5h69.5M196.5 749.5h69.5M196.5 750.5h69.5M196.5 751.5h69.5M196.5 752.5h69.5M196.5 753.5h69.5M196.5 754.5h69.5M196.5 755.5h69.5M196.5 756.5h69.5M196.5 757.5h69.5M196.5 758.5h69.5M196.5 759.5h69.5M196.5 760.5h69.5M196.5 761.5h69.5M196.5 762.5h69.5M196.5 763.5h69.5M196.5 764.5h69.5M196.5 765.5h69.5M196.5 766.5h69.5M196.5 767.5h69.5M196.5 768.5h69.5M196.5 769.5h69.5M196.5 770.5h69.5M196.5 771.5h69.5M196.5 772.5h69.5M196.5 773.5h69.5M196.5 774.5h69.5M196.5 775.5h69.5M266 612.5h70M266 613.5h70M266 629.5h70M266 632.5h70M266 640.5h70M266 643.5h70M266 647.5h70M266 649.5h70M266 650.5h70M266 660.5h70M266 669.5h70M266 670.5h70M266 671.5h70M266 672.5h70M266 735.5h70M266 736.5h70M266 737.5h70M266 738.5h70M266 739.5h70M266 740.5h70M266 741.5h70M266 742.5h70M266 743.5h70M266 744.5h70M266 745.5h70M266 746.5h70M266 747.5h70M266 748.5h70M266 749.5h70M266 750.5h70M266 751.5h70M266 753.5h70M266 754.5h70M266 755.5h70M266 756.5h70M266 757.5h70M266 758.5h70M266 760.5h70M266 761.5h70M266 762.5h70M266 763.5h70M266 764.5h70M336 428.5h69.5M336 451.5h69.5M336 485.5h69.5M336 551.5h69.5M336 556.5h69.5M405.5 420.5h69.5M405.5 421.5h69.5M405.5 422.5h69.5M405.5 423.5h69.5M405.5 424.5h69.5M405.5 425.5h69.5M405.5 426.5h69.5M405.5 427.5h69.5M405.5 428.5h69.5M405.5 429.5h69.5M405.5 430.5h69.5M405.5 431.5h69.5M405.5 432.5h69.5M405.5 433.5h69.5M405.5 434.5h69.5M405.5 435.5h69.5M405.5 436.5h69.5M405.5 437.5h69.5M405.5 438.5h69.5M405.5 439.5h69.5M405.5 440.5h69.5M405.5 441.5h69.5M405.5 442.5h69.5M405.5 489.5h69.5M405.5 496.5h69.5M405.5 498.5h69.5M405.5 499.5h69.5M405.5 500.5h69.5M405.5 509.5h69.5M405.5 556.5h69.5M475 438.5h70M475 450.5h70M475 456.5h70M475 541.5h70M475 544.5h70"/>
</g>
<path d="M108.9 569H63.3V776H111.5" fill="none" stroke="#555" stroke-width="1"/>
<path d="M123.4 410L122 520L120.6 562L121.5 575L122.3 640L120.6 720L119 783.7H125V410Z" fill="#000"/>
<path d="M124 410.5H117.2V500L118.6 545L120.8 566" fill="none" stroke="#000" stroke-width="0.8"/>
<path d="M118.6 412L119.6 500L121.2 560M120 412L121.4 520" fill="none" stroke="#333" stroke-width="0.6"/>
<path d="M121 574L119.6 640L117.2 700L114.6 745L111.4 776V783.7H120L121.5 700Z" fill="#8c8c8c" stroke="#222" stroke-width="0.7"/>
<path d="M120.4 600L118 700L115.4 760L113.2 783M121 640L119 730L117 783" fill="none" stroke="#222" stroke-width="0.6"/>
<path d="M109 566.6H111.6V571.4H109ZM111.6 569H116.5" fill="none" stroke="#333" stroke-width="0.8"/>
<path d="M116.3 563.5h5v4h-1.5v8h-2v-6h-1.5z" fill="#fff" stroke="#222" stroke-width="0.7"/>
<text x="37.8" y="352.3" font-size="25.3" transform="rotate(90 37.8 352.3)" textLength="204.5" lengthAdjust="spacingAndGlyphs">1,738 down-regulated</text>
<text x="37.9" y="605.4" font-size="25.3" transform="rotate(90 37.9 605.4)" textLength="176.9" lengthAdjust="spacingAndGlyphs">2,268 up-regulated</text>
<text x="239" y="807.5" font-size="17.7" text-anchor="middle">siRNA group</text>
<text x="432" y="807.5" font-size="17.7" text-anchor="middle">Control group</text>
</g>
<g>
<line x1="644.6" y1="383" x2="644.6" y2="783" stroke="#cccccc" stroke-width="1.3"/>
<line x1="775.4" y1="383" x2="775.4" y2="783" stroke="#cccccc" stroke-width="1.3"/>
<line x1="905.4" y1="383" x2="905.4" y2="783" stroke="#cccccc" stroke-width="1.3"/>
<line x1="1035.2" y1="383" x2="1035.2" y2="783" stroke="#cccccc" stroke-width="1.3"/>
<line x1="1165.4" y1="383" x2="1165.4" y2="783" stroke="#cccccc" stroke-width="1.3"/>
<line x1="1297.2" y1="383" x2="1297.2" y2="783" stroke="#cccccc" stroke-width="1.3"/>
<line x1="644.6" y1="383.2" x2="1297.2" y2="383.2" stroke="#cccccc" stroke-width="1.3"/>
<line x1="644.6" y1="462.7" x2="1297.2" y2="462.7" stroke="#cccccc" stroke-width="1.3"/>
<line x1="644.6" y1="541.9" x2="1297.2" y2="541.9" stroke="#cccccc" stroke-width="1.3"/>
<line x1="644.6" y1="621.4" x2="1297.2" y2="621.4" stroke="#cccccc" stroke-width="1.3"/>
<line x1="644.6" y1="700.8" x2="1297.2" y2="700.8" stroke="#cccccc" stroke-width="1.3"/>
<path d="M970.4 782.5L959.9 742.2L952.6 705.6L947.7 668.9L944.4 663.5L931 663.5L935.4 668.9L942.4 694.5L948.4 720.5L956.4 746.5L970.4 782.5Z" fill="#87cefa" stroke="#87cefa" stroke-width="2.5" stroke-linejoin="round"/>
<path d="M944.4 663.5L944 662.8L935.5 632.3L928.1 610.3L911 583.5L898.8 566.3L884.2 544.3L872 527.2L866.8 520.5L857.2 534.5L866.4 556.5L879.4 573.5L891.4 595.5L903.4 610.5L915.4 632.5L925.4 656.5L931 663.5Z" fill="#ff7f50" stroke="#ff7f50" stroke-width="2.5" stroke-linejoin="round"/>
<path d="M970.4 782.5L981.9 742.2L989.2 705.6L995.3 668.9L998.7 656.5L1011.1 656.5L1005.4 676.5L999.4 698.5L993.4 722.5L985.4 746.5L970.4 782.5Z" fill="#87cefa" stroke="#87cefa" stroke-width="2.5" stroke-linejoin="round"/>
<path d="M998.7 656.5L999 655.5L1006.3 627.4L1016.1 605.4L1033.2 576.1L1052.7 549.2L1069.8 524.8L1086.9 505.3L1103 490.5L1108 510.5L1103.4 516.5L1089.4 532.5L1075.4 550.5L1063.4 568.5L1051.4 586.5L1039.4 604.5L1027.4 619.5L1020.4 636.5L1011.4 655.5L1011.1 656.5Z" fill="#ff7f50" stroke="#ff7f50" stroke-width="2.5" stroke-linejoin="round"/>
<path fill="#ff7f50" d="M895.2 601.4h4.8v4.8h-4.8zM835.2 513.9h4.8v4.8h-4.8zM874.5 569.4h4.8v4.8h-4.8zM918.6 644.5h4.8v4.8h-4.8zM838.6 513.6h4.8v4.8h-4.8zM918.5 643.6h4.8v4.8h-4.8zM898.8 614.8h4.8v4.8h-4.8zM845 521h4.8v4.8h-4.8zM864.7 562.3h4.8v4.8h-4.8zM896.6 602.9h4.8v4.8h-4.8zM855.1 533.3h4.8v4.8h-4.8zM837.2 533.1h4.8v4.8h-4.8zM883.7 586.4h4.8v4.8h-4.8zM841.1 507.3h4.8v4.8h-4.8zM851 527.2h4.8v4.8h-4.8zM898.4 606.8h4.8v4.8h-4.8zM856.1 547.8h4.8v4.8h-4.8zM916.8 640.2h4.8v4.8h-4.8zM867.4 579h4.8v4.8h-4.8zM873 566.7h4.8v4.8h-4.8zM864.7 556.3h4.8v4.8h-4.8zM871.3 565h4.8v4.8h-4.8zM843 517.4h4.8v4.8h-4.8zM911.7 628.3h4.8v4.8h-4.8zM871.2 567h4.8v4.8h-4.8zM862.8 553.7h4.8v4.8h-4.8zM845.7 513h4.8v4.8h-4.8zM842.4 520.5h4.8v4.8h-4.8zM880.4 583.3h4.8v4.8h-4.8zM836 501.7h4.8v4.8h-4.8zM899.2 609.4h4.8v4.8h-4.8zM921.3 656.5h4.8v4.8h-4.8zM915.3 636.9h4.8v4.8h-4.8zM852.2 542.4h4.8v4.8h-4.8zM838.4 511.9h4.8v4.8h-4.8zM893.5 599.4h4.8v4.8h-4.8zM920.8 653h4.8v4.8h-4.8zM917.7 647.9h4.8v4.8h-4.8zM830.2 498.3h4.8v4.8h-4.8zM911.8 647.8h4.8v4.8h-4.8zM915.8 638.3h4.8v4.8h-4.8zM837.5 501.3h4.8v4.8h-4.8zM839.9 509.1h4.8v4.8h-4.8zM844.6 534.4h4.8v4.8h-4.8zM873.7 581.8h4.8v4.8h-4.8zM887.1 590.2h4.8v4.8h-4.8zM876.2 579.1h4.8v4.8h-4.8zM882.6 582.8h4.8v4.8h-4.8zM901.4 613h4.8v4.8h-4.8zM885.1 588.1h4.8v4.8h-4.8zM917 645.3h4.8v4.8h-4.8zM855.8 553.6h4.8v4.8h-4.8zM852.3 545.2h4.8v4.8h-4.8zM874.7 583.5h4.8v4.8h-4.8zM835.9 504.6h4.8v4.8h-4.8zM909.9 627.1h4.8v4.8h-4.8zM909.5 641.3h4.8v4.8h-4.8zM881.6 582.6h4.8v4.8h-4.8zM859.5 558.3h4.8v4.8h-4.8zM922.5 656.8h4.8v4.8h-4.8zM894.4 601.2h4.8v4.8h-4.8zM871.1 574.7h4.8v4.8h-4.8zM885 594h4.8v4.8h-4.8zM918.1 642.9h4.8v4.8h-4.8zM915 644.6h4.8v4.8h-4.8zM897.8 610.4h4.8v4.8h-4.8zM858.3 544.3h4.8v4.8h-4.8zM905.8 622.7h4.8v4.8h-4.8zM838 509.5h4.8v4.8h-4.8zM851.5 547.8h4.8v4.8h-4.8zM886.9 596.1h4.8v4.8h-4.8zM901.3 617.6h4.8v4.8h-4.8zM836.5 509.8h4.8v4.8h-4.8zM849.7 527.3h4.8v4.8h-4.8zM905.9 617.1h4.8v4.8h-4.8zM893 603.5h4.8v4.8h-4.8zM845.9 527.9h4.8v4.8h-4.8zM831.3 505.6h4.8v4.8h-4.8zM838.9 521.7h4.8v4.8h-4.8zM900.6 608.8h4.8v4.8h-4.8zM903.7 636.1h4.8v4.8h-4.8zM921.9 658.3h4.8v4.8h-4.8zM905.1 637.4h4.8v4.8h-4.8zM895.6 601.8h4.8v4.8h-4.8zM919.7 650.6h4.8v4.8h-4.8zM850 545.6h4.8v4.8h-4.8zM847.2 515.8h4.8v4.8h-4.8zM866.7 557.9h4.8v4.8h-4.8zM840.4 501.2h4.8v4.8h-4.8zM912.6 642.1h4.8v4.8h-4.8zM884.2 595.4h4.8v4.8h-4.8zM869.1 563.8h4.8v4.8h-4.8zM873.3 568h4.8v4.8h-4.8zM913 647.3h4.8v4.8h-4.8zM904.2 622.6h4.8v4.8h-4.8zM899.6 614.4h4.8v4.8h-4.8zM876.6 578.1h4.8v4.8h-4.8zM845.2 522.3h4.8v4.8h-4.8zM857.3 543h4.8v4.8h-4.8zM878.8 581.8h4.8v4.8h-4.8zM865.1 558.2h4.8v4.8h-4.8zM846.2 522.6h4.8v4.8h-4.8zM904.4 621.6h4.8v4.8h-4.8zM914.2 635.7h4.8v4.8h-4.8zM900.5 611.6h4.8v4.8h-4.8zM858.1 549.7h4.8v4.8h-4.8zM859.4 547.5h4.8v4.8h-4.8zM864.1 555.2h4.8v4.8h-4.8zM877.6 574.1h4.8v4.8h-4.8zM832.9 503.9h4.8v4.8h-4.8zM857 541.4h4.8v4.8h-4.8zM836.6 511.2h4.8v4.8h-4.8zM877.1 576.9h4.8v4.8h-4.8zM846 520.6h4.8v4.8h-4.8zM893.5 601.6h4.8v4.8h-4.8zM872.5 568.7h4.8v4.8h-4.8zM849.9 531.4h4.8v4.8h-4.8zM889.2 607.6h4.8v4.8h-4.8zM891.1 599.1h4.8v4.8h-4.8zM909.8 633.5h4.8v4.8h-4.8zM892.7 602h4.8v4.8h-4.8zM872 566.4h4.8v4.8h-4.8zM911 630.4h4.8v4.8h-4.8zM872.5 570.2h4.8v4.8h-4.8zM881.4 592.6h4.8v4.8h-4.8zM901 609.4h4.8v4.8h-4.8zM908.9 640.5h4.8v4.8h-4.8zM877 573.4h4.8v4.8h-4.8zM874.2 585.5h4.8v4.8h-4.8zM877.9 589.9h4.8v4.8h-4.8zM855.6 547.3h4.8v4.8h-4.8zM1014 652.5h4.8v4.8h-4.8zM1065.6 571.3h4.8v4.8h-4.8zM1105.5 522.7h4.8v4.8h-4.8zM1033.1 611.7h4.8v4.8h-4.8zM1053.9 588.4h4.8v4.8h-4.8zM1013.6 649.5h4.8v4.8h-4.8zM1126.9 496.4h4.8v4.8h-4.8zM1025.9 626.3h4.8v4.8h-4.8zM1019.2 639.2h4.8v4.8h-4.8zM1022.7 627.8h4.8v4.8h-4.8zM1123.4 485.5h4.8v4.8h-4.8zM1066.3 563.2h4.8v4.8h-4.8zM1023.5 625.9h4.8v4.8h-4.8zM1062.8 564.8h4.8v4.8h-4.8zM1015.2 647.8h4.8v4.8h-4.8zM1022.4 627h4.8v4.8h-4.8zM1081.8 549.5h4.8v4.8h-4.8zM1138.4 480.6h4.8v4.8h-4.8zM1071 571.9h4.8v4.8h-4.8zM1043 602.1h4.8v4.8h-4.8zM1028.1 619.8h4.8v4.8h-4.8zM1131.2 482h4.8v4.8h-4.8zM1013.8 648.9h4.8v4.8h-4.8zM1013.6 645.8h4.8v4.8h-4.8zM1135.4 470.9h4.8v4.8h-4.8zM1033 607.4h4.8v4.8h-4.8zM1037.6 604.1h4.8v4.8h-4.8zM1134.5 486.5h4.8v4.8h-4.8zM1043.2 595h4.8v4.8h-4.8zM1128.9 489.1h4.8v4.8h-4.8zM1087.6 532.7h4.8v4.8h-4.8zM1098.9 518.1h4.8v4.8h-4.8zM1045.7 593.2h4.8v4.8h-4.8zM1017.1 641.7h4.8v4.8h-4.8zM1046.3 599.7h4.8v4.8h-4.8zM1123.3 494.3h4.8v4.8h-4.8zM1049.6 593.9h4.8v4.8h-4.8zM1020.1 635h4.8v4.8h-4.8zM1140.8 476.1h4.8v4.8h-4.8zM1075.8 546.4h4.8v4.8h-4.8zM1100.6 520.4h4.8v4.8h-4.8zM1084.4 535.3h4.8v4.8h-4.8zM1141 477.8h4.8v4.8h-4.8zM1050.8 582.4h4.8v4.8h-4.8zM1100.3 515.8h4.8v4.8h-4.8zM1080.3 546.8h4.8v4.8h-4.8zM1083.8 552.2h4.8v4.8h-4.8zM1096 525.7h4.8v4.8h-4.8zM1028.8 629.2h4.8v4.8h-4.8zM1023 637.5h4.8v4.8h-4.8zM1130.7 481.8h4.8v4.8h-4.8zM1039.5 607h4.8v4.8h-4.8zM1098.1 519.7h4.8v4.8h-4.8zM1137.6 468.9h4.8v4.8h-4.8zM1116.7 498.7h4.8v4.8h-4.8zM1011 650.4h4.8v4.8h-4.8zM1045.1 597.7h4.8v4.8h-4.8zM1122.7 511.6h4.8v4.8h-4.8zM1110.5 508.7h4.8v4.8h-4.8zM1102.8 514.3h4.8v4.8h-4.8zM1096 525h4.8v4.8h-4.8zM1118 504.5h4.8v4.8h-4.8zM1054.1 578.9h4.8v4.8h-4.8zM1030.5 613.5h4.8v4.8h-4.8zM1011 651.5h4.8v4.8h-4.8zM1023.2 624.5h4.8v4.8h-4.8zM1145.1 467.6h4.8v4.8h-4.8zM1105.7 519.3h4.8v4.8h-4.8zM1066.3 564.3h4.8v4.8h-4.8zM1035.5 605.7h4.8v4.8h-4.8zM1051.1 588.1h4.8v4.8h-4.8zM1068.8 561.5h4.8v4.8h-4.8zM1088.6 536.6h4.8v4.8h-4.8zM1076.2 550.6h4.8v4.8h-4.8zM1080.8 550.1h4.8v4.8h-4.8zM1066.4 564.4h4.8v4.8h-4.8zM1140.4 475.5h4.8v4.8h-4.8zM1108.8 512.2h4.8v4.8h-4.8zM1080.2 543.1h4.8v4.8h-4.8zM1031.2 611.9h4.8v4.8h-4.8zM1117.7 494.3h4.8v4.8h-4.8zM1049.2 603.5h4.8v4.8h-4.8zM1014.3 650.1h4.8v4.8h-4.8zM1068.7 569.6h4.8v4.8h-4.8zM1057.5 581.9h4.8v4.8h-4.8zM1014 652.2h4.8v4.8h-4.8zM1042.9 600.5h4.8v4.8h-4.8zM1080.4 550.4h4.8v4.8h-4.8zM1126.8 493.9h4.8v4.8h-4.8zM1117.6 499.7h4.8v4.8h-4.8zM1080 546.4h4.8v4.8h-4.8zM1034.7 608.2h4.8v4.8h-4.8zM1120.3 491.6h4.8v4.8h-4.8zM1052.9 584.4h4.8v4.8h-4.8zM1134.1 472.5h4.8v4.8h-4.8zM1042.5 597.7h4.8v4.8h-4.8zM1051.4 587.8h4.8v4.8h-4.8zM1082.1 546.1h4.8v4.8h-4.8zM1132.4 475.4h4.8v4.8h-4.8zM1132.5 484.8h4.8v4.8h-4.8zM1030.1 624.3h4.8v4.8h-4.8zM1083.6 537.1h4.8v4.8h-4.8zM1080.9 543.9h4.8v4.8h-4.8zM1081.1 551h4.8v4.8h-4.8zM1133.2 485.6h4.8v4.8h-4.8zM1135.9 472.9h4.8v4.8h-4.8zM1080.3 541.8h4.8v4.8h-4.8zM1068.2 560.1h4.8v4.8h-4.8zM1035.2 618.5h4.8v4.8h-4.8zM1082.9 536.6h4.8v4.8h-4.8zM1026.8 623.6h4.8v4.8h-4.8zM1131.4 487.4h4.8v4.8h-4.8zM1074.5 556.1h4.8v4.8h-4.8zM1094.2 527.5h4.8v4.8h-4.8zM1107 509.2h4.8v4.8h-4.8zM1014.6 641.7h4.8v4.8h-4.8zM1037.3 604.3h4.8v4.8h-4.8zM1010.9 652.4h4.8v4.8h-4.8zM857.1 507.5h4.8v4.8h-4.8zM853.8 510h4.8v4.8h-4.8zM873.1 536h4.8v4.8h-4.8zM862.8 524.6h4.8v4.8h-4.8zM868.1 522.2h4.8v4.8h-4.8zM852.7 532.6h4.8v4.8h-4.8zM861.2 525.2h4.8v4.8h-4.8zM871.9 535.3h4.8v4.8h-4.8zM843.2 499h4.8v4.8h-4.8zM868.4 522.6h4.8v4.8h-4.8zM855.2 527.1h4.8v4.8h-4.8zM858.6 525.6h4.8v4.8h-4.8zM845.4 502.2h4.8v4.8h-4.8zM864.1 516.7h4.8v4.8h-4.8zM859.4 536h4.8v4.8h-4.8zM852.6 526.4h4.8v4.8h-4.8zM844.4 506.7h4.8v4.8h-4.8zM850.2 527.6h4.8v4.8h-4.8zM846 510.5h4.8v4.8h-4.8zM858.3 534.2h4.8v4.8h-4.8zM850.3 526h4.8v4.8h-4.8zM843.7 496.5h4.8v4.8h-4.8zM866.2 526.1h4.8v4.8h-4.8zM864.6 524.2h4.8v4.8h-4.8zM861.3 515.2h4.8v4.8h-4.8zM866.3 533.8h4.8v4.8h-4.8zM869.3 535.5h4.8v4.8h-4.8zM843.4 502.5h4.8v4.8h-4.8zM877.1 533.1h4.8v4.8h-4.8zM843.7 506.5h4.8v4.8h-4.8zM863.6 518.5h4.8v4.8h-4.8zM853.8 532.1h4.8v4.8h-4.8zM847.9 500h4.8v4.8h-4.8zM866.9 533.4h4.8v4.8h-4.8zM857.6 531.3h4.8v4.8h-4.8zM855.5 527.8h4.8v4.8h-4.8zM865 534.1h4.8v4.8h-4.8zM842.6 497.7h4.8v4.8h-4.8zM876.2 535.3h4.8v4.8h-4.8zM857.6 516.3h4.8v4.8h-4.8zM862.6 528h4.8v4.8h-4.8zM848 519.3h4.8v4.8h-4.8zM862.6 532h4.8v4.8h-4.8zM862.8 531.4h4.8v4.8h-4.8zM858.6 511.8h4.8v4.8h-4.8zM855.2 523.7h4.8v4.8h-4.8zM859.4 536.1h4.8v4.8h-4.8zM860.9 526.2h4.8v4.8h-4.8zM850.8 517.9h4.8v4.8h-4.8zM866.3 535.7h4.8v4.8h-4.8zM869.5 535.9h4.8v4.8h-4.8zM873.8 528.8h4.8v4.8h-4.8zM864.6 530.3h4.8v4.8h-4.8zM847.5 515.8h4.8v4.8h-4.8zM861.3 527.9h4.8v4.8h-4.8zM846.1 512.8h4.8v4.8h-4.8zM841.8 499.3h4.8v4.8h-4.8zM871.4 530.2h4.8v4.8h-4.8zM848 500.4h4.8v4.8h-4.8zM855.2 525h4.8v4.8h-4.8zM1103.4 493.3h4.8v4.8h-4.8zM1133.1 466.2h4.8v4.8h-4.8zM1116.7 492h4.8v4.8h-4.8zM1087.1 509.9h4.8v4.8h-4.8zM1106.6 495.3h4.8v4.8h-4.8zM1092.1 507.9h4.8v4.8h-4.8zM1077.2 511.5h4.8v4.8h-4.8zM1086.7 502.8h4.8v4.8h-4.8zM1138.1 462.8h4.8v4.8h-4.8zM1104.6 505.5h4.8v4.8h-4.8zM1114.4 479.9h4.8v4.8h-4.8zM1128.4 473.6h4.8v4.8h-4.8zM1103.7 500.6h4.8v4.8h-4.8zM1087.1 506.6h4.8v4.8h-4.8zM1129.5 470h4.8v4.8h-4.8zM1128.4 468.4h4.8v4.8h-4.8zM1077.4 509.9h4.8v4.8h-4.8zM1120.6 480h4.8v4.8h-4.8zM1075.3 512.1h4.8v4.8h-4.8zM1125.8 473.9h4.8v4.8h-4.8zM1123.6 470.4h4.8v4.8h-4.8zM1099.7 489.8h4.8v4.8h-4.8zM1120.4 481.3h4.8v4.8h-4.8zM1103.9 488.4h4.8v4.8h-4.8zM1134.7 464.3h4.8v4.8h-4.8zM1096.7 511.5h4.8v4.8h-4.8zM1077 510.9h4.8v4.8h-4.8zM1107.4 497.1h4.8v4.8h-4.8zM1134.5 468.8h4.8v4.8h-4.8zM1095.4 511.4h4.8v4.8h-4.8zM1121.8 472.5h4.8v4.8h-4.8zM1115.5 479h4.8v4.8h-4.8zM1080.5 504.6h4.8v4.8h-4.8zM1121.1 478.7h4.8v4.8h-4.8zM1132.3 468h4.8v4.8h-4.8zM1083.2 509.5h4.8v4.8h-4.8zM1109.4 505.9h4.8v4.8h-4.8zM1080.3 508h4.8v4.8h-4.8zM1085.1 502.3h4.8v4.8h-4.8zM1105.1 498.9h4.8v4.8h-4.8zM1105.3 486h4.8v4.8h-4.8zM1091.7 509.9h4.8v4.8h-4.8zM1114.3 483.6h4.8v4.8h-4.8zM1119.9 490.8h4.8v4.8h-4.8zM1084.6 509.7h4.8v4.8h-4.8zM1105.7 495.3h4.8v4.8h-4.8zM1133.2 468.2h4.8v4.8h-4.8zM1112.1 485.2h4.8v4.8h-4.8zM1129 476.9h4.8v4.8h-4.8zM1083.7 504.8h4.8v4.8h-4.8zM1090.5 506.1h4.8v4.8h-4.8zM1128.5 469h4.8v4.8h-4.8zM1115.7 487.3h4.8v4.8h-4.8zM1135.7 463.7h4.8v4.8h-4.8zM1118.5 477.9h4.8v4.8h-4.8zM1095.6 510.7h4.8v4.8h-4.8zM1128.9 472.4h4.8v4.8h-4.8zM1105.9 511.7h4.8v4.8h-4.8zM1103.8 500.8h4.8v4.8h-4.8zM1112.9 481.1h4.8v4.8h-4.8zM1095.5 499.7h4.8v4.8h-4.8zM1077 510.9h4.8v4.8h-4.8zM1115.6 481.6h4.8v4.8h-4.8zM1123.7 470.5h4.8v4.8h-4.8zM1086.3 504.5h4.8v4.8h-4.8zM1139.1 464.7h4.8v4.8h-4.8zM1132.2 468.5h4.8v4.8h-4.8zM1088.6 510.7h4.8v4.8h-4.8zM1079 507.3h4.8v4.8h-4.8zM1102.8 491.2h4.8v4.8h-4.8zM1091.7 510.6h4.8v4.8h-4.8zM1139.7 465.5h4.8v4.8h-4.8zM1091.8 496.8h4.8v4.8h-4.8zM1114 478h4.8v4.8h-4.8zM1095.5 492.8h4.8v4.8h-4.8zM1141.1 461.2h4.8v4.8h-4.8zM1095.2 498.2h4.8v4.8h-4.8zM1120.6 492.1h4.8v4.8h-4.8zM1092.9 498.7h4.8v4.8h-4.8zM1117.5 494.1h4.8v4.8h-4.8zM1103.6 501h4.8v4.8h-4.8zM1132.7 466.7h4.8v4.8h-4.8zM1125.4 474.9h4.8v4.8h-4.8zM1077.5 509.9h4.8v4.8h-4.8zM1136.2 465.1h4.8v4.8h-4.8zM754.7 451.8h4.8v4.8h-4.8zM788.2 454.5h4.8v4.8h-4.8zM784.7 471.4h4.8v4.8h-4.8zM818.9 477h4.8v4.8h-4.8zM810.9 483.8h4.8v4.8h-4.8zM813.8 486h4.8v4.8h-4.8zM820.9 497h4.8v4.8h-4.8zM815.8 508.2h4.8v4.8h-4.8zM824.8 526.3h4.8v4.8h-4.8zM818.7 543.9h4.8v4.8h-4.8zM844.1 538h4.8v4.8h-4.8zM850.4 541.2h4.8v4.8h-4.8zM865.1 577.9h4.8v4.8h-4.8zM879.8 591.5h4.8v4.8h-4.8zM888.6 597.4h4.8v4.8h-4.8zM891 602.3h4.8v4.8h-4.8zM894.2 618.7h4.8v4.8h-4.8zM908.6 626h4.8v4.8h-4.8zM830.4 495.3h4.8v4.8h-4.8zM834.1 500.2h4.8v4.8h-4.8zM841.4 499h4.8v4.8h-4.8zM854.8 503.9h4.8v4.8h-4.8zM837.7 517.3h4.8v4.8h-4.8zM846.3 512.4h4.8v4.8h-4.8zM1176.7 436.2h4.8v4.8h-4.8zM1162 444.5h4.8v4.8h-4.8zM1175 453.2h4.8v4.8h-4.8zM1180.6 468.4h4.8v4.8h-4.8zM1163.7 458.4h4.8v4.8h-4.8zM1156.7 455.3h4.8v4.8h-4.8zM1150.7 449.9h4.8v4.8h-4.8zM1149.6 458.4h4.8v4.8h-4.8zM1193 447.1h4.8v4.8h-4.8zM1201.7 442.1h4.8v4.8h-4.8zM1205.4 440.8h4.8v4.8h-4.8zM1229.5 434.5h4.8v4.8h-4.8zM1229.5 439.5h4.8v4.8h-4.8zM1233.6 428.8h4.8v4.8h-4.8zM1248.8 431.2h4.8v4.8h-4.8zM1291.1 422.1h4.8v4.8h-4.8zM1294 425.4h4.8v4.8h-4.8zM1122.9 465.1h4.8v4.8h-4.8zM1115.9 472.5h4.8v4.8h-4.8zM1135.5 463.4h4.8v4.8h-4.8zM1130 471h4.8v4.8h-4.8zM1122.9 478.6h4.8v4.8h-4.8zM1135.5 476.8h4.8v4.8h-4.8zM1144.1 471.4h4.8v4.8h-4.8zM1144.6 477.5h4.8v4.8h-4.8zM1129 485.5h4.8v4.8h-4.8zM1127.9 492h4.8v4.8h-4.8zM1117 490.1h4.8v4.8h-4.8zM1112 500.7h4.8v4.8h-4.8zM1108.3 503.5h4.8v4.8h-4.8zM1101.8 512.6h4.8v4.8h-4.8zM1098.6 515.5h4.8v4.8h-4.8zM1110.5 513.9h4.8v4.8h-4.8zM1087.7 532.2h4.8v4.8h-4.8zM1076.8 538.7h4.8v4.8h-4.8zM1069.2 549.1h4.8v4.8h-4.8zM1068.2 558.2h4.8v4.8h-4.8zM1062.7 566.5h4.8v4.8h-4.8zM1059.5 573h4.8v4.8h-4.8zM1050.8 581.7h4.8v4.8h-4.8zM1049.7 588.2h4.8v4.8h-4.8zM1039.9 606h4.8v4.8h-4.8zM1047.5 605.6h4.8v4.8h-4.8zM1034.9 626.2h4.8v4.8h-4.8zM1020.4 640.3h4.8v4.8h-4.8zM1021.5 633.8h4.8v4.8h-4.8zM1104 481.4h4.8v4.8h-4.8zM1088.8 492.2h4.8v4.8h-4.8zM1096.4 488.8h4.8v4.8h-4.8z"/>
<g fill="#87cefa"><circle cx="952.7" cy="743.5" r="2.5"/><circle cx="965.6" cy="770.9" r="2.5"/><circle cx="950.9" cy="736.5" r="2.5"/><circle cx="946.6" cy="717.1" r="2.5"/><circle cx="940.6" cy="695.2" r="2.5"/><circle cx="945.6" cy="718.4" r="2.5"/><circle cx="949.6" cy="729" r="2.5"/><circle cx="951.5" cy="734.6" r="2.5"/><circle cx="966.3" cy="773.6" r="2.5"/><circle cx="939.7" cy="689.6" r="2.5"/><circle cx="963.3" cy="768.2" r="2.5"/><circle cx="936.6" cy="674.2" r="2.5"/><circle cx="962.2" cy="761.7" r="2.5"/><circle cx="948.7" cy="724.9" r="2.5"/><circle cx="937.2" cy="677.3" r="2.5"/><circle cx="956.4" cy="749.5" r="2.5"/><circle cx="937" cy="681.4" r="2.5"/><circle cx="939.9" cy="688.9" r="2.5"/><circle cx="940.3" cy="687.7" r="2.5"/><circle cx="951.9" cy="733.7" r="2.5"/><circle cx="962.1" cy="761.2" r="2.5"/><circle cx="945.5" cy="709.5" r="2.5"/><circle cx="961" cy="759.2" r="2.5"/><circle cx="951.7" cy="733.6" r="2.5"/><circle cx="940.6" cy="694.8" r="2.5"/><circle cx="937.6" cy="681.8" r="2.5"/><circle cx="957.4" cy="750.1" r="2.5"/><circle cx="936.6" cy="675.5" r="2.5"/><circle cx="940.4" cy="697.5" r="2.5"/><circle cx="940.1" cy="694" r="2.5"/><circle cx="964.9" cy="771.3" r="2.5"/><circle cx="936.6" cy="679.2" r="2.5"/><circle cx="936.3" cy="678.6" r="2.5"/><circle cx="949.1" cy="729" r="2.5"/><circle cx="948" cy="727.4" r="2.5"/><circle cx="963.4" cy="766.9" r="2.5"/><circle cx="946.1" cy="714.5" r="2.5"/><circle cx="960.7" cy="763" r="2.5"/><circle cx="953.2" cy="737.9" r="2.5"/><circle cx="940.1" cy="687.5" r="2.5"/><circle cx="962.5" cy="764.7" r="2.5"/><circle cx="945.8" cy="709.3" r="2.5"/><circle cx="942.6" cy="698.2" r="2.5"/><circle cx="934.1" cy="672.1" r="2.5"/><circle cx="956.7" cy="748.5" r="2.5"/><circle cx="935.2" cy="673.3" r="2.5"/><circle cx="937.5" cy="678.3" r="2.5"/><circle cx="935.1" cy="671.5" r="2.5"/><circle cx="942" cy="694.6" r="2.5"/><circle cx="941.9" cy="696" r="2.5"/><circle cx="964.6" cy="770.9" r="2.5"/><circle cx="950.7" cy="732.1" r="2.5"/><circle cx="953.4" cy="742.1" r="2.5"/><circle cx="937.2" cy="682.4" r="2.5"/><circle cx="940.3" cy="693.2" r="2.5"/><circle cx="936.9" cy="675.6" r="2.5"/><circle cx="944.7" cy="705.3" r="2.5"/><circle cx="965.4" cy="770.5" r="2.5"/><circle cx="933" cy="668.9" r="2.5"/><circle cx="946.5" cy="720.7" r="2.5"/><circle cx="941.8" cy="693.3" r="2.5"/><circle cx="962.1" cy="761.1" r="2.5"/><circle cx="951.1" cy="733.5" r="2.5"/><circle cx="950.4" cy="730.3" r="2.5"/><circle cx="935.7" cy="670.6" r="2.5"/><circle cx="957.7" cy="754.8" r="2.5"/><circle cx="939.4" cy="688.3" r="2.5"/><circle cx="936" cy="672" r="2.5"/><circle cx="961.1" cy="759.2" r="2.5"/><circle cx="943.1" cy="702.4" r="2.5"/><circle cx="935.6" cy="672.8" r="2.5"/><circle cx="957.9" cy="751.1" r="2.5"/><circle cx="953.9" cy="740.3" r="2.5"/><circle cx="939.9" cy="685.9" r="2.5"/><circle cx="959.3" cy="759.8" r="2.5"/><circle cx="943.6" cy="713.4" r="2.5"/><circle cx="936" cy="677.4" r="2.5"/><circle cx="999.7" cy="701.6" r="2.5"/><circle cx="1010.2" cy="666.4" r="2.5"/><circle cx="987.1" cy="744.4" r="2.5"/><circle cx="979.1" cy="762.3" r="2.5"/><circle cx="974.1" cy="774.4" r="2.5"/><circle cx="993" cy="725.2" r="2.5"/><circle cx="994" cy="727.3" r="2.5"/><circle cx="1000.3" cy="695.7" r="2.5"/><circle cx="1003.9" cy="685.5" r="2.5"/><circle cx="999" cy="701.6" r="2.5"/><circle cx="1015.3" cy="660.1" r="2.5"/><circle cx="1004.5" cy="684.3" r="2.5"/><circle cx="995.2" cy="723.9" r="2.5"/><circle cx="997.1" cy="712.2" r="2.5"/><circle cx="984" cy="750.3" r="2.5"/><circle cx="1005.3" cy="677.8" r="2.5"/><circle cx="993.1" cy="723.9" r="2.5"/><circle cx="976.4" cy="772.6" r="2.5"/><circle cx="981.9" cy="755.6" r="2.5"/><circle cx="981.2" cy="760.6" r="2.5"/><circle cx="1008.5" cy="666" r="2.5"/><circle cx="988.8" cy="745.4" r="2.5"/><circle cx="980.6" cy="758.9" r="2.5"/><circle cx="1005" cy="679.7" r="2.5"/><circle cx="995.9" cy="718.9" r="2.5"/><circle cx="984.9" cy="748.3" r="2.5"/><circle cx="998.8" cy="708" r="2.5"/><circle cx="977.8" cy="769.1" r="2.5"/><circle cx="1007.5" cy="679.1" r="2.5"/><circle cx="998.7" cy="705.1" r="2.5"/><circle cx="988.3" cy="738.6" r="2.5"/><circle cx="985.1" cy="749.1" r="2.5"/><circle cx="1000.8" cy="698.6" r="2.5"/><circle cx="1001.7" cy="698.4" r="2.5"/><circle cx="980.9" cy="759.6" r="2.5"/><circle cx="996.2" cy="712.5" r="2.5"/><circle cx="987.8" cy="744" r="2.5"/><circle cx="994" cy="722" r="2.5"/><circle cx="1001.5" cy="693.1" r="2.5"/><circle cx="983.1" cy="754.8" r="2.5"/><circle cx="980.4" cy="758.8" r="2.5"/><circle cx="991.5" cy="734.2" r="2.5"/><circle cx="1011.2" cy="662.2" r="2.5"/><circle cx="1008.8" cy="672.1" r="2.5"/><circle cx="994.8" cy="721.4" r="2.5"/><circle cx="989.7" cy="737.9" r="2.5"/><circle cx="987.2" cy="742.4" r="2.5"/><circle cx="979.6" cy="764.3" r="2.5"/><circle cx="997.2" cy="712.1" r="2.5"/><circle cx="1001.2" cy="699.6" r="2.5"/><circle cx="1008.6" cy="665.5" r="2.5"/><circle cx="991.9" cy="730.2" r="2.5"/><circle cx="993.6" cy="721.9" r="2.5"/><circle cx="987" cy="743.9" r="2.5"/><circle cx="999.2" cy="712.7" r="2.5"/><circle cx="976.5" cy="771.4" r="2.5"/><circle cx="1006.9" cy="676.2" r="2.5"/><circle cx="984" cy="750.4" r="2.5"/><circle cx="986.3" cy="747.4" r="2.5"/><circle cx="1005.3" cy="689.4" r="2.5"/><circle cx="994.2" cy="719.3" r="2.5"/><circle cx="999.3" cy="708.6" r="2.5"/><circle cx="1004.8" cy="679.8" r="2.5"/><circle cx="995.2" cy="722.6" r="2.5"/><circle cx="999.8" cy="704.9" r="2.5"/><circle cx="984.6" cy="755.1" r="2.5"/><circle cx="988.4" cy="738.7" r="2.5"/><circle cx="995.8" cy="715.5" r="2.5"/><circle cx="984.7" cy="755.5" r="2.5"/><circle cx="1007" cy="675.8" r="2.5"/><circle cx="999.2" cy="703.5" r="2.5"/><circle cx="986.8" cy="743.3" r="2.5"/><circle cx="986.5" cy="745.7" r="2.5"/><circle cx="992.3" cy="727.4" r="2.5"/><circle cx="987.2" cy="742.5" r="2.5"/><circle cx="996.7" cy="710.5" r="2.5"/><circle cx="986.2" cy="748.5" r="2.5"/><circle cx="989.5" cy="738.1" r="2.5"/><circle cx="984" cy="752.1" r="2.5"/><circle cx="989.5" cy="738.3" r="2.5"/><circle cx="1007.9" cy="670" r="2.5"/><circle cx="999.1" cy="700.8" r="2.5"/><circle cx="1002.1" cy="690.5" r="2.5"/><circle cx="990.6" cy="744.7" r="2.5"/><circle cx="1009.2" cy="664.2" r="2.5"/><circle cx="924.9" cy="672.3" r="2.5"/><circle cx="928.6" cy="688.2" r="2.5"/><circle cx="936.6" cy="699.2" r="2.5"/><circle cx="937.1" cy="704.8" r="2.5"/><circle cx="947.6" cy="729.8" r="2.5"/><circle cx="948.1" cy="738.3" r="2.5"/><circle cx="1022.1" cy="654.5" r="2.5"/><circle cx="1013.6" cy="669.9" r="2.5"/><circle cx="1010.6" cy="676" r="2.5"/><circle cx="1006.2" cy="690.7" r="2.5"/><circle cx="1005" cy="699.2" r="2.5"/><circle cx="1002.6" cy="712.7" r="2.5"/><circle cx="997.7" cy="729.8" r="2.5"/><circle cx="991.6" cy="738.3" r="2.5"/><circle cx="989.1" cy="745.6" r="2.5"/></g>
<line x1="970.4" y1="383" x2="970.4" y2="783" stroke="#3a7ab8" stroke-width="2"/>
<line x1="643.5" y1="782.5" x2="1298" y2="782.5" stroke="#2e75b6" stroke-width="2.4"/>
<text x="602.5" y="402.3" font-size="19.3" class="a" fill="#333" textLength="33.1" lengthAdjust="spacingAndGlyphs">4.79</text>
<text x="602.5" y="469.8" font-size="19.3" class="a" fill="#333" textLength="33.1" lengthAdjust="spacingAndGlyphs">3.83</text>
<text x="602.5" y="548.8" font-size="19.3" class="a" fill="#333" textLength="33.1" lengthAdjust="spacingAndGlyphs">2.88</text>
<text x="602.5" y="628.3" font-size="19.3" class="a" fill="#333" textLength="33.1" lengthAdjust="spacingAndGlyphs">1.92</text>
<text x="602.5" y="707.8" font-size="19.3" class="a" fill="#333" textLength="33.1" lengthAdjust="spacingAndGlyphs">0.96</text>
<text x="602.5" y="777.3" font-size="19.3" class="a" fill="#333" textLength="33.1" lengthAdjust="spacingAndGlyphs">0.00</text>
<text x="654" y="811" font-size="19.3" class="a" text-anchor="middle" fill="#333" textLength="38.7" lengthAdjust="spacingAndGlyphs">-2.93</text>
<text x="775.4" y="811" font-size="19.3" class="a" text-anchor="middle" fill="#333" textLength="38.7" lengthAdjust="spacingAndGlyphs">-1.76</text>
<text x="905.4" y="811" font-size="19.3" class="a" text-anchor="middle" fill="#333" textLength="38.7" lengthAdjust="spacingAndGlyphs">-0.59</text>
<text x="1035.2" y="811" font-size="19.3" class="a" text-anchor="middle" fill="#333" textLength="33.1" lengthAdjust="spacingAndGlyphs">0.59</text>
<text x="1165.4" y="811" font-size="19.3" class="a" text-anchor="middle" fill="#333" textLength="33.1" lengthAdjust="spacingAndGlyphs">1.76</text>
<text x="1296" y="811" font-size="19.3" class="a" text-anchor="middle" fill="#333" textLength="33.1" lengthAdjust="spacingAndGlyphs">2.93</text>
<text x="970.5" y="370.5" font-size="20.3" class="a" text-anchor="middle" fill="#4a86b8" textLength="111.6" lengthAdjust="spacingAndGlyphs">-log10(pvalue)</text>
<text x="1330.5" y="800.5" font-size="20.3" class="a" fill="#4a86b8" textLength="142.3" lengthAdjust="spacingAndGlyphs">log2(Fold Change)</text>
</g>
<g>
<rect x="260" y="870.6" width="395.2" height="19.7" fill="#f5177d" stroke="#000" stroke-width="2.9"/>
<line x1="251.5" y1="880.5" x2="260" y2="880.5" stroke="#000" stroke-width="2.7"/>
<text x="29" y="884.5" font-size="17.8">Metabolism pathways</text>
<rect x="260" y="901.2" width="123.1" height="20.3" fill="#f752d4" stroke="#000" stroke-width="2.9"/>
<line x1="251.5" y1="911.3" x2="260" y2="911.3" stroke="#000" stroke-width="2.7"/>
<text x="29" y="914.1" font-size="17.8">Pathways in cancer</text>
<rect x="260" y="932.3" width="115.5" height="19.8" fill="#a80be0" stroke="#000" stroke-width="2.9"/>
<line x1="251.5" y1="942.2" x2="260" y2="942.2" stroke="#000" stroke-width="2.7"/>
<text x="29" y="945.8" font-size="17.8">PI3K-Akt signaling pathway</text>
<rect x="260" y="963.4" width="91.5" height="19.3" fill="#0000ff" stroke="#000" stroke-width="2.9"/>
<line x1="251.5" y1="973" x2="260" y2="973" stroke="#000" stroke-width="2.7"/>
<text x="29" y="977.8" font-size="17.8">Epstein-Barr virus infection</text>
<rect x="260" y="994.1" width="89.5" height="19.7" fill="#0e9ab5" stroke="#000" stroke-width="2.9"/>
<line x1="251.5" y1="1004" x2="260" y2="1004" stroke="#000" stroke-width="2.7"/>
<text x="29" y="1007.5" font-size="17.8">MAPK signaling pathway</text>
<rect x="260" y="1025.2" width="86.9" height="19.3" fill="#07c07a" stroke="#000" stroke-width="2.9"/>
<line x1="251.5" y1="1034.8" x2="260" y2="1034.8" stroke="#000" stroke-width="2.7"/>
<text x="29" y="1033.1" font-size="17.8">Endocytosis</text>
<rect x="260" y="1055.8" width="79.4" height="19.3" fill="#00c400" stroke="#000" stroke-width="2.9"/>
<line x1="251.5" y1="1065.5" x2="260" y2="1065.5" stroke="#000" stroke-width="2.7"/>
<text x="29" y="1060.8" font-size="17.8">Viral carcinogenesis</text>
<rect x="260" y="1086.4" width="77.9" height="19.8" fill="#ffff00" stroke="#000" stroke-width="2.9"/>
<line x1="251.5" y1="1096.3" x2="260" y2="1096.3" stroke="#000" stroke-width="2.7"/>
<text x="29" y="1095.4" font-size="17.8">HTLV-I infection</text>
<rect x="260" y="1117.6" width="74.9" height="19.2" fill="#ff8000" stroke="#000" stroke-width="2.9"/>
<line x1="251.5" y1="1127.2" x2="260" y2="1127.2" stroke="#000" stroke-width="2.7"/>
<text x="29" y="1126" font-size="17.8">Focal adhesion</text>
<rect x="260" y="1148.2" width="69.8" height="19.3" fill="#808080" stroke="#000" stroke-width="2.9"/>
<line x1="251.5" y1="1157.8" x2="260" y2="1157.8" stroke="#000" stroke-width="2.7"/>
<text x="29" y="1162.1" font-size="17.8">Ubiquitin mediated proteolysis</text>
<line x1="259.8" y1="864" x2="259.8" y2="1174.8" stroke="#000" stroke-width="3"/>
<line x1="258.3" y1="1173.2" x2="714.3" y2="1173.2" stroke="#000" stroke-width="3.3"/>
<line x1="259.8" y1="1173.2" x2="259.8" y2="1182" stroke="#000" stroke-width="2.7"/>
<line x1="410.5" y1="1173.2" x2="410.5" y2="1182" stroke="#000" stroke-width="2.7"/>
<line x1="561.3" y1="1173.2" x2="561.3" y2="1182" stroke="#000" stroke-width="2.7"/>
<line x1="713" y1="1173.2" x2="713" y2="1182" stroke="#000" stroke-width="2.7"/>
<text x="407.6" y="1204" font-size="17.8" text-anchor="middle">100</text>
<text x="560" y="1204" font-size="17.8" text-anchor="middle">200</text>
<text x="707" y="1204" font-size="17.8" text-anchor="middle">300</text>
<text x="479.4" y="1229" font-size="17.8" text-anchor="middle">Number of genes</text>
</g>
<g>
<line x1="806.6" y1="868.8" x2="806.6" y2="1180.5" stroke="#000" stroke-width="2.6"/>
<line x1="805.3" y1="1179.2" x2="1442" y2="1179.2" stroke="#000" stroke-width="2.6"/>
<line x1="798" y1="869.9" x2="806.6" y2="869.9" stroke="#000" stroke-width="2.4"/>
<text x="795" y="877.5" font-size="21.5" class="a" font-weight="bold" text-anchor="end" textLength="29.5" lengthAdjust="spacingAndGlyphs">2.5</text>
<line x1="798" y1="932.9" x2="806.6" y2="932.9" stroke="#000" stroke-width="2.4"/>
<text x="795" y="940.5" font-size="21.5" class="a" font-weight="bold" text-anchor="end" textLength="29.5" lengthAdjust="spacingAndGlyphs">2.0</text>
<line x1="798" y1="994.9" x2="806.6" y2="994.9" stroke="#000" stroke-width="2.4"/>
<text x="795" y="1002.5" font-size="21.5" class="a" font-weight="bold" text-anchor="end" textLength="29.5" lengthAdjust="spacingAndGlyphs">1.5</text>
<line x1="798" y1="1056.8" x2="806.6" y2="1056.8" stroke="#000" stroke-width="2.4"/>
<text x="795" y="1064.4" font-size="21.5" class="a" font-weight="bold" text-anchor="end" textLength="29.5" lengthAdjust="spacingAndGlyphs">1.0</text>
<line x1="798" y1="1117.8" x2="806.6" y2="1117.8" stroke="#000" stroke-width="2.4"/>
<text x="795" y="1125.4" font-size="21.5" class="a" font-weight="bold" text-anchor="end" textLength="29.5" lengthAdjust="spacingAndGlyphs">0.5</text>
<line x1="798" y1="1179.2" x2="806.6" y2="1179.2" stroke="#000" stroke-width="2.4"/>
<text x="795" y="1186.8" font-size="21.5" class="a" font-weight="bold" text-anchor="end" textLength="29.5" lengthAdjust="spacingAndGlyphs">0.0</text>
<line x1="825.8" y1="1061" x2="825.8" y2="1016.9" stroke="#000" stroke-width="3"/>
<line x1="822.1" y1="1016.9" x2="829.5" y2="1016.9" stroke="#000" stroke-width="3.2"/>
<rect x="817.9" y="1061" width="15.7" height="118.2" fill="#0000ff" stroke="#000" stroke-width="2.5"/>
<line x1="825.8" y1="1179.2" x2="825.8" y2="1187.7" stroke="#000" stroke-width="2.3"/>
<line x1="849.1" y1="1073.6" x2="849.1" y2="1051.6" stroke="#000" stroke-width="3"/>
<line x1="845.4" y1="1051.6" x2="852.8" y2="1051.6" stroke="#000" stroke-width="3.2"/>
<rect x="841.3" y="1073.6" width="15.7" height="105.6" fill="#ff0000" stroke="#000" stroke-width="2.5"/>
<line x1="849.1" y1="1179.2" x2="849.1" y2="1187.7" stroke="#000" stroke-width="2.3"/>
<text x="832.9" y="1203" font-size="13.2" text-anchor="middle">SREBP1</text>
<line x1="889.3" y1="997" x2="889.3" y2="934" stroke="#000" stroke-width="3"/>
<line x1="885.6" y1="934" x2="893" y2="934" stroke="#000" stroke-width="3.2"/>
<rect x="881.5" y="997" width="15.7" height="182.2" fill="#0000ff" stroke="#000" stroke-width="2.5"/>
<line x1="889.3" y1="1179.2" x2="889.3" y2="1187.7" stroke="#000" stroke-width="2.3"/>
<line x1="912.7" y1="993.8" x2="912.7" y2="969.2" stroke="#000" stroke-width="3"/>
<line x1="909" y1="969.2" x2="916.4" y2="969.2" stroke="#000" stroke-width="3.2"/>
<rect x="904.8" y="993.8" width="15.7" height="185.4" fill="#ff0000" stroke="#000" stroke-width="2.5"/>
<line x1="912.7" y1="1179.2" x2="912.7" y2="1187.7" stroke="#000" stroke-width="2.3"/>
<text x="904.3" y="1203" font-size="13.2" text-anchor="middle">SREBP2</text>
<line x1="952.8" y1="1021.1" x2="952.8" y2="986.5" stroke="#000" stroke-width="3"/>
<line x1="949.1" y1="986.5" x2="956.5" y2="986.5" stroke="#000" stroke-width="3.2"/>
<rect x="945" y="1021.1" width="15.7" height="158.1" fill="#0000ff" stroke="#000" stroke-width="2.5"/>
<line x1="952.8" y1="1179.2" x2="952.8" y2="1187.7" stroke="#000" stroke-width="2.3"/>
<line x1="976.2" y1="1012.2" x2="976.2" y2="1002.8" stroke="#000" stroke-width="3"/>
<line x1="972.5" y1="1002.8" x2="979.9" y2="1002.8" stroke="#000" stroke-width="3.2"/>
<rect x="968.4" y="1012.2" width="15.7" height="167" fill="#ff0000" stroke="#000" stroke-width="2.5"/>
<line x1="976.2" y1="1179.2" x2="976.2" y2="1187.7" stroke="#000" stroke-width="2.3"/>
<text x="966.8" y="1203" font-size="13.2" text-anchor="middle">apoB100</text>
<line x1="1016.9" y1="1096.8" x2="1016.9" y2="1087.8" stroke="#000" stroke-width="3"/>
<line x1="1013.2" y1="1087.8" x2="1020.6" y2="1087.8" stroke="#000" stroke-width="3.2"/>
<rect x="1009.1" y="1096.8" width="15.7" height="82.4" fill="#0000ff" stroke="#000" stroke-width="2.5"/>
<line x1="1016.9" y1="1179.2" x2="1016.9" y2="1187.7" stroke="#000" stroke-width="2.3"/>
<line x1="1040.3" y1="1088.3" x2="1040.3" y2="1058.4" stroke="#000" stroke-width="3"/>
<line x1="1036.6" y1="1058.4" x2="1044" y2="1058.4" stroke="#000" stroke-width="3.2"/>
<rect x="1032.4" y="1088.3" width="15.7" height="90.9" fill="#ff0000" stroke="#000" stroke-width="2.5"/>
<line x1="1040.3" y1="1179.2" x2="1040.3" y2="1187.7" stroke="#000" stroke-width="2.3"/>
<text x="1031.9" y="1203" font-size="13.2" text-anchor="middle">HMGCR</text>
<line x1="1080.4" y1="1087.8" x2="1080.4" y2="1079.4" stroke="#000" stroke-width="3"/>
<line x1="1076.7" y1="1079.4" x2="1084.1" y2="1079.4" stroke="#000" stroke-width="3.2"/>
<rect x="1072.6" y="1087.8" width="15.7" height="91.4" fill="#0000ff" stroke="#000" stroke-width="2.5"/>
<line x1="1080.4" y1="1179.2" x2="1080.4" y2="1187.7" stroke="#000" stroke-width="2.3"/>
<line x1="1103.8" y1="1093.6" x2="1103.8" y2="1070" stroke="#000" stroke-width="3"/>
<line x1="1100.1" y1="1070" x2="1107.5" y2="1070" stroke="#000" stroke-width="3.2"/>
<rect x="1096" y="1093.6" width="15.7" height="85.6" fill="#ff0000" stroke="#000" stroke-width="2.5"/>
<line x1="1103.8" y1="1179.2" x2="1103.8" y2="1187.7" stroke="#000" stroke-width="2.3"/>
<text x="1090.7" y="1203" font-size="13.2" text-anchor="middle">FAS</text>
<line x1="1144" y1="1071.5" x2="1144" y2="1057.4" stroke="#000" stroke-width="3"/>
<line x1="1140.3" y1="1057.4" x2="1147.7" y2="1057.4" stroke="#000" stroke-width="3.2"/>
<rect x="1136.1" y="1071.5" width="15.7" height="107.7" fill="#0000ff" stroke="#000" stroke-width="2.5"/>
<line x1="1144" y1="1179.2" x2="1144" y2="1187.7" stroke="#000" stroke-width="2.3"/>
<line x1="1167.3" y1="1046.3" x2="1167.3" y2="1032.7" stroke="#000" stroke-width="3"/>
<line x1="1163.6" y1="1032.7" x2="1171" y2="1032.7" stroke="#000" stroke-width="3.2"/>
<rect x="1159.5" y="1046.3" width="15.7" height="132.9" fill="#ff0000" stroke="#000" stroke-width="2.5"/>
<line x1="1167.3" y1="1179.2" x2="1167.3" y2="1187.7" stroke="#000" stroke-width="2.3"/>
<text x="1162.1" y="1203" font-size="13.2" text-anchor="middle">VLDLR</text>
<line x1="1208" y1="1093.6" x2="1208" y2="1072.1" stroke="#000" stroke-width="3"/>
<line x1="1204.3" y1="1072.1" x2="1211.7" y2="1072.1" stroke="#000" stroke-width="3.2"/>
<rect x="1200.2" y="1093.6" width="15.7" height="85.6" fill="#0000ff" stroke="#000" stroke-width="2.5"/>
<line x1="1208" y1="1179.2" x2="1208" y2="1187.7" stroke="#000" stroke-width="2.3"/>
<line x1="1231.4" y1="1081" x2="1231.4" y2="1058.9" stroke="#000" stroke-width="3"/>
<line x1="1227.7" y1="1058.9" x2="1235.1" y2="1058.9" stroke="#000" stroke-width="3.2"/>
<rect x="1223.6" y="1081" width="15.7" height="98.2" fill="#ff0000" stroke="#000" stroke-width="2.5"/>
<line x1="1231.4" y1="1179.2" x2="1231.4" y2="1187.7" stroke="#000" stroke-width="2.3"/>
<text x="1226.7" y="1203" font-size="13.2" text-anchor="middle">LDLRAP1</text>
<line x1="1271.6" y1="1020.1" x2="1271.6" y2="987.5" stroke="#000" stroke-width="3"/>
<line x1="1267.9" y1="987.5" x2="1275.3" y2="987.5" stroke="#000" stroke-width="3.2"/>
<rect x="1263.7" y="1020.1" width="15.7" height="159.1" fill="#0000ff" stroke="#000" stroke-width="2.5"/>
<line x1="1271.6" y1="1179.2" x2="1271.6" y2="1187.7" stroke="#000" stroke-width="2.3"/>
<line x1="1294.9" y1="1087.8" x2="1294.9" y2="1052.1" stroke="#000" stroke-width="3"/>
<line x1="1291.2" y1="1052.1" x2="1298.6" y2="1052.1" stroke="#000" stroke-width="3.2"/>
<rect x="1287.1" y="1087.8" width="15.7" height="91.4" fill="#ff0000" stroke="#000" stroke-width="2.5"/>
<line x1="1294.9" y1="1179.2" x2="1294.9" y2="1187.7" stroke="#000" stroke-width="2.3"/>
<text x="1288.1" y="1203" font-size="13.2" text-anchor="middle">HNF-1</text>
<line x1="1335.1" y1="1061.6" x2="1335.1" y2="1044.8" stroke="#000" stroke-width="3"/>
<line x1="1331.4" y1="1044.8" x2="1338.8" y2="1044.8" stroke="#000" stroke-width="3.2"/>
<rect x="1327.3" y="1061.6" width="15.7" height="117.6" fill="#0000ff" stroke="#000" stroke-width="2.5"/>
<line x1="1335.1" y1="1179.2" x2="1335.1" y2="1187.7" stroke="#000" stroke-width="2.3"/>
<line x1="1358.5" y1="1101.5" x2="1358.5" y2="1082.6" stroke="#000" stroke-width="3"/>
<line x1="1354.8" y1="1082.6" x2="1362.2" y2="1082.6" stroke="#000" stroke-width="3.2"/>
<rect x="1350.6" y="1101.5" width="15.7" height="77.7" fill="#ff0000" stroke="#000" stroke-width="2.5"/>
<line x1="1358.5" y1="1179.2" x2="1358.5" y2="1187.7" stroke="#000" stroke-width="2.3"/>
<text x="1351.6" y="1203" font-size="13.2" text-anchor="middle">PCSK9</text>
<line x1="1399.2" y1="1104.1" x2="1399.2" y2="1066.8" stroke="#000" stroke-width="3"/>
<line x1="1395.5" y1="1066.8" x2="1402.9" y2="1066.8" stroke="#000" stroke-width="3.2"/>
<rect x="1391.3" y="1104.1" width="15.7" height="75.1" fill="#0000ff" stroke="#000" stroke-width="2.5"/>
<line x1="1399.2" y1="1179.2" x2="1399.2" y2="1187.7" stroke="#000" stroke-width="2.3"/>
<line x1="1422.5" y1="1032.7" x2="1422.5" y2="997" stroke="#000" stroke-width="3"/>
<line x1="1418.8" y1="997" x2="1426.2" y2="997" stroke="#000" stroke-width="3.2"/>
<rect x="1414.7" y="1032.7" width="15.7" height="146.5" fill="#ff0000" stroke="#000" stroke-width="2.5"/>
<line x1="1422.5" y1="1179.2" x2="1422.5" y2="1187.7" stroke="#000" stroke-width="2.3"/>
<text x="1412" y="1203" font-size="13.2" text-anchor="middle">PPARG</text>
<text x="1294.9" y="1040" font-size="19" text-anchor="middle">*</text>
<text x="1358.5" y="1079.4" font-size="19" text-anchor="middle">*</text>
<text x="1422.5" y="991.2" font-size="19" text-anchor="middle">*</text>
<rect x="1305" y="865.3" width="30.3" height="13.7" fill="#0000ff" stroke="#000" stroke-width="3" rx="1"/>
<rect x="1305" y="901" width="30.3" height="13.4" fill="#ff0000" stroke="#000" stroke-width="3" rx="1"/>
<text x="1353.4" y="879" font-size="23.5" textLength="77.8" lengthAdjust="spacingAndGlyphs">Scramble</text>
<text x="1353.4" y="916.3" font-size="23.3" class="a" textLength="57.6" lengthAdjust="spacingAndGlyphs">siRNA</text>
<text x="742" y="1006" font-size="17.7" text-anchor="middle" transform="rotate(-90 742 1006)" textLength="173.3" lengthAdjust="spacingAndGlyphs" dominant-baseline="central">Normarlized to GAPDH</text>
</g>
<rect x="94.3" y="1350.6" width="106.3" height="216.4" fill="#0000ff" stroke="#000" stroke-width="2.6"/>
<rect x="254.3" y="1438" width="107.2" height="129" fill="#ff0000" stroke="#000" stroke-width="2.6"/>
<line x1="147.2" y1="1350.6" x2="147.2" y2="1316" stroke="#000" stroke-width="3"/>
<line x1="120.7" y1="1316" x2="173.7" y2="1316" stroke="#000" stroke-width="4.4"/>
<line x1="307.8" y1="1438" x2="307.8" y2="1433.9" stroke="#000" stroke-width="3"/>
<line x1="281.3" y1="1433.9" x2="334.3" y2="1433.9" stroke="#000" stroke-width="4.4"/>
<line x1="67.8" y1="1290.6" x2="67.8" y2="1568.5" stroke="#000" stroke-width="3"/>
<line x1="66.3" y1="1567" x2="388.7" y2="1567" stroke="#000" stroke-width="3"/>
<line x1="61.3" y1="1292.9" x2="67.8" y2="1292.9" stroke="#000" stroke-width="2.4"/>
<text x="58.3" y="1300.2" font-size="20.4" class="a" font-weight="bold" text-anchor="end" textLength="8.8" lengthAdjust="spacingAndGlyphs">4</text>
<line x1="61.3" y1="1361.3" x2="67.8" y2="1361.3" stroke="#000" stroke-width="2.4"/>
<text x="58.3" y="1368.6" font-size="20.4" class="a" font-weight="bold" text-anchor="end" textLength="8.8" lengthAdjust="spacingAndGlyphs">3</text>
<line x1="61.3" y1="1430" x2="67.8" y2="1430" stroke="#000" stroke-width="2.4"/>
<text x="58.3" y="1437.3" font-size="20.4" class="a" font-weight="bold" text-anchor="end" textLength="8.8" lengthAdjust="spacingAndGlyphs">2</text>
<line x1="61.3" y1="1498.7" x2="67.8" y2="1498.7" stroke="#000" stroke-width="2.4"/>
<text x="58.3" y="1506" font-size="20.4" class="a" font-weight="bold" text-anchor="end" textLength="8.8" lengthAdjust="spacingAndGlyphs">1</text>
<line x1="61.3" y1="1567" x2="67.8" y2="1567" stroke="#000" stroke-width="2.4"/>
<text x="58.3" y="1574.3" font-size="20.4" class="a" font-weight="bold" text-anchor="end" textLength="8.8" lengthAdjust="spacingAndGlyphs">0</text>
<line x1="147.4" y1="1567" x2="147.4" y2="1574.5" stroke="#000" stroke-width="3"/>
<line x1="307.9" y1="1567" x2="307.9" y2="1574.5" stroke="#000" stroke-width="3"/>
<path d="M147.2 1306.7V1287.6H307.8V1427.6" fill="none" stroke="#000" stroke-width="2.4" stroke-linejoin="round" stroke-linecap="round"/>
<text x="235" y="1285.4" font-size="20" text-anchor="middle">*</text>
<text x="137.3" y="1607.8" font-size="17.6" text-anchor="middle">Scramble</text>
<text x="299.4" y="1607.8" font-size="17.6" text-anchor="middle">siRNA</text>
<text x="38.8" y="1424.6" font-size="17.6" text-anchor="middle" transform="rotate(-90 38.8 1424.6)" textLength="256" lengthAdjust="spacingAndGlyphs" dominant-baseline="central">PCSK9 contents&#160;&#160;(ng/1*10^6 cells)</text>
<rect x="514.6" y="1322.3" width="125.7" height="245.5" fill="#0000ff" stroke="#000" stroke-width="3.9"/>
<rect x="701.9" y="1370.5" width="125.3" height="197.9" fill="#ff0000" stroke="#000" stroke-width="2.6"/>
<line x1="576.8" y1="1322.3" x2="576.8" y2="1317.4" stroke="#000" stroke-width="3"/>
<line x1="545.8" y1="1317.4" x2="607.8" y2="1317.4" stroke="#000" stroke-width="4"/>
<line x1="764.7" y1="1370.5" x2="764.7" y2="1364" stroke="#000" stroke-width="3"/>
<line x1="733.7" y1="1364" x2="795.7" y2="1364" stroke="#000" stroke-width="4"/>
<line x1="484" y1="1291.1" x2="484" y2="1569.7" stroke="#000" stroke-width="2.4"/>
<line x1="482.8" y1="1568.5" x2="859.8" y2="1568.5" stroke="#000" stroke-width="2.4"/>
<line x1="477.5" y1="1292" x2="484" y2="1292" stroke="#000" stroke-width="2.4"/>
<text x="473.5" y="1299.5" font-size="21" class="a" font-weight="bold" text-anchor="end" textLength="19.8" lengthAdjust="spacingAndGlyphs">40</text>
<line x1="477.5" y1="1360.5" x2="484" y2="1360.5" stroke="#000" stroke-width="2.4"/>
<text x="473.5" y="1368" font-size="21" class="a" font-weight="bold" text-anchor="end" textLength="19.8" lengthAdjust="spacingAndGlyphs">30</text>
<line x1="477.5" y1="1430" x2="484" y2="1430" stroke="#000" stroke-width="2.4"/>
<text x="473.5" y="1437.5" font-size="21" class="a" font-weight="bold" text-anchor="end" textLength="19.8" lengthAdjust="spacingAndGlyphs">20</text>
<line x1="477.5" y1="1499" x2="484" y2="1499" stroke="#000" stroke-width="2.4"/>
<text x="473.5" y="1506.5" font-size="21" class="a" font-weight="bold" text-anchor="end" textLength="19.8" lengthAdjust="spacingAndGlyphs">10</text>
<line x1="477.5" y1="1568.5" x2="484" y2="1568.5" stroke="#000" stroke-width="2.4"/>
<text x="473.5" y="1576" font-size="21" class="a" font-weight="bold" text-anchor="end" textLength="9.9" lengthAdjust="spacingAndGlyphs">0</text>
<line x1="577.5" y1="1568.5" x2="577.5" y2="1576" stroke="#000" stroke-width="2.4"/>
<line x1="764.5" y1="1568.5" x2="764.5" y2="1576" stroke="#000" stroke-width="2.4"/>
<path d="M576.2 1307V1289H764.7V1352.6" fill="none" stroke="#000" stroke-width="2.2" stroke-linejoin="round" stroke-linecap="round"/>
<text x="663.1" y="1285.4" font-size="20" text-anchor="middle">*</text>
<text x="580" y="1608.1" font-size="17.6" text-anchor="middle">Scramble</text>
<text x="763" y="1608.1" font-size="17.6" text-anchor="middle">siRNA</text>
<text x="439.7" y="1436" font-size="17.6" text-anchor="middle" transform="rotate(-90 439.7 1436)" textLength="216.7" lengthAdjust="spacingAndGlyphs" dominant-baseline="central">PCSK9 concentration&#160;&#160;(ng/ml)</text>
<g>
<line x1="976.3" y1="1292.2" x2="976.3" y2="1570.3" stroke="#000" stroke-width="2.85"/>
<line x1="975" y1="1569.1" x2="1402.7" y2="1569.1" stroke="#000" stroke-width="2.6"/>
<line x1="968.4" y1="1293.4" x2="976.3" y2="1293.4" stroke="#000" stroke-width="2.4"/>
<text x="966" y="1300.8" font-size="21" class="a" font-weight="bold" text-anchor="end" textLength="30" lengthAdjust="spacingAndGlyphs">1.5</text>
<line x1="968.4" y1="1385.7" x2="976.3" y2="1385.7" stroke="#000" stroke-width="2.4"/>
<text x="966" y="1393.1" font-size="21" class="a" font-weight="bold" text-anchor="end" textLength="30" lengthAdjust="spacingAndGlyphs">1.0</text>
<line x1="968.4" y1="1477.6" x2="976.3" y2="1477.6" stroke="#000" stroke-width="2.4"/>
<text x="966" y="1485" font-size="21" class="a" font-weight="bold" text-anchor="end" textLength="30" lengthAdjust="spacingAndGlyphs">0.5</text>
<line x1="968.4" y1="1569.1" x2="976.3" y2="1569.1" stroke="#000" stroke-width="2.4"/>
<text x="966" y="1576.5" font-size="21" class="a" font-weight="bold" text-anchor="end" textLength="30" lengthAdjust="spacingAndGlyphs">0.0</text>
<line x1="1003.6" y1="1384.9" x2="1003.6" y2="1372.8" stroke="#000" stroke-width="2.4"/>
<line x1="996.7" y1="1372.8" x2="1010.5" y2="1372.8" stroke="#000" stroke-width="2.6"/>
<rect x="990.8" y="1384.9" width="25.6" height="184.2" fill="#0000ff" stroke="#000" stroke-width="2.2"/>
<line x1="1044.7" y1="1449.8" x2="1044.7" y2="1443.8" stroke="#000" stroke-width="2.4"/>
<line x1="1037.8" y1="1443.8" x2="1051.6" y2="1443.8" stroke="#000" stroke-width="2.6"/>
<rect x="1031.9" y="1449.8" width="25.6" height="119.3" fill="#ff0000" stroke="#000" stroke-width="2.2"/>
<line x1="1113.2" y1="1432.5" x2="1113.2" y2="1422.4" stroke="#000" stroke-width="2.4"/>
<line x1="1106.3" y1="1422.4" x2="1120.1" y2="1422.4" stroke="#000" stroke-width="2.6"/>
<rect x="1100.4" y="1432.5" width="25.6" height="136.6" fill="#0000ff" stroke="#000" stroke-width="2.2"/>
<line x1="1154.3" y1="1466.3" x2="1154.3" y2="1454.2" stroke="#000" stroke-width="2.4"/>
<line x1="1147.4" y1="1454.2" x2="1161.2" y2="1454.2" stroke="#000" stroke-width="2.6"/>
<rect x="1141.5" y="1466.3" width="25.6" height="102.8" fill="#ff0000" stroke="#000" stroke-width="2.2"/>
<line x1="1222.8" y1="1455" x2="1222.8" y2="1447.4" stroke="#000" stroke-width="2.4"/>
<line x1="1215.9" y1="1447.4" x2="1229.7" y2="1447.4" stroke="#000" stroke-width="2.6"/>
<rect x="1210" y="1455" width="25.6" height="114" fill="#0000ff" stroke="#000" stroke-width="2.2"/>
<line x1="1263.9" y1="1472.4" x2="1263.9" y2="1466.7" stroke="#000" stroke-width="2.4"/>
<line x1="1257" y1="1466.7" x2="1270.8" y2="1466.7" stroke="#000" stroke-width="2.6"/>
<rect x="1251.1" y="1472.4" width="25.6" height="96.7" fill="#ff0000" stroke="#000" stroke-width="2.2"/>
<line x1="1332.4" y1="1497.4" x2="1332.4" y2="1488.9" stroke="#000" stroke-width="2.4"/>
<line x1="1325.5" y1="1488.9" x2="1339.3" y2="1488.9" stroke="#000" stroke-width="2.6"/>
<rect x="1319.7" y="1497.4" width="25.6" height="71.7" fill="#0000ff" stroke="#000" stroke-width="2.2"/>
<line x1="1373.6" y1="1497.4" x2="1373.6" y2="1489.7" stroke="#000" stroke-width="2.4"/>
<line x1="1366.7" y1="1489.7" x2="1380.5" y2="1489.7" stroke="#000" stroke-width="2.6"/>
<rect x="1360.8" y="1497.4" width="25.6" height="71.7" fill="#ff0000" stroke="#000" stroke-width="2.2"/>
<line x1="1023.5" y1="1569.1" x2="1023.5" y2="1576.1" stroke="#000" stroke-width="2.4"/>
<line x1="1133.5" y1="1569.1" x2="1133.5" y2="1576.1" stroke="#000" stroke-width="2.4"/>
<line x1="1243.1" y1="1569.1" x2="1243.1" y2="1576.1" stroke="#000" stroke-width="2.4"/>
<line x1="1352.7" y1="1569.1" x2="1352.7" y2="1576.1" stroke="#000" stroke-width="2.4"/>
<path d="M1002.5 1372V1345H1045.2V1442.6" fill="none" stroke="#000" stroke-width="2.7" stroke-linejoin="round" stroke-linecap="round"/>
<path d="M1112.9 1421.2V1391.8H1154V1453.4" fill="none" stroke="#000" stroke-width="2.7" stroke-linejoin="round" stroke-linecap="round"/>
<path d="M1222.9 1446.2V1419.6H1265.3V1465.5" fill="none" stroke="#000" stroke-width="2.7" stroke-linejoin="round" stroke-linecap="round"/>
<path d="M1330.9 1486.9V1460.3H1373.3V1486.9" fill="none" stroke="#000" stroke-width="2.7" stroke-linejoin="round" stroke-linecap="round"/>
<text x="1025.1" y="1343" font-size="18" text-anchor="middle">*</text>
<text x="1135.5" y="1388.5" font-size="18" text-anchor="middle">*</text>
<text x="1245.1" y="1415.5" font-size="18" text-anchor="middle">*</text>
<text x="1355.5" y="1454.8" font-size="21" text-anchor="middle">N.S</text>
<text x="1023.1" y="1598.1" font-size="20.5" text-anchor="middle">0</text>
<text x="1137.1" y="1598.1" font-size="20.5" text-anchor="middle">5</text>
<text x="1247.9" y="1598.1" font-size="20.5" text-anchor="middle">10</text>
<text x="1355.5" y="1598.1" font-size="20.5" text-anchor="middle">15</text>
<text x="925.1" y="1598.1" font-size="20.5">Berberine</text>
<text x="942.5" y="1618.2" font-size="20.5">(μg/ml)</text>
<rect x="1260" y="1295.4" width="27.8" height="11.3" fill="#0000ff" stroke="#000" stroke-width="2.7"/>
<rect x="1260" y="1333.1" width="27.8" height="11.3" fill="#ff0000" stroke="#000" stroke-width="2.7"/>
<text x="1306.5" y="1308.2" font-size="23.4">Scramble</text>
<text x="1306.5" y="1346.2" font-size="22.6">siRNA</text>
<text x="925.5" y="1426" font-size="17.7" text-anchor="middle" transform="rotate(-90 925.5 1426)" textLength="118.9" lengthAdjust="spacingAndGlyphs" dominant-baseline="central">PCSK9/GAPDH</text>
</g>
<g>
<defs><filter id="bb" filterUnits="userSpaceOnUse" x="90" y="1650" width="660" height="260"><feGaussianBlur stdDeviation="0.9"/></filter><filter id="bb2" filterUnits="userSpaceOnUse" x="90" y="1650" width="660" height="260"><feGaussianBlur stdDeviation="1.6"/></filter></defs>
<text x="29.4" y="1684.8" font-size="17.6">HNF1α</text>
<text x="29.4" y="1732.8" font-size="17.6">PCSK9</text>
<text x="29.4" y="1796.2" font-size="17.6">LDLR</text>
<text x="29.4" y="1876.6" font-size="17.6">GAPDH</text>
<text x="239.2" y="1929.2" font-size="17.6" text-anchor="middle">Scramble</text>
<text x="571.3" y="1929.2" font-size="17.6" text-anchor="middle">siRNA</text>
<clipPath id="bc107_1669"><rect x="107.7" y="1669.8" width="283.9" height="28.5"/></clipPath>
<rect x="107.7" y="1669.8" width="283.9" height="28.5" fill="#e6e6e6"/>
<g clip-path="url(#bc107_1669)">
<g filter="url(#bb)" fill="none" stroke-linecap="round">
<path d="M126.5 1688.3Q142.2 1693.9 158 1687.1Q142.2 1686.5 126.5 1688.3Z" fill="#1c1c1c" stroke="#1c1c1c" stroke-width="0.8" stroke-linejoin="round"/>
<path d="M169.2 1688.5Q185.5 1694.1 201.8 1687.3Q185.5 1686.7 169.2 1688.5Z" fill="#1c1c1c" stroke="#1c1c1c" stroke-width="0.8" stroke-linejoin="round"/>
<path d="M215 1685.8Q231.3 1691.5 247.6 1684.6Q231.3 1684 215 1685.8Z" fill="#1c1c1c" stroke="#1c1c1c" stroke-width="0.8" stroke-linejoin="round"/>
<path d="M260.8 1682.8Q276.1 1688.4 291.3 1681.6Q276.1 1681 260.8 1682.8Z" fill="#1c1c1c" stroke="#1c1c1c" stroke-width="0.8" stroke-linejoin="round"/>
<path d="M306.6 1680.2Q321.9 1685.8 337.1 1678.9Q321.9 1678.3 306.6 1680.2Z" fill="#1c1c1c" stroke="#1c1c1c" stroke-width="0.8" stroke-linejoin="round"/>
<path d="M351.4 1677.7Q367.1 1683.3 382.9 1676.5Q367.1 1675.9 351.4 1677.7Z" fill="#1c1c1c" stroke="#1c1c1c" stroke-width="0.8" stroke-linejoin="round"/>
</g>
</g>
<clipPath id="bc107_1719"><rect x="107.7" y="1719" width="283.9" height="28.1"/></clipPath>
<rect x="107.7" y="1719" width="283.9" height="28.1" fill="#bcbcbc"/>
<g clip-path="url(#bc107_1719)">
<g filter="url(#bb2)" fill="none" stroke-linecap="round">
<path d="M122.8 1725.5L151.5 1725.5" stroke="#a4a4a4" stroke-width="8.1"/>
<path d="M168.6 1725.5L194.2 1725.5" stroke="#a4a4a4" stroke-width="8.1"/>
<path d="M212.4 1725.1L242.1 1725.1" stroke="#a4a4a4" stroke-width="8.1"/>
<path d="M260.2 1724.7L283.8 1724.7" stroke="#a4a4a4" stroke-width="8.1"/>
<path d="M302.9 1724.1L329.6 1724.1" stroke="#a4a4a4" stroke-width="8.1"/>
<path d="M349.7 1722.1L379.5 1722.1" stroke="#a4a4a4" stroke-width="8.1"/>
</g>
<g filter="url(#bb)" fill="none" stroke-linecap="round">
<path d="M122 1736.1L152.3 1735.3" stroke="#1e1e1e" stroke-width="7.3"/>
<path d="M167.8 1736.1L195.1 1735.3" stroke="#1e1e1e" stroke-width="7.3"/>
<path d="M211.5 1734.9L242.9 1734.1" stroke="#1e1e1e" stroke-width="7.3"/>
<path d="M259.4 1733.7L284.6 1732.9" stroke="#1e1e1e" stroke-width="7.3"/>
<path d="M302.1 1732.1L330.4 1731.2" stroke="#1e1e1e" stroke-width="7.3"/>
<path d="M348.9 1729.2L380.3 1728.4" stroke="#1e1e1e" stroke-width="7.3"/>
</g>
</g>
<clipPath id="bc107_1782"><rect x="107.7" y="1782.1" width="283.9" height="27.9"/></clipPath>
<rect x="107.7" y="1782.1" width="283.9" height="27.9" fill="#d6d6d6"/>
<g clip-path="url(#bc107_1782)">
<g filter="url(#bb2)" fill="none" stroke-linecap="round">
<path d="M126.9 1799.6L151.5 1799" stroke="#8a8a8a" stroke-width="7.3"/>
<path d="M172.7 1798.4L196.3 1797.8" stroke="#7a7a7a" stroke-width="7.3"/>
<path d="M216.4 1795.6L239 1794.9" stroke="#3c3c3c" stroke-width="7.3"/>
<path d="M259.2 1793.5L283.8 1792.9" stroke="#1e1e1e" stroke-width="7.3"/>
<path d="M302.9 1791.9L328.6 1791.3" stroke="#222" stroke-width="7.3"/>
<path d="M348.7 1789.9L372.3 1789.2" stroke="#2a2a2a" stroke-width="7.3"/>
</g>
</g>
<clipPath id="bc107_1847"><rect x="107.7" y="1847.3" width="283.9" height="42.3"/></clipPath>
<rect x="107.7" y="1847.3" width="283.9" height="42.3" fill="#e7e7e7"/>
<g clip-path="url(#bc107_1847)">
<g filter="url(#bb)" fill="none" stroke-linecap="round">
<path d="M123 1876.4L146.2 1874.3" stroke="#222" stroke-width="18.7"/>
<path d="M167.8 1874.3L191 1872.3" stroke="#222" stroke-width="18.7"/>
<path d="M212.6 1871.1L237.8 1869" stroke="#222" stroke-width="18.7"/>
<path d="M260.4 1868.6L281.6 1866.6" stroke="#222" stroke-width="18.7"/>
<path d="M304.2 1865.6L327.4 1863.5" stroke="#222" stroke-width="18.7"/>
<path d="M349.9 1862.5L375.2 1860.5" stroke="#222" stroke-width="18.7"/>
</g>
</g>
<clipPath id="bc438_1669"><rect x="439" y="1669.8" width="284.1" height="28.5"/></clipPath>
<rect x="439" y="1669.8" width="284.1" height="28.5" fill="#e6e6e6"/>
<g clip-path="url(#bc438_1669)">
<g filter="url(#bb)" fill="none" stroke-linecap="round">
<path d="M445.3 1684Q459.5 1688.8 473.8 1683.4Q459.5 1682.7 445.3 1684Z" fill="#9a9a9a" stroke="#9a9a9a" stroke-width="0.8" stroke-linejoin="round"/>
<path d="M489 1684Q504.3 1688.8 519.6 1683.4Q504.3 1682.7 489 1684Z" fill="#8c8c8c" stroke="#8c8c8c" stroke-width="0.8" stroke-linejoin="round"/>
<path d="M534.8 1682.6Q550.1 1687.4 565.4 1682Q550.1 1681.3 534.8 1682.6Z" fill="#5c5c5c" stroke="#5c5c5c" stroke-width="0.8" stroke-linejoin="round"/>
<path d="M580.6 1679.5Q595.4 1684.4 610.1 1678.9Q595.4 1678.2 580.6 1679.5Z" fill="#8a8a8a" stroke="#8a8a8a" stroke-width="0.8" stroke-linejoin="round"/>
<path d="M625.4 1678.1Q640.7 1682.9 655.9 1677.5Q640.7 1676.8 625.4 1678.1Z" fill="#888" stroke="#888" stroke-width="0.8" stroke-linejoin="round"/>
<path d="M671.2 1676.5Q687 1681.3 702.7 1675.9Q687 1675.2 671.2 1676.5Z" fill="#999" stroke="#999" stroke-width="0.8" stroke-linejoin="round"/>
</g>
</g>
<clipPath id="bc438_1719"><rect x="439" y="1719" width="284.1" height="28.1"/></clipPath>
<rect x="439" y="1719" width="284.1" height="28.1" fill="#bcbcbc"/>
<g clip-path="url(#bc438_1719)">
<g filter="url(#bb2)" fill="none" stroke-linecap="round">
<path d="M450.8 1727.2L475.4 1727.2" stroke="#a2a2a2" stroke-width="8.1"/>
<path d="M496.6 1727.2L521.2 1727.2" stroke="#a2a2a2" stroke-width="8.1"/>
<path d="M542.4 1726.2L566 1726.2" stroke="#a2a2a2" stroke-width="8.1"/>
<path d="M587.1 1724.1L611.8 1724.1" stroke="#a2a2a2" stroke-width="8.1"/>
<path d="M629.9 1721.7L657.6 1721.7" stroke="#a2a2a2" stroke-width="8.1"/>
<path d="M676.7 1720.7L703.4 1720.7" stroke="#a2a2a2" stroke-width="8.1"/>
</g>
<g filter="url(#bb)" fill="none" stroke-linecap="round">
<path d="M450.2 1738.8L476 1738" stroke="#1e1e1e" stroke-width="7.3"/>
<path d="M495.9 1738.2L521.8 1737.3" stroke="#1e1e1e" stroke-width="7.3"/>
<path d="M541.7 1735.7L566.6 1734.9" stroke="#1e1e1e" stroke-width="7.3"/>
<path d="M586.5 1732.9L612.4 1732.1" stroke="#1e1e1e" stroke-width="7.3"/>
<path d="M629.3 1730.4L658.2 1729.6" stroke="#1e1e1e" stroke-width="7.3"/>
<path d="M676.1 1728.6L704 1727.8" stroke="#1e1e1e" stroke-width="7.3"/>
</g>
</g>
<clipPath id="bc438_1782"><rect x="439" y="1782.1" width="284.1" height="27.9"/></clipPath>
<rect x="439" y="1782.1" width="284.1" height="27.9" fill="#d6d6d6"/>
<g clip-path="url(#bc438_1782)">
<g filter="url(#bb)" fill="none" stroke-linecap="round">
<path d="M453.4 1800L474.8 1798.8" stroke="#222" stroke-width="11.8"/>
<path d="M499.2 1797L519.6 1795.8" stroke="#222" stroke-width="11.8"/>
<path d="M544 1796.4L564.3 1795.2" stroke="#222" stroke-width="11.8"/>
<path d="M587.7 1794.3L610.1 1793.1" stroke="#222" stroke-width="11.8"/>
<path d="M634.6 1792.9L653.9 1791.7" stroke="#222" stroke-width="11.8"/>
<path d="M678.3 1790.3L700.7 1789" stroke="#222" stroke-width="11.8"/>
</g>
</g>
<clipPath id="bc438_1847"><rect x="439" y="1847.3" width="284.1" height="42.3"/></clipPath>
<rect x="439" y="1847.3" width="284.1" height="42.3" fill="#e7e7e7"/>
<g clip-path="url(#bc438_1847)">
<g filter="url(#bb)" fill="none" stroke-linecap="round">
<path d="M451.4 1876.6L473.8 1874.9" stroke="#222" stroke-width="17.5"/>
<path d="M497.2 1873.5L520.6 1871.9" stroke="#222" stroke-width="17.5"/>
<path d="M543 1870.9L564.3 1869.2" stroke="#222" stroke-width="17.5"/>
<path d="M587.7 1866.8L609.1 1865.2" stroke="#222" stroke-width="17.5"/>
<path d="M633.5 1864.4L655.9 1862.7" stroke="#222" stroke-width="17.5"/>
<path d="M679.3 1861.3L704.8 1859.7" stroke="#222" stroke-width="17.5"/>
</g>
</g>
</g>
<rect x="118" y="2098.4" width="117.4" height="155" fill="#0000ff" stroke="#000" stroke-width="2.3"/>
<rect x="293.8" y="2165.9" width="117.3" height="87.5" fill="#ff0000" stroke="#000" stroke-width="2.3"/>
<line x1="176.7" y1="2098.4" x2="176.7" y2="2090.6" stroke="#000" stroke-width="2.7"/>
<line x1="147.7" y1="2090.6" x2="205.7" y2="2090.6" stroke="#000" stroke-width="3.8"/>
<line x1="352.4" y1="2165.9" x2="352.4" y2="2158.4" stroke="#000" stroke-width="2.7"/>
<line x1="323.4" y1="2158.4" x2="381.4" y2="2158.4" stroke="#000" stroke-width="3.8"/>
<line x1="89.9" y1="2018.9" x2="89.9" y2="2254.8" stroke="#000" stroke-width="2.9"/>
<line x1="88.5" y1="2253.4" x2="440.3" y2="2253.4" stroke="#000" stroke-width="2.9"/>
<line x1="83.4" y1="2020" x2="89.9" y2="2020" stroke="#000" stroke-width="2.2"/>
<text x="80.4" y="2026" font-size="16.7" class="a" font-weight="bold" text-anchor="end" textLength="23.2" lengthAdjust="spacingAndGlyphs">1.5</text>
<line x1="83.4" y1="2098" x2="89.9" y2="2098" stroke="#000" stroke-width="2.2"/>
<text x="80.4" y="2104" font-size="16.7" class="a" font-weight="bold" text-anchor="end" textLength="23.2" lengthAdjust="spacingAndGlyphs">1.0</text>
<line x1="83.4" y1="2175.7" x2="89.9" y2="2175.7" stroke="#000" stroke-width="2.2"/>
<text x="80.4" y="2181.7" font-size="16.7" class="a" font-weight="bold" text-anchor="end" textLength="23.2" lengthAdjust="spacingAndGlyphs">0.5</text>
<line x1="83.4" y1="2253.4" x2="89.9" y2="2253.4" stroke="#000" stroke-width="2.2"/>
<text x="80.4" y="2259.4" font-size="16.7" class="a" font-weight="bold" text-anchor="end" textLength="23.2" lengthAdjust="spacingAndGlyphs">0.0</text>
<line x1="176.7" y1="2253.4" x2="176.7" y2="2260.9" stroke="#000" stroke-width="2.9"/>
<line x1="352.5" y1="2253.4" x2="352.5" y2="2260.9" stroke="#000" stroke-width="2.9"/>
<path d="M176.4 2080.4V2042.4H352.8V2146.6" fill="none" stroke="#000" stroke-width="2.2" stroke-linejoin="round" stroke-linecap="round"/>
<text x="273.4" y="2032.2" font-size="20" text-anchor="middle">*</text>
<text x="173.7" y="2293.8" font-size="17.6" text-anchor="middle">Scramble</text>
<text x="359.6" y="2293.8" font-size="17.6" text-anchor="middle">siRNA</text>
<text x="44" y="2143.7" font-size="17.6" text-anchor="middle" transform="rotate(-90 44 2143.7)" textLength="124.5" lengthAdjust="spacingAndGlyphs" dominant-baseline="central">HNF-1α/GAPDH</text>
<rect x="513" y="2098" width="117.3" height="154.4" fill="#0000ff" stroke="#000" stroke-width="2.3"/>
<rect x="688" y="2129.3" width="116.7" height="123.1" fill="#ff0000" stroke="#000" stroke-width="2.3"/>
<line x1="571.6" y1="2098" x2="571.6" y2="2091.3" stroke="#000" stroke-width="2.7"/>
<line x1="542.6" y1="2091.3" x2="600.6" y2="2091.3" stroke="#000" stroke-width="3.8"/>
<line x1="746" y1="2129.3" x2="746" y2="2121.1" stroke="#000" stroke-width="2.7"/>
<line x1="717" y1="2121.1" x2="775" y2="2121.1" stroke="#000" stroke-width="3.8"/>
<line x1="484.8" y1="2018.9" x2="484.8" y2="2253.8" stroke="#000" stroke-width="2.9"/>
<line x1="483.4" y1="2252.4" x2="834.2" y2="2252.4" stroke="#000" stroke-width="2.9"/>
<line x1="478.3" y1="2020" x2="484.8" y2="2020" stroke="#000" stroke-width="2.2"/>
<text x="475.3" y="2026" font-size="16.7" class="a" font-weight="bold" text-anchor="end" textLength="23.2" lengthAdjust="spacingAndGlyphs">1.5</text>
<line x1="478.3" y1="2097.7" x2="484.8" y2="2097.7" stroke="#000" stroke-width="2.2"/>
<text x="475.3" y="2103.7" font-size="16.7" class="a" font-weight="bold" text-anchor="end" textLength="23.2" lengthAdjust="spacingAndGlyphs">1.0</text>
<line x1="478.3" y1="2175.4" x2="484.8" y2="2175.4" stroke="#000" stroke-width="2.2"/>
<text x="475.3" y="2181.4" font-size="16.7" class="a" font-weight="bold" text-anchor="end" textLength="23.2" lengthAdjust="spacingAndGlyphs">0.5</text>
<line x1="478.3" y1="2252.4" x2="484.8" y2="2252.4" stroke="#000" stroke-width="2.2"/>
<text x="475.3" y="2258.4" font-size="16.7" class="a" font-weight="bold" text-anchor="end" textLength="23.2" lengthAdjust="spacingAndGlyphs">0.0</text>
<line x1="571.6" y1="2252.4" x2="571.6" y2="2259.9" stroke="#000" stroke-width="2.9"/>
<line x1="746.4" y1="2252.4" x2="746.4" y2="2259.9" stroke="#000" stroke-width="2.9"/>
<path d="M571.6 2081.4V2031.2H746V2114.3" fill="none" stroke="#000" stroke-width="2.2" stroke-linejoin="round" stroke-linecap="round"/>
<text x="657.8" y="2030.4" font-size="20" text-anchor="middle">*</text>
<text x="573.7" y="2293.8" font-size="17.6" text-anchor="middle">Scramble</text>
<text x="759.6" y="2293.8" font-size="17.6" text-anchor="middle">siRNA</text>
<text x="439" y="2146.6" font-size="17.6" text-anchor="middle" transform="rotate(-90 439 2146.6)" textLength="118.7" lengthAdjust="spacingAndGlyphs" dominant-baseline="central">PCSK9/GAPDH</text>
<rect x="922.1" y="2136.4" width="114" height="113.6" fill="#0000ff" stroke="#000" stroke-width="2.3"/>
<rect x="1093.1" y="2078" width="113.6" height="172" fill="#ff0000" stroke="#000" stroke-width="2.3"/>
<line x1="978.8" y1="2136.4" x2="978.8" y2="2125.2" stroke="#000" stroke-width="2.7"/>
<line x1="950.8" y1="2125.2" x2="1006.8" y2="2125.2" stroke="#000" stroke-width="3.8"/>
<line x1="1149.4" y1="2078" x2="1149.4" y2="2069.6" stroke="#000" stroke-width="2.7"/>
<line x1="1121.4" y1="2069.6" x2="1177.4" y2="2069.6" stroke="#000" stroke-width="3.8"/>
<line x1="894" y1="2021.7" x2="894" y2="2251.4" stroke="#000" stroke-width="2.9"/>
<line x1="892.5" y1="2250" x2="1235.9" y2="2250" stroke="#000" stroke-width="2.9"/>
<line x1="887.5" y1="2022.8" x2="894" y2="2022.8" stroke="#000" stroke-width="2.2"/>
<text x="884.5" y="2028.8" font-size="16.7" class="a" font-weight="bold" text-anchor="end" textLength="23.2" lengthAdjust="spacingAndGlyphs">2.0</text>
<line x1="887.5" y1="2079.4" x2="894" y2="2079.4" stroke="#000" stroke-width="2.2"/>
<text x="884.5" y="2085.4" font-size="16.7" class="a" font-weight="bold" text-anchor="end" textLength="23.2" lengthAdjust="spacingAndGlyphs">1.5</text>
<line x1="887.5" y1="2136.4" x2="894" y2="2136.4" stroke="#000" stroke-width="2.2"/>
<text x="884.5" y="2142.4" font-size="16.7" class="a" font-weight="bold" text-anchor="end" textLength="23.2" lengthAdjust="spacingAndGlyphs">1.0</text>
<line x1="887.5" y1="2193" x2="894" y2="2193" stroke="#000" stroke-width="2.2"/>
<text x="884.5" y="2199" font-size="16.7" class="a" font-weight="bold" text-anchor="end" textLength="23.2" lengthAdjust="spacingAndGlyphs">0.5</text>
<line x1="887.5" y1="2250" x2="894" y2="2250" stroke="#000" stroke-width="2.2"/>
<text x="884.5" y="2256" font-size="16.7" class="a" font-weight="bold" text-anchor="end" textLength="23.2" lengthAdjust="spacingAndGlyphs">0.0</text>
<line x1="979.1" y1="2250" x2="979.1" y2="2257.5" stroke="#000" stroke-width="2.9"/>
<line x1="1149.9" y1="2250" x2="1149.9" y2="2257.5" stroke="#000" stroke-width="2.9"/>
<path d="M978.8 2114.3V2033H1148.7V2061" fill="none" stroke="#000" stroke-width="2.2" stroke-linejoin="round" stroke-linecap="round"/>
<text x="1037.4" y="2030.4" font-size="20" text-anchor="middle">*</text>
<text x="946.5" y="2293.8" font-size="17.6" text-anchor="middle">Scramble</text>
<text x="1134.1" y="2293.8" font-size="17.6" text-anchor="middle">siRNA</text>
<text x="852.6" y="2150.5" font-size="17.6" text-anchor="middle" transform="rotate(-90 852.6 2150.5)" textLength="110.9" lengthAdjust="spacingAndGlyphs" dominant-baseline="central">LDLR/GAPDH</text>
</svg></body></html>
